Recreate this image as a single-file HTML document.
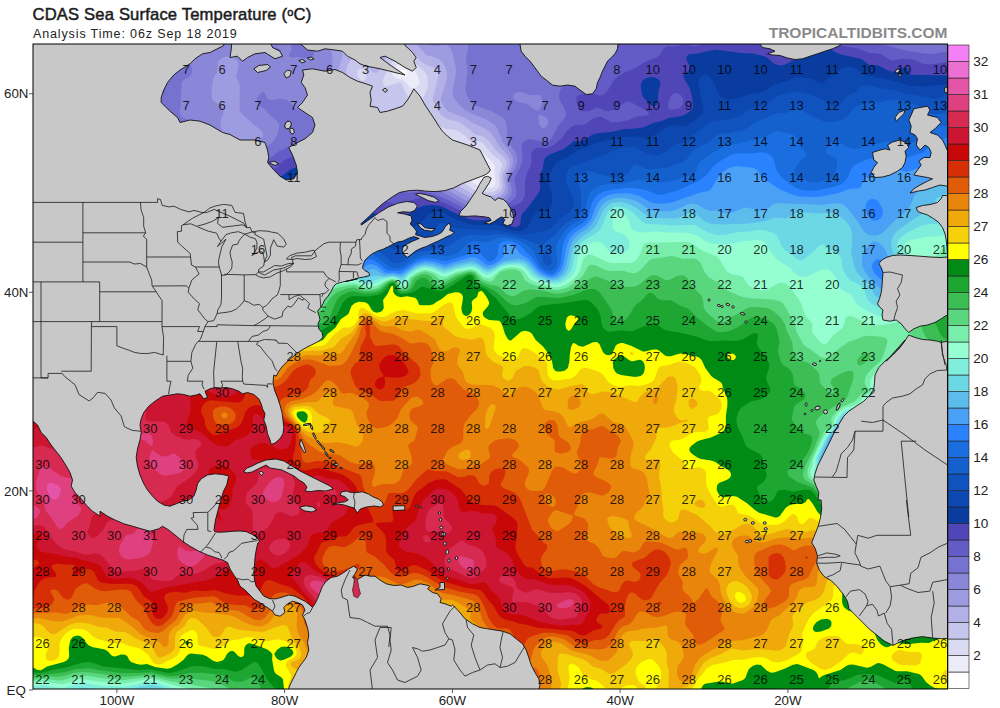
<!DOCTYPE html>
<html><head><meta charset="utf-8"><title>CDAS SST</title>
<style>
html,body{margin:0;padding:0;background:#fff;}
body{width:1000px;height:708px;position:relative;overflow:hidden;font-family:"Liberation Sans",sans-serif;}
.t1{position:absolute;left:32.5px;top:5px;font-size:16.6px;font-weight:normal;color:#1c1c1c;-webkit-text-stroke:0.5px #1c1c1c;white-space:nowrap;transform-origin:0 0;letter-spacing:0.17px}
.t2{position:absolute;left:33px;top:26.5px;font-size:12.5px;color:#222;white-space:nowrap;letter-spacing:0.87px}
.t3{position:absolute;right:52.5px;top:24px;font-size:15.5px;font-weight:bold;color:#8a8a8a;white-space:nowrap;letter-spacing:0px}
svg{position:absolute;left:0;top:0}
svg text{font-family:"Liberation Sans",sans-serif;}
.lab text{font-size:13px;fill:#000;fill-opacity:0.82;text-anchor:middle}
.cbl text{font-size:13.6px;fill:#222}.ax text{font-size:13.3px;fill:#222}
</style></head><body>
<div class="t1">CDAS Sea Surface Temperature (<span style="font-size:11px;vertical-align:4px">o</span>C)</div>
<div class="t2">Analysis Time: 06z Sep 18 2019</div>
<div class="t3">TROPICALTIDBITS.COM</div>
<svg width="1000" height="708" viewBox="0 0 1000 708">
<defs><clipPath id="mc"><rect x="33" y="44" width="914.5" height="645"/></clipPath></defs>
<g clip-path="url(#mc)">
<rect x="33" y="44" width="915" height="646" fill="#c8c8c8"/>
<g class="sst">
<path fill="#ffffff" d="M29.0,40.0 953.0,40.0 953.0,694.0 29.0,694.0 29.0,40.0Z"/>
<path fill="#ececf8" d="M29.0,40.0 953.0,40.0 953.0,694.0 29.0,694.0 29.0,40.0ZM401.0,69.7 398.7,72.0 398.4,74.0 399.4,76.0 401.0,76.4 405.0,76.0 407.0,74.6 407.4,74.0 407.1,72.0 405.2,70.0 403.0,69.4 401.0,69.7ZM471.0,160.9 469.4,162.0 469.3,164.0 472.0,170.0 474.6,174.0 481.5,180.0 485.0,181.4 487.0,181.3 488.5,180.0 488.9,176.0 487.0,170.0 485.6,168.0 483.0,165.7 477.0,162.2 473.0,160.8 471.0,160.9Z"/>
<path fill="#dadaf2" d="M29.0,40.0 953.0,40.0 953.0,694.0 29.0,694.0 29.0,40.0ZM399.0,63.6 395.9,66.0 393.3,70.0 392.4,74.0 393.0,76.1 395.0,78.1 403.0,79.9 405.0,81.2 409.0,86.2 411.0,87.9 413.0,88.4 415.0,88.2 417.0,87.1 419.0,84.0 419.1,80.0 418.0,76.0 414.4,70.0 410.6,66.0 407.0,63.6 403.0,62.7 399.0,63.6ZM455.0,147.4 453.3,150.0 452.8,152.0 452.7,156.0 453.7,160.0 465.0,176.5 474.7,184.0 481.0,187.3 485.0,188.2 489.0,188.3 493.0,187.2 494.7,186.0 495.7,184.0 495.7,182.0 494.8,174.0 494.8,166.0 492.5,162.0 481.0,151.6 478.5,150.0 475.0,149.2 467.0,148.5 459.0,146.1 457.0,146.3 455.0,147.4Z"/>
<path fill="#c6c6ec" d="M29.0,40.0 953.0,40.0 953.0,694.0 29.0,694.0 29.0,40.0ZM359.0,69.1 357.9,70.0 357.0,72.0 357.6,76.0 359.0,78.6 361.0,80.6 363.0,81.1 365.0,79.7 365.8,78.0 366.0,74.0 365.0,70.0 363.0,68.8 361.0,68.5 359.0,69.1ZM397.0,57.5 393.0,60.5 389.3,66.0 382.9,80.0 382.7,84.0 384.9,86.0 387.0,86.2 399.0,82.5 401.0,83.1 402.8,86.0 406.1,94.0 410.7,100.0 412.2,106.0 413.0,107.2 415.0,108.7 417.0,109.0 419.0,108.4 420.6,106.0 421.7,100.0 426.0,92.0 427.5,88.0 428.0,82.0 427.3,76.0 424.8,72.0 413.0,61.1 409.0,58.3 403.0,56.5 399.0,56.8 397.0,57.5ZM435.0,125.7 433.0,126.5 431.0,129.6 429.6,138.0 429.9,142.0 431.2,144.0 437.7,150.0 439.0,152.5 441.3,160.0 442.7,162.0 450.8,170.0 457.0,178.0 473.0,189.2 479.0,191.8 485.0,192.5 491.0,192.2 495.0,191.0 499.0,188.1 499.8,186.0 499.1,174.0 502.0,166.0 502.0,164.0 501.2,162.0 499.6,160.0 491.0,152.8 483.6,144.0 481.0,142.1 479.0,141.4 473.0,142.8 471.0,142.1 465.0,135.6 457.0,130.6 453.0,129.6 447.0,129.2 439.0,126.2 435.0,125.7Z"/>
<path fill="#b2b0e6" d="M29.0,40.0 953.0,40.0 953.0,694.0 29.0,694.0 29.0,40.0ZM399.0,48.0 393.0,49.2 389.0,52.4 386.6,56.0 381.6,68.0 379.0,71.1 377.0,72.4 375.0,72.7 373.0,72.2 371.0,70.8 365.0,62.3 359.0,58.2 355.0,57.4 353.0,57.9 350.5,60.0 347.1,66.0 346.2,72.0 347.0,78.0 350.9,90.0 351.2,94.0 349.8,104.0 351.0,107.2 355.0,109.8 365.0,113.0 369.0,115.2 371.6,118.0 375.0,123.7 377.2,126.0 393.0,138.0 397.0,138.8 405.0,137.4 409.0,138.4 411.0,140.5 415.7,150.0 421.1,156.0 430.9,164.0 441.0,170.2 452.1,182.0 471.0,193.3 477.0,195.9 483.0,196.5 493.0,195.4 499.0,192.8 501.0,190.9 502.5,188.0 502.8,186.0 501.9,176.0 503.2,172.0 506.5,166.0 506.4,162.0 505.0,159.0 502.5,156.0 495.7,150.0 489.0,141.0 485.0,137.4 481.0,135.7 475.0,134.2 461.0,123.3 457.0,121.6 447.0,118.9 443.0,116.5 440.1,114.0 437.4,110.0 433.4,102.0 432.6,98.0 435.6,88.0 438.3,76.0 437.9,72.0 437.0,70.0 434.3,68.0 423.0,63.2 419.6,60.0 415.0,54.2 411.0,51.0 405.0,48.7 399.0,48.0Z"/>
<path fill="#9e9ce0" d="M29.0,40.0 383.6,40.0 381.8,42.0 377.0,50.0 375.0,52.0 373.0,52.2 371.0,51.0 363.0,43.1 361.0,41.6 357.0,40.5 355.0,40.7 351.0,42.4 347.0,45.2 344.4,48.0 343.0,51.8 342.0,58.0 339.6,66.0 339.0,70.0 338.7,82.0 339.9,94.0 337.0,110.0 337.2,112.0 339.1,116.0 343.6,122.0 348.6,126.0 355.0,129.5 363.0,135.0 373.0,138.9 383.0,144.8 391.0,150.9 403.0,156.9 419.0,168.7 423.0,170.7 435.2,174.0 439.0,176.6 444.1,182.0 448.9,186.0 469.0,197.1 477.0,200.1 483.0,200.7 491.0,199.5 497.0,197.7 501.0,195.4 504.2,192.0 505.4,188.0 504.4,180.0 504.5,176.0 509.5,166.0 510.0,162.0 509.0,158.0 506.4,154.0 499.2,146.0 493.0,135.7 489.0,131.0 485.0,128.4 473.0,122.9 463.0,117.0 449.6,112.0 447.0,110.2 445.0,108.0 441.2,102.0 440.6,100.0 441.0,97.0 443.7,90.0 446.9,78.0 446.9,72.0 444.8,66.0 442.1,62.0 439.0,59.2 435.0,57.4 427.0,55.3 425.0,53.7 417.0,44.7 410.7,40.0 953.0,40.0 953.0,694.0 29.0,694.0 29.0,40.0Z"/>
<path fill="#8a86d8" d="M29.0,40.0 329.5,40.0 329.4,46.0 332.5,56.0 332.6,60.0 330.8,72.0 326.3,84.0 325.7,94.0 321.9,104.0 320.6,110.0 320.7,112.0 322.1,116.0 331.9,130.0 337.0,133.8 349.0,138.8 361.0,148.5 379.0,156.0 392.7,164.0 398.3,168.0 409.0,171.7 421.0,178.0 433.0,180.9 437.0,183.1 447.0,190.1 465.6,200.0 473.0,203.0 481.0,204.7 487.0,204.2 497.0,201.3 503.2,198.0 507.1,194.0 508.0,192.0 508.4,188.0 506.7,178.0 508.0,174.0 510.7,170.0 512.6,166.0 513.3,160.0 512.3,156.0 510.1,152.0 502.4,142.0 497.9,130.0 495.5,126.0 493.6,124.0 487.0,119.7 473.0,114.3 465.2,110.0 460.2,106.0 453.9,98.0 452.6,94.0 452.5,90.0 455.5,76.0 455.9,68.0 452.8,54.0 451.0,49.5 449.0,46.3 447.0,44.5 445.0,44.0 437.0,46.1 433.0,46.0 429.0,44.4 424.7,40.0 953.0,40.0 953.0,694.0 29.0,694.0 29.0,40.0ZM223.0,57.5 219.1,60.0 218.0,62.0 217.2,72.0 214.5,76.0 213.0,79.1 211.4,94.0 211.8,98.0 213.0,100.2 214.9,102.0 221.2,106.0 223.6,110.0 223.2,114.0 220.8,120.0 220.3,124.0 224.0,136.0 226.0,140.0 228.8,142.0 238.5,146.0 245.0,149.5 247.0,149.8 251.0,148.1 258.5,142.0 261.8,138.0 262.9,136.0 263.2,134.0 262.4,132.0 261.0,130.4 244.1,116.0 240.5,112.0 239.5,110.0 239.8,86.0 239.0,82.7 236.4,78.0 236.2,76.0 238.5,68.0 238.4,64.0 237.0,60.2 234.8,58.0 231.0,56.7 227.0,56.6 223.0,57.5Z"/>
<path fill="#7672d0" d="M29.0,40.0 190.1,40.0 189.4,48.0 188.0,56.0 188.3,58.0 191.8,68.0 192.1,72.0 191.5,74.0 190.1,76.0 183.8,80.0 182.1,82.0 181.5,84.0 180.6,104.0 179.7,112.0 181.0,115.7 183.0,117.7 185.0,118.7 193.0,120.7 197.1,124.0 198.6,128.0 199.6,136.0 201.0,139.4 207.0,146.9 213.0,157.6 217.0,161.4 223.0,164.1 237.0,166.5 243.0,166.9 249.0,166.0 252.6,164.0 254.5,162.0 259.1,154.0 263.0,149.0 272.7,142.0 275.0,139.2 276.7,136.0 278.7,130.0 279.3,126.0 278.9,124.0 275.9,120.0 268.8,114.0 265.0,108.9 259.0,105.4 256.9,102.0 257.0,99.1 258.5,96.0 261.0,93.1 263.0,91.9 265.0,93.5 267.0,98.0 269.0,100.0 271.0,100.2 281.0,98.6 287.0,99.9 289.8,102.0 292.8,106.0 295.0,108.0 307.0,114.2 311.0,117.7 314.8,122.0 320.0,132.0 329.0,141.7 333.0,143.8 340.9,146.0 344.5,148.0 347.0,150.3 353.0,157.8 361.1,162.0 369.0,168.8 381.0,172.6 391.0,176.9 403.0,178.8 413.0,182.7 433.0,187.9 439.0,190.5 465.0,204.4 475.0,207.7 481.0,208.5 489.0,207.4 499.0,204.0 506.4,200.0 510.4,196.0 511.3,194.0 511.9,190.0 509.4,178.0 510.0,176.0 514.2,170.0 516.0,166.0 517.0,162.0 517.2,158.0 515.5,152.0 509.0,143.3 507.4,140.0 506.8,126.0 506.0,122.0 505.0,119.9 503.0,117.7 495.0,113.0 491.0,111.0 476.8,106.0 473.0,104.1 469.3,100.0 467.3,96.0 465.9,92.0 465.3,88.0 467.6,72.0 466.0,58.0 468.1,50.0 468.4,46.0 468.0,44.0 466.1,40.0 479.9,40.0 481.0,41.9 483.0,42.8 485.0,42.1 485.7,40.0 523.9,40.0 525.0,42.2 527.9,44.0 541.0,46.9 543.0,46.9 545.0,45.8 546.2,44.0 547.4,40.0 921.9,40.0 927.0,41.8 931.0,42.2 938.9,40.0 953.0,40.0 953.0,694.0 29.0,694.0 29.0,40.0ZM521.0,91.9 517.0,92.5 513.9,94.0 512.8,96.0 513.2,98.0 514.8,100.0 519.0,102.4 525.0,103.3 527.0,104.1 537.0,111.3 539.0,110.3 541.5,106.0 542.6,102.0 542.6,100.0 541.0,96.3 539.0,94.8 529.0,95.2 523.0,92.2 521.0,91.9ZM875.0,447.6 873.0,448.1 870.5,450.0 870.6,452.0 872.3,454.0 875.0,455.4 879.0,456.0 883.1,454.0 883.9,452.0 883.0,449.7 880.3,448.0 875.0,447.6ZM539.0,115.0 537.9,118.0 539.0,124.0 541.0,127.2 542.2,128.0 543.0,128.4 545.0,128.1 547.0,126.2 548.0,124.0 548.3,120.0 547.0,117.8 545.0,116.5 541.0,115.1 539.0,115.0ZM290.4,40.0 301.4,40.0 301.7,42.0 303.0,44.5 305.0,45.7 311.0,46.7 313.0,47.8 314.2,50.0 314.5,52.0 313.0,56.7 311.0,58.7 309.0,59.0 299.0,57.1 291.0,57.3 289.0,56.2 289.2,54.0 291.0,51.8 291.7,50.0 290.4,40.0ZM270.2,48.0 273.0,46.9 278.7,48.0 280.6,50.0 280.1,52.0 277.0,53.4 273.0,53.4 270.8,52.0 269.8,50.0 270.2,48.0Z"/>
<path fill="#645cc6" d="M29.0,40.0 155.7,40.0 157.8,46.0 157.7,48.0 151.0,59.0 149.0,60.3 145.0,60.9 142.7,62.0 141.0,65.3 141.3,70.0 143.0,73.1 145.0,74.4 155.0,74.7 159.0,76.8 161.7,80.0 164.4,86.0 164.7,90.0 164.1,92.0 160.3,98.0 159.9,102.0 163.7,118.0 171.0,128.0 177.1,138.0 178.3,142.0 178.8,148.0 180.9,152.0 184.4,156.0 194.2,164.0 202.2,174.0 206.6,178.0 209.0,179.5 213.0,180.3 219.0,179.6 233.0,176.0 255.3,172.0 258.9,170.0 261.0,168.0 269.0,158.7 279.0,151.3 297.0,143.0 301.0,141.6 305.0,141.0 309.0,142.0 315.0,145.0 325.0,153.6 335.0,158.1 347.0,168.6 361.0,176.7 367.0,179.5 389.1,186.0 403.0,192.3 409.0,192.7 421.0,191.2 433.0,193.7 449.0,200.3 465.0,208.7 473.0,211.3 479.0,212.2 487.0,211.5 497.0,208.4 510.1,202.0 514.7,198.0 515.9,196.0 516.6,192.0 514.4,180.0 514.6,178.0 519.9,168.0 522.0,162.0 522.5,158.0 521.7,148.0 522.2,144.0 525.0,140.6 529.0,139.3 533.0,139.6 545.0,142.6 547.0,142.1 549.0,140.9 551.8,138.0 558.1,126.0 563.3,120.0 565.5,116.0 565.8,114.0 565.2,110.0 560.8,102.0 559.3,98.0 559.1,94.0 560.3,90.0 569.0,77.7 579.0,70.2 582.9,66.0 585.4,60.0 586.8,58.0 591.1,54.0 593.0,51.3 594.1,48.0 595.6,40.0 863.7,40.0 867.0,42.8 871.0,44.5 883.0,44.6 905.0,50.2 923.0,53.4 933.0,53.9 943.0,51.9 953.0,51.7 953.0,694.0 29.0,694.0 29.0,40.0ZM859.0,439.4 855.0,441.3 852.8,444.0 851.8,448.0 852.4,452.0 853.5,454.0 857.0,457.4 867.0,463.2 877.0,466.2 881.0,466.6 886.0,466.0 891.0,463.5 894.7,460.0 897.5,456.0 898.6,452.0 897.8,448.0 895.0,444.7 891.0,442.4 883.0,440.1 875.0,439.0 865.0,438.5 859.0,439.4Z"/>
<path fill="#5046b8" d="M29.0,40.0 111.0,40.0 113.2,48.0 112.2,56.0 112.4,60.0 113.7,64.0 119.5,74.0 121.0,82.8 123.0,84.6 131.0,87.5 137.0,91.1 143.0,97.3 146.9,104.0 147.5,108.0 146.5,116.0 148.2,126.0 146.4,136.0 147.0,139.5 149.0,143.2 160.1,160.0 162.1,162.0 167.0,165.3 179.0,177.0 185.0,181.9 191.0,185.4 201.0,189.6 207.0,190.5 225.0,189.4 229.0,188.7 237.0,186.1 246.7,184.0 261.0,178.5 277.0,167.0 281.9,162.0 285.0,159.6 297.0,155.2 301.0,154.6 313.0,157.7 319.0,160.4 335.6,172.0 347.0,184.3 349.0,185.4 357.0,187.6 361.0,189.3 373.0,197.8 377.0,199.8 387.0,201.5 393.0,203.7 397.0,204.1 401.0,203.4 419.0,197.9 423.0,197.6 427.0,198.0 435.0,199.8 443.0,202.3 463.0,212.1 471.0,215.1 477.0,216.2 485.0,215.7 495.0,213.4 507.0,207.9 517.0,204.5 521.0,202.0 523.0,199.8 524.8,196.0 525.1,192.0 524.7,186.0 525.2,180.0 526.6,174.0 531.3,164.0 531.2,154.0 531.7,152.0 532.9,150.0 537.0,147.9 541.0,147.5 547.0,147.9 552.2,146.0 561.0,138.9 567.0,130.7 571.0,127.2 575.0,125.1 577.0,124.7 583.0,125.2 585.0,124.4 591.0,119.6 597.0,117.0 601.0,116.8 611.4,122.0 617.0,122.6 628.4,120.0 637.0,116.2 645.0,115.8 649.0,114.3 649.3,114.0 647.7,112.0 644.6,110.0 633.0,103.2 629.0,101.6 625.0,102.2 615.0,109.2 609.0,111.3 605.0,111.1 599.0,107.9 597.0,107.8 589.0,111.0 583.0,111.4 581.0,110.8 578.3,108.0 576.8,104.0 576.2,98.0 577.2,96.0 579.0,94.9 589.0,93.1 593.0,93.6 599.0,95.7 603.0,95.1 607.0,91.4 614.2,80.0 618.4,76.0 625.0,72.2 635.4,68.0 645.0,61.8 657.0,57.3 660.2,54.0 663.8,48.0 667.0,46.3 675.0,46.4 685.0,44.6 693.0,46.0 697.0,45.9 701.8,44.0 707.5,40.0 721.4,40.0 733.0,42.9 739.0,43.7 749.0,41.4 759.0,44.1 771.0,41.5 783.0,44.0 787.0,44.0 791.0,43.0 796.5,40.0 833.3,40.0 839.0,44.0 843.0,46.0 857.0,48.3 869.0,52.8 881.0,53.9 889.0,59.0 893.0,60.4 903.0,58.8 909.0,58.8 914.2,60.0 923.0,63.8 929.0,64.6 937.0,63.7 953.0,60.0 953.0,694.0 29.0,694.0 29.0,40.0ZM675.0,93.3 673.0,94.0 671.0,95.7 669.0,100.1 668.1,106.0 668.4,108.0 671.0,109.4 675.0,109.3 679.0,108.0 681.7,106.0 683.0,104.0 683.4,100.0 682.9,98.0 681.0,95.2 679.0,93.7 677.0,93.1 675.0,93.3ZM863.0,434.0 857.0,434.8 853.0,436.1 849.0,439.3 846.7,444.0 845.8,450.0 847.0,455.8 850.1,460.0 855.0,464.4 859.0,467.4 864.5,470.0 873.0,473.0 879.0,474.0 889.0,474.4 893.0,473.9 898.0,472.0 903.8,468.0 905.2,466.0 906.7,462.0 908.1,450.0 906.6,444.0 903.0,438.8 898.5,436.0 891.0,434.0 863.0,434.0Z"/>
<path fill="#0a3ca0" d="M29.0,40.0 60.9,40.0 63.9,42.0 75.0,44.8 80.6,48.0 82.6,52.0 84.0,60.0 86.0,64.0 89.0,66.7 97.0,72.0 99.6,76.0 100.0,78.0 99.4,88.0 103.8,100.0 103.4,110.0 105.0,114.2 113.0,124.0 120.4,132.0 124.4,134.0 131.5,136.0 135.0,138.8 139.8,150.0 142.4,160.0 144.7,164.0 149.3,170.0 153.0,173.2 164.7,180.0 170.7,186.0 177.0,190.4 183.2,196.0 187.0,198.2 203.0,200.9 209.0,201.2 229.0,198.6 239.0,196.7 247.0,194.2 263.0,187.0 272.5,180.0 283.0,175.3 291.0,169.0 295.0,167.8 309.0,167.7 315.0,169.7 323.0,177.4 331.0,182.7 333.0,185.1 334.4,188.0 338.4,200.0 341.0,203.8 343.0,205.4 351.0,209.3 355.0,210.0 363.0,209.9 377.0,213.9 389.0,220.6 393.0,220.9 397.0,219.8 407.0,215.1 418.3,208.0 422.8,206.0 427.0,205.2 433.0,205.1 439.0,205.8 443.0,207.0 459.0,215.1 469.0,219.0 473.0,220.1 481.0,220.3 507.0,217.4 507.1,220.0 509.0,224.0 511.2,226.0 515.0,227.2 518.7,226.0 520.2,224.0 521.2,216.0 522.0,214.0 529.0,205.9 539.2,192.0 540.2,188.0 539.7,180.0 540.1,176.0 542.9,168.0 544.1,160.0 545.0,158.0 547.0,156.0 550.8,154.0 563.0,149.2 567.0,146.6 573.0,141.5 575.0,141.0 581.0,141.1 583.0,140.5 591.0,135.5 595.0,133.7 599.0,132.9 611.0,132.0 625.0,129.0 633.0,128.7 643.0,127.5 653.0,123.0 661.0,121.2 669.0,118.0 679.0,116.6 683.0,115.5 687.0,113.5 691.0,110.5 692.6,108.0 693.0,106.0 692.0,96.0 689.6,88.0 683.7,78.0 683.5,76.0 685.0,73.4 689.7,70.0 690.1,68.0 689.6,66.0 686.6,60.0 686.3,58.0 686.8,56.0 689.0,54.3 697.0,53.7 709.0,50.7 717.0,49.7 741.0,52.9 753.0,53.5 765.0,56.4 767.6,58.0 773.0,62.9 777.0,64.8 781.0,65.4 785.0,64.5 793.0,60.4 799.0,59.8 801.0,59.0 806.7,54.0 810.0,52.0 821.0,47.8 825.0,47.3 829.0,48.5 839.2,54.0 861.0,59.0 863.0,60.0 869.0,64.9 871.0,65.2 875.0,64.9 879.0,65.8 887.0,70.1 891.0,71.6 895.0,71.3 901.0,68.0 905.0,67.2 907.0,68.1 908.4,70.0 909.7,74.0 911.0,74.8 947.0,75.4 953.0,74.0 953.0,694.0 29.0,694.0 29.0,40.0ZM883.0,427.8 855.0,431.8 851.0,433.3 847.0,435.9 844.2,440.0 841.8,448.0 841.4,454.0 842.3,458.0 843.3,460.0 848.8,466.0 855.8,472.0 867.0,477.4 875.0,479.9 887.0,481.0 893.0,480.9 907.0,477.4 914.3,474.0 916.9,472.0 919.8,468.0 921.0,464.0 921.0,458.0 919.6,450.0 911.9,436.0 910.1,434.0 907.1,432.0 899.0,429.0 891.0,427.6 883.0,427.8ZM646.3,78.0 651.0,77.1 655.0,77.6 659.0,79.5 660.5,82.0 660.4,84.0 658.4,92.0 657.7,102.0 656.8,104.0 655.0,105.7 653.0,106.1 649.0,103.5 643.7,98.0 641.8,94.0 640.9,88.0 641.0,83.9 641.6,82.0 643.0,80.1 646.3,78.0ZM508.5,214.0 510.6,214.0 509.0,216.5 507.1,216.0 508.5,214.0Z"/>
<path fill="#0c48b0" d="M29.0,40.0 35.4,40.0 38.1,42.0 47.0,46.8 51.0,50.1 54.7,54.0 61.3,66.0 71.2,80.0 72.4,84.0 72.3,90.0 73.4,94.0 75.2,96.0 83.0,99.0 85.0,100.8 89.8,116.0 94.1,124.0 97.4,132.0 103.0,141.0 105.6,144.0 108.3,146.0 119.0,149.5 123.0,152.2 126.0,156.0 129.0,162.0 130.5,164.0 137.0,168.6 140.0,172.0 144.2,182.0 146.7,186.0 151.0,190.8 155.0,193.6 171.0,198.4 179.0,204.2 183.0,206.4 193.0,207.7 207.0,210.6 215.0,210.6 239.0,207.8 251.0,205.1 259.0,200.8 267.0,197.6 275.0,192.7 281.0,189.9 289.0,183.6 293.0,181.1 297.0,180.3 301.0,180.6 307.0,183.3 320.4,194.0 326.9,204.0 331.6,214.0 337.0,221.4 341.0,225.1 355.0,230.0 359.0,230.0 365.0,228.7 369.0,228.7 377.0,230.3 385.0,231.0 397.0,234.4 400.7,234.0 403.0,233.1 407.5,230.0 417.0,225.3 421.0,222.4 429.2,214.0 433.0,211.8 437.0,211.0 442.0,212.0 457.0,220.1 469.0,223.9 477.0,225.0 495.0,224.8 501.0,226.2 513.0,230.6 519.0,231.0 523.1,230.0 526.3,228.0 528.1,226.0 533.4,216.0 537.0,212.1 539.0,211.0 545.0,211.3 547.0,210.7 549.0,209.1 551.1,206.0 552.3,202.0 552.3,196.0 548.4,184.0 547.3,178.0 548.0,176.0 552.1,170.0 555.0,164.2 557.0,162.1 569.0,156.3 578.3,150.0 599.0,142.3 615.8,138.0 621.0,137.2 635.0,136.3 645.0,137.9 651.0,137.4 667.0,127.2 671.0,125.3 675.0,125.0 683.0,126.4 685.0,126.2 689.0,124.5 699.0,117.0 701.9,114.0 703.0,112.0 703.3,108.0 701.0,99.2 698.2,82.0 698.7,80.0 701.0,76.7 703.0,74.9 705.0,74.2 707.0,74.7 709.0,76.3 713.0,80.8 714.8,84.0 717.3,92.0 719.0,94.8 723.0,98.3 727.0,99.7 739.7,98.0 751.0,93.7 763.0,91.9 766.6,90.0 771.0,86.4 775.0,84.2 787.0,81.0 793.0,78.3 797.0,77.2 801.0,77.1 809.0,78.4 813.0,79.7 821.0,83.7 823.0,83.4 828.0,78.0 837.7,72.0 841.0,68.8 843.0,67.6 847.0,66.9 851.0,66.9 855.0,68.0 861.0,73.3 865.0,74.9 897.0,81.5 909.0,85.7 923.0,86.5 933.0,85.4 953.0,84.4 953.0,694.0 29.0,694.0 29.0,40.0ZM889.0,422.0 883.0,422.6 871.0,426.0 853.0,429.5 849.0,431.1 845.0,433.8 843.0,436.1 841.0,439.9 838.1,450.0 837.8,456.0 839.6,462.0 842.6,466.0 846.6,470.0 855.0,476.6 865.9,482.0 877.0,485.8 885.0,487.0 893.0,486.8 917.0,483.1 921.0,481.9 925.0,479.0 927.9,476.0 931.6,470.0 932.4,464.0 932.0,450.0 931.0,446.0 929.0,443.2 923.0,437.7 916.9,430.0 913.0,427.1 907.0,424.7 899.0,422.7 889.0,422.0Z"/>
<path fill="#1052be" d="M29.0,76.0 29.0,74.8 35.7,90.0 37.2,92.0 47.0,100.7 55.0,103.8 56.8,106.0 58.0,116.0 60.3,120.0 63.0,123.1 69.0,128.0 77.0,131.0 81.0,133.5 90.7,142.0 95.9,150.0 99.0,152.9 103.0,155.3 111.0,158.4 113.6,160.0 115.1,162.0 117.6,170.0 121.5,174.0 131.1,180.0 133.0,182.8 136.0,190.0 137.6,192.0 151.0,200.8 157.0,204.1 169.0,207.1 178.9,214.0 183.0,215.3 201.0,217.6 223.0,218.7 243.0,215.1 255.0,214.4 259.0,213.6 267.0,208.7 285.0,203.1 289.0,200.3 295.0,193.5 297.0,192.5 299.0,192.4 301.0,193.3 303.0,195.5 307.0,204.8 309.0,207.8 317.7,214.0 322.7,222.0 327.0,226.4 333.0,234.0 335.8,236.0 339.0,237.2 355.0,240.6 365.0,240.3 369.0,240.8 383.0,243.9 393.0,248.4 403.0,249.1 407.0,248.5 417.0,244.7 425.0,243.7 429.0,242.1 431.0,239.8 435.0,229.7 439.0,224.1 441.0,223.0 443.0,223.2 451.0,226.7 457.0,228.3 479.0,229.8 499.0,230.2 515.0,233.9 521.0,234.7 532.1,234.0 547.0,230.2 551.0,228.0 561.0,218.3 569.9,212.0 573.0,208.0 573.9,204.0 573.1,198.0 569.8,190.0 566.4,184.0 565.5,180.0 567.0,172.0 569.0,168.6 571.0,166.9 591.0,159.0 603.0,155.8 617.0,149.1 623.0,147.5 633.0,146.9 636.1,148.0 645.0,152.6 651.0,154.7 655.0,155.5 659.0,155.1 665.2,152.0 675.0,144.2 681.0,142.9 685.0,141.2 693.0,134.5 709.0,122.4 715.0,120.6 727.0,119.7 738.6,116.0 741.0,114.9 749.0,109.3 761.0,105.9 769.0,101.6 777.0,96.1 781.0,94.4 787.0,93.6 795.0,91.5 799.0,91.7 805.0,92.9 809.0,94.0 823.5,100.0 831.0,104.8 835.0,106.3 837.0,106.1 839.0,104.9 845.0,97.7 849.0,95.0 855.0,92.3 859.0,87.6 861.0,86.0 863.0,85.3 867.0,85.2 881.0,88.6 893.0,89.9 907.0,94.0 927.0,97.1 935.0,98.9 939.0,98.5 947.0,94.2 953.0,92.8 953.0,694.0 29.0,694.0 29.0,76.0ZM883.0,417.9 869.0,423.1 851.0,427.5 847.0,429.4 843.0,432.3 841.0,434.7 839.0,438.4 835.3,450.0 834.7,458.0 836.7,464.0 843.2,472.0 853.0,479.6 861.0,484.1 879.0,491.5 887.0,492.7 907.0,492.8 921.0,492.0 926.2,490.0 930.9,486.0 935.0,480.9 937.8,476.0 939.3,472.0 943.0,454.0 942.5,450.0 940.1,444.0 937.2,440.0 929.1,432.0 919.8,424.0 913.0,420.0 906.6,418.0 895.0,416.2 889.0,416.5 883.0,417.9Z"/>
<path fill="#1460cc" d="M889.8,100.0 897.0,99.8 911.0,102.7 917.0,105.2 928.3,112.0 933.0,113.7 941.0,113.7 953.0,111.1 953.0,450.8 952.0,448.0 946.0,438.0 932.4,426.0 921.0,417.3 915.0,413.7 911.0,412.2 897.0,410.3 893.0,410.3 885.0,412.5 867.0,420.7 851.0,424.9 843.0,429.5 839.0,433.9 835.4,442.0 832.1,454.0 831.9,460.0 833.2,464.0 835.6,468.0 840.6,474.0 845.0,478.0 857.0,485.9 877.0,495.9 887.0,498.6 905.0,500.8 933.0,500.8 936.9,500.0 939.0,498.2 943.9,488.0 945.2,484.0 947.3,468.0 953.0,454.4 953.0,694.0 29.0,694.0 29.0,121.6 39.0,124.5 47.2,130.0 51.1,134.0 54.6,144.0 56.4,146.0 65.0,149.4 72.1,156.0 80.6,162.0 87.0,167.4 91.0,169.0 99.0,170.6 103.0,173.1 117.5,186.0 125.0,196.4 131.0,202.0 135.0,203.9 145.0,206.5 155.0,212.3 167.0,217.1 173.0,221.2 177.0,223.2 195.0,227.4 211.0,225.9 223.0,226.4 241.0,224.4 249.0,221.5 261.0,220.5 269.0,218.4 281.0,220.1 293.0,216.9 297.0,216.9 303.0,219.8 315.0,232.4 319.0,235.7 328.3,242.0 341.0,249.1 345.0,250.0 349.0,250.0 365.0,247.6 371.0,248.0 375.0,249.3 379.0,251.5 391.0,261.5 393.0,262.5 397.0,263.1 401.0,262.3 403.0,261.3 413.0,254.4 417.0,252.5 421.0,251.4 432.6,250.0 447.0,246.7 451.0,244.6 459.8,238.0 464.3,236.0 469.0,234.9 473.0,234.6 485.0,235.4 497.0,234.1 505.0,234.5 523.0,238.8 539.0,244.4 541.0,244.9 543.0,244.5 555.0,234.7 565.0,223.9 577.0,216.2 579.2,214.0 580.6,210.0 581.1,198.0 579.9,188.0 577.5,180.0 577.6,178.0 578.4,176.0 580.4,174.0 584.3,172.0 587.0,171.3 591.0,171.4 599.0,174.2 605.0,175.2 613.6,178.0 617.0,178.5 621.0,177.6 627.3,174.0 629.2,172.0 632.7,166.0 635.0,164.6 639.0,165.0 645.0,168.5 649.0,169.6 659.0,168.1 669.0,167.5 676.1,164.0 683.0,162.2 685.0,161.2 691.0,153.4 695.0,149.3 699.0,146.9 709.5,142.0 717.0,134.5 719.0,133.8 729.0,133.1 743.0,130.3 747.0,128.3 755.0,122.0 765.0,118.6 775.0,113.7 779.0,113.1 785.0,113.5 787.0,112.8 793.0,108.8 797.0,107.6 801.0,108.9 811.0,116.1 823.0,121.1 827.0,122.0 835.0,121.8 841.0,120.5 845.0,118.3 849.4,114.0 853.0,108.8 857.3,106.0 871.0,101.6 881.0,102.1 889.8,100.0ZM545.0,253.0 543.0,254.9 542.7,256.0 543.0,262.0 545.0,264.6 547.0,265.6 549.0,265.8 551.3,264.0 551.7,262.0 551.0,258.2 549.0,255.1 547.0,253.5 545.0,253.0Z"/>
<path fill="#1a6ee0" d="M936.3,126.0 941.0,125.4 949.0,126.9 953.0,126.9 953.0,433.3 943.0,426.0 933.9,418.0 917.0,407.6 913.0,406.1 909.0,405.4 899.0,404.6 893.0,405.0 885.0,408.1 867.0,417.7 849.0,423.2 841.0,428.8 837.0,433.9 833.4,442.0 829.7,454.0 829.1,460.0 830.0,464.0 833.3,470.0 839.0,476.7 845.0,481.8 853.0,487.3 875.0,499.8 881.0,502.7 889.0,505.5 913.0,510.3 935.0,510.6 939.0,509.8 943.0,507.9 947.1,504.0 953.0,497.0 953.0,694.0 29.0,694.0 29.0,139.9 33.0,144.3 43.0,158.1 47.0,160.9 59.0,165.1 67.0,170.3 70.4,174.0 73.6,180.0 75.2,182.0 83.0,188.1 97.0,194.3 109.0,197.7 129.0,210.8 133.0,212.5 143.0,215.3 155.0,221.0 169.0,229.0 187.0,234.8 193.0,235.2 211.0,234.0 225.0,234.5 233.0,233.1 243.0,232.6 253.0,229.0 259.0,228.2 267.0,228.5 275.0,231.1 289.0,229.7 303.0,234.2 307.0,237.1 315.0,244.8 319.0,247.1 327.0,250.5 335.0,256.6 339.0,258.5 345.0,259.6 351.0,259.4 355.0,258.3 363.0,254.4 369.0,253.6 373.0,254.7 377.0,257.0 389.0,266.6 393.0,267.8 397.0,268.1 399.0,267.9 403.0,266.2 413.0,259.3 421.0,256.0 425.0,255.3 433.0,255.1 447.0,256.2 454.4,254.0 459.0,251.8 461.2,250.0 466.4,244.0 471.0,241.4 475.0,240.9 485.0,242.6 487.0,242.5 498.6,238.0 507.0,237.6 516.8,240.0 521.3,242.0 527.9,246.0 531.0,248.5 533.8,252.0 538.5,262.0 541.0,266.1 543.0,268.0 547.0,270.4 551.0,271.1 553.0,270.3 555.0,268.4 556.9,264.0 557.2,260.0 556.0,248.0 556.2,246.0 557.7,242.0 564.1,232.0 567.6,228.0 571.0,225.3 580.4,220.0 583.0,217.5 585.0,213.8 586.8,202.0 589.2,194.0 591.0,190.9 593.0,188.9 598.7,186.0 605.0,184.3 619.0,184.1 639.0,179.7 651.0,180.8 661.0,182.8 675.0,180.6 683.0,177.2 693.0,174.0 695.4,172.0 696.6,170.0 698.3,164.0 701.0,160.4 713.0,152.4 725.0,146.0 729.0,144.9 741.0,142.9 755.0,139.1 763.0,137.8 767.0,136.0 773.0,131.7 777.0,130.7 791.3,134.0 795.0,135.7 797.2,138.0 799.7,146.0 800.8,148.0 805.1,152.0 806.2,154.0 805.7,156.0 799.2,162.0 795.2,168.0 794.0,172.0 794.5,174.0 797.0,176.4 803.0,178.5 809.0,181.9 811.0,182.5 815.0,182.7 831.0,179.0 833.1,178.0 834.7,176.0 836.9,166.0 837.0,160.0 835.0,156.9 826.4,154.0 825.1,152.0 826.0,150.0 833.0,140.6 835.0,140.2 837.0,140.8 847.0,146.8 851.0,148.3 855.0,149.0 859.0,148.5 865.0,145.7 869.0,144.4 879.0,143.5 887.0,141.8 891.0,143.0 899.0,146.5 903.0,146.8 915.0,141.4 928.6,130.0 933.0,127.3 936.3,126.0Z"/>
<path fill="#2a82ff" d="M952.0,136.0 953.0,135.8 953.0,423.5 944.9,416.0 936.5,410.0 931.0,407.0 917.0,401.0 911.0,399.2 905.0,398.7 899.0,398.6 893.0,399.7 887.0,402.5 867.0,414.8 861.0,417.2 849.0,420.6 845.0,423.1 841.0,426.6 837.0,430.9 832.3,440.0 827.5,454.0 826.4,460.0 827.0,464.2 829.7,470.0 834.4,476.0 840.6,482.0 853.0,491.1 879.0,507.2 885.0,510.2 893.0,512.9 911.0,517.4 935.0,519.4 939.0,519.2 943.8,518.0 947.9,516.0 953.0,512.3 953.0,694.0 29.0,694.0 29.0,155.9 31.0,158.1 35.5,166.0 39.0,169.3 60.4,182.0 77.0,196.0 89.0,203.1 98.6,212.0 101.0,213.6 105.0,214.7 115.0,214.4 119.0,215.0 123.0,216.7 131.0,221.5 149.0,227.4 161.0,233.5 185.0,240.7 207.0,241.0 219.0,242.3 230.1,242.0 239.0,240.8 253.0,237.1 257.0,236.7 275.0,239.4 287.0,238.8 291.0,240.3 296.8,244.0 305.0,252.2 310.2,256.0 315.0,257.9 325.0,259.7 339.6,266.0 347.0,267.1 355.0,266.0 359.0,264.2 365.0,260.1 369.0,259.2 373.0,260.0 377.0,262.0 387.0,270.0 399.0,271.0 403.0,269.6 415.0,261.6 421.0,259.2 425.0,258.5 431.0,258.5 437.0,259.4 443.0,261.0 447.0,261.1 463.2,256.0 466.6,254.0 473.0,248.8 475.0,248.8 477.2,250.0 486.1,260.0 489.0,261.4 491.0,261.4 494.0,260.0 497.4,256.0 497.9,254.0 497.9,248.0 499.3,244.0 503.0,241.4 509.0,240.7 515.0,242.4 520.4,246.0 531.0,256.5 537.6,266.0 541.0,269.7 547.0,273.4 551.0,274.3 553.0,273.9 556.1,272.0 559.0,268.0 560.7,262.0 562.5,246.0 564.6,240.0 567.0,235.5 571.6,230.0 581.8,224.0 586.2,220.0 588.5,216.0 591.6,204.0 594.7,198.0 599.0,193.9 605.0,191.0 613.0,189.5 627.0,187.9 633.0,187.9 645.0,189.7 657.0,194.6 663.0,194.5 679.0,190.0 699.0,180.6 705.5,176.0 713.0,166.8 717.0,163.0 731.0,154.7 737.0,153.2 751.0,153.5 761.0,152.2 767.0,153.2 771.5,156.0 773.8,160.0 775.9,168.0 777.5,172.0 782.2,178.0 787.3,182.0 796.3,188.0 801.0,189.8 811.0,190.8 817.0,190.3 835.0,186.7 841.2,184.0 843.9,182.0 847.4,178.0 851.0,169.3 853.3,166.0 855.0,164.8 867.0,159.5 869.0,158.8 873.0,158.8 879.0,160.7 883.0,161.3 903.0,159.1 915.0,154.8 923.0,152.5 925.0,151.1 931.9,144.0 937.0,140.4 952.0,136.0Z"/>
<path fill="#4aa0f5" d="M952.7,148.0 953.0,147.8 953.0,413.0 933.0,400.4 915.0,394.3 909.0,392.9 903.0,392.3 899.0,392.6 893.0,394.3 887.0,397.4 866.8,412.0 861.0,414.7 849.0,418.0 843.0,422.4 836.0,430.0 831.6,438.0 824.6,456.0 823.7,460.0 824.7,466.0 827.0,471.2 830.5,476.0 836.5,482.0 849.0,492.1 869.8,506.0 879.0,512.9 885.0,516.5 907.0,523.8 923.0,525.9 935.0,528.2 941.0,528.5 945.0,528.0 953.0,525.1 953.0,694.0 29.0,694.0 29.0,179.2 33.8,182.0 47.3,192.0 57.0,198.0 65.0,205.1 69.0,207.0 77.0,208.2 81.0,209.6 95.0,219.2 99.0,221.4 105.0,223.2 115.0,224.6 129.0,231.2 139.0,233.1 143.0,235.1 149.0,239.1 153.0,240.7 167.0,242.7 183.0,246.7 215.0,249.6 233.0,248.5 259.0,244.3 267.0,244.4 287.0,248.2 291.0,250.3 301.0,258.1 309.0,262.5 313.5,264.0 327.0,266.8 341.0,271.3 347.0,271.8 360.1,270.0 363.0,268.6 367.0,265.1 371.0,264.0 377.0,266.0 385.0,272.4 387.0,273.0 393.0,272.6 399.0,273.4 401.0,273.2 403.0,272.3 415.0,264.1 419.0,262.4 425.0,261.0 433.0,261.6 445.0,264.9 471.0,257.3 473.0,257.1 477.0,258.3 487.0,265.1 491.0,265.1 495.0,263.4 502.5,258.0 504.1,256.0 503.6,248.0 505.0,245.5 507.0,244.3 509.0,244.0 511.0,244.3 514.2,246.0 516.1,248.0 519.0,252.9 529.0,259.5 537.0,268.9 540.3,272.0 547.0,275.7 551.0,276.6 554.3,276.0 557.0,274.6 561.2,270.0 563.4,264.0 565.3,252.0 566.8,246.0 569.1,240.0 571.5,236.0 575.5,232.0 583.0,227.5 587.4,224.0 591.6,218.0 595.2,208.0 598.6,202.0 603.0,198.0 609.0,195.1 617.0,193.5 629.0,193.3 639.0,195.8 649.0,201.4 653.0,203.0 657.0,203.6 663.0,203.7 671.0,202.7 699.0,192.9 709.0,190.8 711.8,188.0 719.0,176.0 722.8,172.0 729.0,167.9 733.0,166.7 737.0,166.3 751.0,167.4 755.0,168.4 757.3,170.0 761.2,176.0 765.8,180.0 779.0,188.9 793.0,194.9 797.0,196.1 803.0,196.8 815.0,197.1 823.0,196.3 839.0,192.9 849.0,189.1 859.0,188.3 861.0,186.4 862.9,182.0 865.0,179.0 869.0,176.3 883.0,175.4 885.0,174.8 891.0,171.1 894.7,170.0 897.5,170.0 907.0,171.7 917.0,168.4 927.0,167.7 931.0,165.5 939.0,156.8 952.7,148.0ZM869.0,199.7 867.0,201.7 865.5,206.0 866.1,212.0 868.3,216.0 871.0,219.2 873.0,220.5 877.0,220.6 881.0,218.0 882.3,216.0 883.0,212.0 882.0,208.0 879.0,202.3 877.0,200.2 873.0,198.8 869.0,199.7ZM877.0,259.3 875.0,260.4 873.0,262.7 871.9,266.0 872.0,268.0 873.7,272.0 877.0,276.3 881.0,279.6 883.0,279.7 885.0,278.6 886.3,276.0 886.4,272.0 885.6,268.0 883.0,262.4 881.0,260.3 879.0,259.3 877.0,259.3Z"/>
<path fill="#5cbcec" d="M951.1,164.0 953.0,162.2 953.0,405.7 947.3,402.0 940.9,396.0 937.0,393.8 921.0,390.5 905.0,385.7 901.0,385.7 895.0,387.4 887.0,391.9 878.0,400.0 865.0,410.2 859.0,413.1 849.0,415.4 847.0,416.4 843.0,419.9 835.0,429.6 830.0,438.0 822.4,456.0 821.2,460.0 822.1,466.0 824.1,472.0 826.8,476.0 830.4,480.0 845.0,492.8 859.0,503.4 868.6,510.0 877.0,517.4 883.0,521.6 889.0,524.6 903.0,529.4 933.0,537.5 941.0,538.1 953.0,536.7 953.0,694.0 160.6,694.0 153.0,692.8 143.0,693.2 138.0,694.0 29.0,694.0 29.0,205.5 35.0,208.9 47.0,211.7 49.0,212.8 55.2,218.0 61.0,220.7 67.0,222.4 77.0,223.6 87.0,227.2 101.8,230.0 119.0,235.1 123.0,237.1 130.2,242.0 137.0,244.8 145.0,249.0 157.0,251.3 167.0,254.0 171.0,254.4 183.0,254.0 193.0,255.0 209.0,257.6 213.0,257.7 241.0,253.7 253.0,253.0 263.0,251.4 267.0,251.6 277.0,256.2 289.0,258.9 301.0,265.0 307.0,267.4 327.0,271.2 339.0,274.2 345.0,275.0 365.0,273.6 371.0,269.1 373.0,269.0 377.0,270.2 381.0,273.2 385.0,274.7 393.0,274.2 401.0,275.5 403.0,274.7 415.0,266.2 423.0,263.4 427.0,263.0 431.0,263.5 437.0,264.9 445.0,267.7 457.0,263.8 471.0,260.8 475.0,261.4 485.0,267.2 487.0,268.0 489.0,268.1 494.6,266.0 503.0,261.2 509.0,259.7 519.0,258.7 523.0,259.5 527.0,261.6 531.0,265.2 536.9,272.0 541.0,274.9 547.0,277.6 553.0,278.5 557.0,277.4 559.3,276.0 561.5,274.0 564.3,270.0 565.8,266.0 569.7,248.0 572.2,242.0 574.9,238.0 579.0,234.1 587.0,229.0 591.0,225.3 594.5,220.0 600.0,208.0 603.1,204.0 607.0,200.9 613.0,198.4 617.0,197.8 623.0,197.8 633.0,199.7 639.0,202.6 649.0,209.6 653.0,211.1 669.0,211.2 673.0,210.8 677.0,209.5 687.0,204.6 693.0,203.6 697.0,204.4 707.0,210.1 711.0,210.8 717.0,210.7 725.0,213.6 729.0,213.3 733.8,212.0 745.0,207.5 749.0,207.9 759.0,211.1 763.0,210.8 767.0,208.9 773.0,204.6 777.0,203.3 803.0,203.9 821.0,205.1 835.0,203.3 839.0,203.4 843.0,204.6 847.0,207.8 858.1,222.0 863.0,230.3 865.0,232.5 869.0,234.8 875.0,235.8 879.0,234.9 883.0,232.5 895.0,220.3 905.2,212.0 910.3,206.0 914.2,196.0 919.2,190.0 923.2,186.0 927.0,183.2 945.0,173.9 947.2,172.0 951.1,164.0ZM873.0,241.7 871.0,242.7 867.8,246.0 863.1,254.0 861.9,260.0 862.4,266.0 864.0,270.0 866.5,274.0 877.0,286.0 881.0,288.8 883.0,289.2 887.0,288.6 891.3,286.0 893.8,282.0 894.4,276.0 893.2,270.0 889.0,258.3 885.0,249.6 883.0,246.5 879.0,242.8 875.0,241.4 873.0,241.7Z"/>
<path fill="#6cd8e6" d="M949.3,192.0 953.0,190.0 953.0,394.1 947.0,389.2 941.0,386.7 921.0,384.0 911.0,380.4 905.0,379.0 899.0,379.0 893.0,381.0 889.0,383.5 885.0,386.9 877.0,396.6 864.1,408.0 857.0,411.5 847.0,413.8 843.0,417.1 828.4,438.0 819.4,458.0 819.0,460.0 820.9,472.0 824.8,478.0 843.0,494.8 865.0,512.5 873.0,520.1 878.2,524.0 889.0,530.1 925.0,545.7 929.0,546.5 953.0,547.1 953.0,694.0 169.5,694.0 159.0,689.6 151.0,688.6 141.0,689.7 129.0,692.7 123.0,693.6 99.7,694.0 85.0,692.3 69.3,694.0 45.4,694.0 39.0,693.0 29.0,694.0 29.0,217.7 35.0,218.8 39.0,220.3 46.6,228.0 51.0,230.6 55.0,231.6 63.0,232.4 73.0,235.4 83.0,236.8 97.0,239.9 100.6,242.0 105.0,245.5 109.0,247.6 121.0,249.8 127.0,251.5 132.0,254.0 139.0,259.1 143.0,260.2 153.0,260.3 169.0,262.7 181.0,262.1 191.0,263.4 211.0,264.6 223.0,262.9 237.0,263.5 253.0,261.8 257.0,262.3 269.7,266.0 289.0,269.3 297.0,272.3 303.0,273.7 319.0,274.0 343.0,277.3 355.0,276.5 365.0,277.9 367.0,277.8 375.0,275.4 385.0,276.4 393.0,275.5 401.0,277.6 403.0,277.2 409.0,272.0 415.0,268.1 419.0,266.3 425.0,264.9 433.0,265.9 443.0,269.5 445.0,269.8 459.0,265.5 469.0,263.5 473.0,263.5 477.0,264.8 485.0,269.7 489.0,270.3 493.0,268.8 503.0,263.3 509.0,262.1 519.0,261.5 523.0,262.3 527.0,264.6 535.0,273.2 539.0,276.1 547.0,279.4 553.0,280.5 559.0,279.0 563.0,276.2 565.1,274.0 568.5,268.0 571.8,252.0 575.1,244.0 580.3,238.0 589.2,232.0 594.0,228.0 596.9,224.0 602.6,212.0 605.0,208.3 609.0,204.6 613.0,202.6 617.0,201.9 621.0,202.1 629.2,204.0 636.5,208.0 647.0,216.1 651.0,217.7 675.0,218.6 681.0,217.1 689.0,212.6 691.0,212.3 695.0,213.5 705.0,221.3 709.0,223.2 713.0,224.0 723.0,224.6 749.0,223.4 765.0,220.9 775.0,217.5 785.0,218.3 789.0,217.0 795.0,213.2 799.0,212.2 805.0,212.3 815.0,213.5 831.0,212.9 835.0,213.7 841.0,217.1 845.0,220.2 849.7,226.0 851.3,230.0 852.2,238.0 852.1,244.0 851.1,250.0 851.3,254.0 854.2,266.0 855.7,270.0 859.8,276.0 868.7,284.0 875.0,295.5 877.0,297.3 881.0,298.7 887.0,297.3 895.0,292.4 898.6,288.0 900.8,282.0 901.2,276.0 900.5,272.0 893.8,256.0 891.5,248.0 891.3,242.0 893.1,236.0 895.0,233.3 899.0,229.4 911.0,220.9 921.0,214.4 933.0,209.3 934.4,208.0 935.3,206.0 935.2,200.0 936.5,198.0 945.0,194.4 949.3,192.0Z"/>
<path fill="#80eedc" d="M611.9,208.0 615.0,206.6 619.0,206.2 625.8,208.0 629.3,210.0 634.5,214.0 642.3,222.0 646.9,224.0 661.0,224.5 671.0,225.6 693.0,224.8 697.0,226.0 709.0,232.7 717.0,234.9 725.0,234.8 739.0,232.0 749.0,231.5 759.0,229.8 763.0,230.1 770.8,232.0 774.8,234.0 776.8,236.0 779.2,240.0 781.4,246.0 784.6,250.0 797.0,259.0 801.0,260.7 803.0,259.9 813.2,252.0 819.0,246.1 821.0,244.7 823.0,244.8 829.4,250.0 839.0,254.7 841.0,257.4 841.8,260.0 842.0,266.0 842.9,270.0 848.1,278.0 851.0,280.7 859.0,284.7 863.0,287.7 865.0,291.5 866.9,298.0 869.5,302.0 875.0,305.7 881.0,307.7 883.0,307.7 887.0,306.4 899.0,299.1 903.4,294.0 906.6,286.0 908.4,276.0 908.1,270.0 906.4,266.0 899.6,256.0 898.0,252.0 897.1,248.0 897.7,242.0 900.0,238.0 905.0,234.0 917.0,227.7 923.0,225.3 931.0,223.8 943.0,224.7 947.0,224.0 953.0,221.3 953.0,384.1 945.0,380.8 921.0,375.7 913.0,373.3 907.0,372.1 899.0,372.1 895.0,373.3 889.0,376.0 885.0,378.6 881.0,382.7 875.0,394.6 868.3,400.0 862.8,406.0 857.0,409.3 847.0,411.4 845.0,412.5 841.0,416.5 833.0,430.0 826.8,438.0 818.3,456.0 817.1,460.0 817.6,472.0 819.5,476.0 825.1,482.0 841.0,496.9 873.1,526.0 907.0,546.8 923.0,555.0 931.0,556.8 941.0,555.3 953.0,555.0 953.0,694.0 177.6,694.0 161.0,686.7 155.0,685.2 151.0,684.8 143.0,685.7 129.0,689.2 123.0,690.1 101.0,690.0 83.0,687.6 61.0,691.7 55.0,691.4 41.0,688.8 29.0,690.2 29.0,230.9 35.5,236.0 47.0,240.9 51.0,242.0 61.0,242.6 64.5,244.0 69.0,247.5 73.0,249.5 83.0,249.9 95.5,256.0 113.0,262.3 117.0,263.0 127.0,263.1 137.0,267.3 141.0,268.4 153.0,268.3 171.0,270.7 181.0,270.2 193.0,271.3 203.0,271.1 213.0,271.7 223.0,270.9 235.0,272.7 251.0,272.2 271.0,276.1 283.0,280.5 305.0,281.0 319.0,278.4 341.0,279.5 353.0,278.7 357.0,279.0 367.0,281.8 371.0,281.2 379.0,278.8 393.0,276.6 397.0,277.5 401.0,280.0 403.0,280.5 408.8,274.0 413.0,271.0 419.0,267.9 425.0,266.6 433.0,267.7 441.0,271.0 445.0,271.8 449.0,270.9 457.0,267.9 471.0,265.4 477.0,267.0 483.0,271.1 487.0,272.6 491.0,271.8 499.0,266.9 503.0,265.1 509.0,263.8 517.0,263.5 521.0,264.1 525.0,265.9 533.0,274.4 538.1,278.0 549.0,281.7 555.0,282.5 559.0,281.6 562.3,280.0 569.1,274.0 572.2,268.0 574.7,254.0 576.1,250.0 578.2,246.0 583.0,241.1 597.0,232.5 599.8,230.0 602.1,226.0 606.9,214.0 609.6,210.0 611.9,208.0Z"/>
<path fill="#96ffd2" d="M616.7,212.0 619.0,211.8 621.0,212.3 625.0,214.9 628.7,220.0 631.2,228.0 632.4,230.0 637.0,232.1 643.0,232.5 657.0,231.5 669.0,232.8 681.0,232.5 689.0,233.3 697.0,235.5 707.0,242.3 711.0,243.4 721.0,244.4 727.0,244.2 741.0,241.4 749.0,241.1 757.0,239.6 761.0,239.9 765.0,242.7 773.0,254.9 777.0,259.3 781.0,262.5 789.0,267.1 795.0,273.6 799.0,276.3 803.0,276.9 809.0,275.7 819.0,270.7 823.0,269.4 827.0,269.4 829.0,270.2 831.0,271.6 835.0,276.5 836.9,280.0 839.2,286.0 841.0,289.1 843.0,290.8 851.0,294.5 852.3,296.0 855.0,302.0 858.8,306.0 867.0,311.0 877.0,315.4 881.0,316.2 887.0,315.6 891.0,314.2 894.7,312.0 907.3,302.0 909.3,300.0 911.4,296.0 915.7,276.0 916.1,268.0 915.0,264.0 913.0,260.3 906.8,254.0 904.1,250.0 903.7,248.0 905.0,243.8 907.0,241.9 911.0,240.1 925.0,237.2 953.0,234.5 953.0,375.7 925.0,368.9 913.0,364.7 905.0,364.0 901.0,364.1 897.0,365.1 881.8,374.0 877.4,378.0 875.0,382.0 874.0,386.0 873.5,392.0 872.4,394.0 867.0,397.2 861.4,404.0 859.0,405.9 855.0,407.8 847.0,409.3 845.0,410.1 842.6,412.0 839.0,416.0 836.6,420.0 833.0,428.8 826.2,436.0 816.5,456.0 815.4,460.0 815.3,466.0 813.9,472.0 814.0,474.0 815.3,476.0 846.3,506.0 863.9,524.0 873.0,531.3 886.5,540.0 909.0,558.2 925.0,565.8 929.0,567.1 935.0,566.8 945.0,563.2 953.0,561.8 953.0,694.0 189.8,694.0 161.6,684.0 151.0,681.5 147.0,681.8 129.0,685.9 123.0,686.6 101.0,685.8 85.0,683.2 81.0,683.0 63.0,687.9 57.0,687.5 43.0,684.9 29.0,686.5 29.0,248.8 37.0,251.5 59.0,261.3 81.0,263.9 105.0,271.8 109.0,272.7 127.0,271.7 147.0,278.2 161.0,278.4 183.0,281.2 197.0,280.5 207.0,280.9 217.0,280.4 243.0,280.6 269.0,283.8 273.0,284.9 283.0,289.2 287.0,289.9 297.0,288.0 309.0,286.5 321.0,283.0 329.0,282.1 355.0,280.8 359.0,281.8 365.0,284.5 369.0,284.7 375.0,283.4 385.0,279.3 393.0,277.6 397.0,278.8 400.2,282.0 401.0,284.1 403.0,284.8 405.0,283.0 407.2,278.0 409.0,275.7 417.0,270.5 423.0,268.4 427.0,268.2 431.0,269.0 435.0,270.3 441.0,273.3 445.0,274.0 449.0,273.0 457.0,269.8 471.0,267.2 473.0,267.4 477.0,269.0 483.0,273.6 487.0,275.2 491.0,274.2 501.0,267.6 507.0,265.7 511.0,265.3 519.0,265.7 523.0,267.3 526.2,270.0 531.1,276.0 533.4,278.0 537.0,280.0 551.0,284.2 557.0,284.6 561.0,283.6 565.0,281.6 569.8,278.0 573.5,274.0 575.7,270.0 577.9,258.0 580.7,250.0 583.0,247.3 589.0,243.8 595.0,241.8 599.0,242.0 602.4,244.0 609.0,251.0 611.0,252.4 615.0,253.6 623.0,252.5 628.1,250.0 629.4,248.0 629.6,244.0 629.0,241.2 627.0,237.0 623.2,234.0 615.0,231.3 613.0,228.4 612.4,224.0 612.8,218.0 614.4,214.0 616.7,212.0Z"/>
<path fill="#78eeaa" d="M679.3,242.0 687.0,242.1 691.0,243.3 703.0,250.9 716.0,256.0 720.2,260.0 725.0,269.1 727.6,272.0 731.0,274.0 741.0,276.1 743.0,277.3 747.0,283.6 749.0,285.7 755.0,288.9 761.0,290.4 765.0,290.2 769.0,288.8 775.0,284.9 779.0,282.9 783.0,282.5 787.0,284.2 791.0,288.6 799.2,300.0 801.3,304.0 804.5,314.0 807.0,317.5 811.4,322.0 812.4,324.0 812.2,332.0 813.1,334.0 820.1,342.0 823.0,344.0 825.0,344.0 827.0,342.9 833.0,335.4 842.3,328.0 843.5,326.0 845.5,318.0 847.0,316.5 848.6,316.0 853.0,316.5 863.0,321.6 871.0,324.4 875.0,325.2 883.0,324.9 895.0,322.7 899.0,321.0 907.0,313.0 913.4,308.0 916.6,304.0 918.9,298.0 921.0,287.1 923.0,282.8 928.5,274.0 930.1,264.0 932.4,260.0 939.0,252.0 943.0,248.3 947.0,246.7 953.0,245.8 953.0,368.0 943.9,366.0 927.0,360.6 913.0,355.2 907.0,354.6 899.0,354.8 895.0,356.0 893.0,357.2 886.8,364.0 876.2,372.0 872.6,376.0 870.2,382.0 871.1,392.0 869.3,394.0 864.4,396.0 859.5,402.0 857.0,404.1 853.0,406.0 847.0,407.2 843.0,409.1 839.7,412.0 836.3,416.0 834.4,420.0 832.7,428.0 831.0,430.0 827.0,432.6 825.0,434.9 814.7,456.0 813.4,460.0 812.5,466.0 810.5,472.0 810.4,474.0 811.2,476.0 812.9,478.0 820.2,484.0 828.3,492.0 857.0,523.5 871.0,535.7 881.0,542.9 887.0,548.0 896.6,558.0 903.0,566.2 907.0,569.6 921.0,576.4 927.0,577.8 941.0,575.8 953.0,571.8 953.0,694.0 208.6,694.0 197.0,691.5 185.0,687.9 171.0,684.4 157.0,680.1 151.0,678.9 147.0,679.2 129.0,682.8 123.0,683.4 101.0,681.8 81.0,678.9 77.0,679.4 67.0,683.3 63.0,684.2 59.0,684.0 43.0,681.4 29.0,683.2 29.0,275.5 35.0,275.4 53.0,272.6 61.0,272.4 81.0,275.2 105.0,280.2 125.0,280.2 145.0,286.9 151.0,288.1 165.0,288.8 185.0,288.8 195.0,289.9 207.0,288.9 221.0,289.6 245.0,289.1 259.0,291.7 271.0,291.9 283.0,296.8 289.0,297.6 299.0,295.5 309.0,294.2 325.0,287.2 337.0,284.5 353.0,282.7 357.0,283.3 365.0,286.8 369.0,287.1 373.0,286.6 377.0,285.5 385.0,280.7 391.0,278.7 395.0,279.0 396.8,280.0 398.6,282.0 400.8,286.0 403.0,286.8 405.3,286.0 406.8,284.0 408.9,278.0 410.9,276.0 417.0,272.2 423.0,270.0 427.0,269.9 431.0,270.9 435.0,272.4 441.0,276.0 443.0,276.5 447.0,275.9 457.0,271.6 471.0,268.9 475.0,269.9 477.0,271.1 483.0,276.5 485.0,277.6 489.0,278.2 491.0,277.4 499.6,270.0 505.0,268.0 511.0,267.0 517.0,267.4 521.0,268.7 524.6,272.0 529.0,278.1 531.2,280.0 535.0,282.0 553.0,286.9 557.0,287.2 561.0,286.6 567.0,284.0 572.6,280.0 576.7,276.0 580.2,270.0 583.0,259.7 585.0,256.7 587.0,255.2 589.0,254.6 593.0,255.2 605.0,261.1 609.0,262.4 613.0,262.9 631.0,263.0 635.0,261.2 637.8,258.0 640.0,254.0 642.9,246.0 645.0,243.6 649.0,242.4 659.0,242.8 679.3,242.0Z"/>
<path fill="#5ad67f" d="M670.8,256.0 675.0,256.6 683.0,259.0 693.0,258.4 697.0,259.6 701.0,263.5 705.0,272.9 709.0,277.5 719.0,283.1 727.0,290.2 739.5,296.0 743.0,297.1 751.0,298.3 773.0,299.6 779.0,300.9 781.4,302.0 783.5,304.0 792.9,320.0 794.6,324.0 796.5,332.0 803.0,343.8 805.0,346.0 811.0,349.8 819.0,356.0 823.0,358.1 827.0,358.2 829.0,357.3 839.0,348.4 849.0,341.5 857.0,339.0 863.0,336.5 867.0,335.8 879.0,336.5 885.4,338.0 887.4,340.0 887.4,342.0 885.7,348.0 883.1,356.0 881.1,360.0 879.0,362.5 870.4,370.0 867.2,374.0 865.3,378.0 864.6,382.0 864.8,384.0 868.7,390.0 869.0,392.0 863.0,393.2 861.0,394.2 856.0,400.0 853.5,402.0 843.0,406.4 839.0,409.3 834.3,414.0 831.5,418.0 831.2,420.0 832.2,426.0 831.6,428.0 829.0,429.6 825.0,430.8 824.2,432.0 811.9,458.0 807.7,470.0 807.2,474.0 808.8,478.0 817.0,484.5 822.8,490.0 853.0,525.6 880.7,552.0 883.9,556.0 887.0,564.0 889.0,567.4 896.9,574.0 903.0,580.2 907.0,582.4 919.0,586.7 931.0,589.0 937.0,589.4 953.0,587.5 953.0,694.0 223.4,694.0 217.0,690.7 207.0,687.4 195.0,685.5 185.0,683.2 171.0,681.6 151.0,676.6 123.0,680.2 101.0,677.9 89.0,676.0 81.0,675.5 75.0,676.3 63.0,680.3 59.0,680.4 43.0,678.8 35.0,680.1 29.0,680.3 29.0,287.4 37.0,287.1 47.0,288.0 51.0,287.3 59.0,284.4 73.0,283.2 85.0,286.2 131.0,290.8 135.0,291.8 147.0,296.4 159.0,299.3 165.0,299.1 173.0,296.3 179.0,295.4 185.0,295.9 193.0,298.7 197.0,299.2 209.0,297.0 219.0,297.5 241.0,296.5 245.0,297.1 257.0,300.7 271.0,301.6 275.0,302.8 281.0,305.6 287.0,306.3 299.0,305.1 309.0,302.9 315.0,300.2 333.0,289.2 337.0,287.7 349.0,285.3 355.0,285.0 365.0,289.0 373.0,288.9 377.1,288.0 387.0,281.2 391.0,279.7 393.0,279.5 395.0,280.0 397.0,281.6 399.2,286.0 401.0,287.9 403.0,288.5 405.0,288.2 407.9,286.0 411.1,278.0 417.3,274.0 422.4,272.0 425.0,271.6 427.9,272.0 433.2,274.0 435.9,276.0 439.0,279.3 441.0,279.9 447.0,278.4 455.5,274.0 469.0,270.5 471.0,270.4 475.5,272.0 483.0,279.5 489.0,281.6 491.0,281.5 493.0,280.5 498.1,274.0 501.0,271.5 509.0,269.2 513.0,269.2 517.3,270.0 520.8,272.0 524.7,280.0 529.0,283.3 535.0,285.4 545.0,287.1 553.0,289.8 559.0,290.1 567.0,287.8 576.0,282.0 582.5,276.0 587.0,268.0 589.0,265.6 591.0,264.7 595.0,265.0 605.0,269.8 609.0,270.9 621.0,270.8 625.0,271.3 631.0,273.0 635.0,273.2 637.0,272.5 641.0,269.6 649.0,260.8 651.0,259.3 655.0,258.2 661.0,257.8 670.8,256.0ZM509.0,283.7 508.3,286.0 509.0,286.7 511.0,286.5 511.4,286.0 511.1,284.0 509.0,283.7ZM952.9,258.0 953.0,360.3 943.0,356.3 931.0,352.8 925.7,350.0 917.9,344.0 914.0,340.0 910.3,334.0 909.6,330.0 911.4,324.0 921.0,308.8 927.8,292.0 929.2,290.0 936.1,284.0 939.4,280.0 942.8,274.0 944.3,268.0 946.2,264.0 949.0,260.9 952.9,258.0Z"/>
<path fill="#3cbe55" d="M468.8,272.0 471.6,272.0 475.0,273.6 479.8,280.0 482.6,282.0 489.0,284.6 497.7,286.0 499.0,286.7 507.0,294.5 511.0,296.1 513.0,296.2 517.0,294.8 523.0,291.0 529.0,289.6 543.0,290.6 555.0,293.7 563.0,293.0 573.0,289.4 591.0,278.3 595.0,276.5 599.0,277.1 619.0,285.5 625.0,286.7 631.0,287.0 635.0,286.4 639.0,284.7 647.0,277.9 651.0,275.6 653.0,275.2 657.0,275.6 665.0,279.9 667.0,280.3 671.0,279.3 677.0,275.9 681.0,275.2 683.0,275.4 685.0,276.1 687.0,277.8 692.1,286.0 701.6,296.0 703.0,300.0 703.9,308.0 705.0,310.3 708.4,314.0 715.7,320.0 719.0,322.0 723.0,322.2 725.0,321.4 733.0,315.9 741.0,312.1 747.0,308.1 751.0,307.0 755.0,306.9 767.0,308.0 771.0,309.7 775.0,312.5 781.0,318.1 784.8,324.0 787.3,332.0 792.2,342.0 793.5,354.0 795.0,357.5 797.0,359.5 799.0,360.5 806.2,362.0 809.0,363.3 816.4,370.0 819.1,374.0 819.9,382.0 820.7,384.0 829.0,392.4 831.0,393.3 833.0,392.9 833.9,392.0 834.3,390.0 833.8,388.0 831.0,384.0 830.5,382.0 831.3,380.0 833.3,378.0 839.8,374.0 845.0,371.8 851.0,370.6 853.0,371.5 853.6,374.0 853.1,380.0 846.7,398.0 844.9,400.0 841.9,402.0 825.0,412.1 819.0,417.2 816.8,420.0 816.0,422.0 816.0,424.0 819.0,430.0 819.7,434.0 814.2,448.0 805.2,466.0 803.3,472.0 803.1,476.0 803.8,478.0 805.5,480.0 815.0,486.1 821.0,492.0 832.9,508.0 841.5,518.0 849.0,528.0 871.4,554.0 873.8,558.0 877.2,568.0 879.5,572.0 883.0,575.4 892.0,582.0 901.0,592.3 904.2,594.0 913.0,596.8 919.0,600.1 923.0,601.6 927.0,601.8 941.0,600.5 953.0,601.0 953.0,694.0 873.5,694.0 869.0,691.4 865.0,690.0 861.0,690.7 855.2,694.0 247.0,694.0 241.0,692.0 231.0,689.6 219.0,683.1 209.0,680.7 187.0,678.3 171.0,678.8 151.0,674.5 129.0,676.6 121.0,676.8 91.0,672.5 81.0,672.2 75.0,672.8 61.0,676.6 47.0,676.5 35.0,677.7 29.0,677.5 29.0,299.1 41.0,301.1 55.0,300.4 61.0,299.4 71.0,295.4 73.0,295.6 81.0,299.3 85.0,300.2 89.0,300.1 101.0,298.6 105.0,299.3 111.0,301.5 115.0,302.1 123.0,302.4 133.0,301.7 137.0,302.4 149.0,306.4 163.0,308.4 167.0,308.0 177.0,304.3 181.0,304.3 193.0,306.6 197.0,306.8 209.0,304.9 231.0,303.7 239.0,305.1 249.0,308.2 265.0,310.0 279.0,314.1 309.0,314.6 317.0,312.6 321.0,310.7 323.0,308.9 330.6,298.0 334.4,294.0 339.0,291.2 347.0,288.6 353.0,287.6 355.0,287.8 361.0,290.2 365.0,291.2 375.0,290.6 379.0,289.3 387.9,282.0 393.0,280.5 396.0,282.0 399.0,287.9 401.0,289.6 405.0,290.0 409.0,287.9 410.4,286.0 412.6,280.0 414.6,278.0 419.0,275.5 423.0,274.2 427.0,274.4 430.5,276.0 432.6,278.0 436.0,284.0 437.0,284.7 439.0,284.9 445.0,282.4 456.2,276.0 468.8,272.0ZM950.9,284.0 953.0,282.2 953.0,351.3 939.9,348.0 935.3,346.0 932.4,344.0 928.6,340.0 924.0,334.0 922.3,330.0 921.8,326.0 922.5,320.0 924.5,314.0 927.0,307.9 931.0,300.5 935.0,296.2 945.0,291.1 950.9,284.0ZM863.4,354.0 867.0,353.3 868.8,354.0 869.7,356.0 869.3,358.0 865.0,363.1 861.0,365.3 859.0,365.6 857.1,364.0 857.3,360.0 860.2,356.0 863.4,354.0Z"/>
<path fill="#1ea633" d="M466.9,274.0 471.0,273.4 473.0,274.2 474.8,276.0 477.0,280.9 479.0,283.0 493.4,290.0 498.8,294.0 507.0,301.8 511.0,304.2 515.0,305.2 519.0,305.0 523.0,303.8 527.0,302.2 534.0,298.0 537.0,297.0 543.0,296.8 555.0,298.1 561.0,297.7 573.0,294.9 587.0,289.4 591.0,288.7 595.0,289.2 599.1,292.0 603.9,298.0 611.7,310.0 614.2,320.0 617.0,322.0 621.0,321.8 625.2,320.0 628.7,316.0 635.0,305.6 641.0,301.1 647.0,294.6 649.0,293.1 651.0,292.7 653.0,293.6 656.9,298.0 659.0,299.3 663.0,300.2 671.0,300.3 681.0,305.9 687.0,308.0 689.0,309.2 697.0,317.6 710.3,328.0 715.0,330.8 718.8,332.0 725.0,332.1 732.1,330.0 739.0,326.5 749.0,319.1 753.0,317.3 757.0,317.2 763.0,318.2 768.0,320.0 773.0,323.2 775.0,325.4 776.3,328.0 778.9,338.0 779.4,342.0 778.3,348.0 778.2,352.0 780.9,362.0 783.0,365.0 789.0,368.8 791.0,370.9 793.2,376.0 793.8,382.0 795.0,385.3 802.6,390.0 805.0,394.0 805.5,396.0 805.0,398.3 803.2,400.0 797.0,403.5 794.8,406.0 793.3,410.0 791.9,418.0 792.1,420.0 794.7,424.0 800.2,430.0 805.0,433.4 811.0,435.5 812.3,438.0 811.9,442.0 810.1,448.0 807.0,454.0 802.7,460.0 799.5,466.0 797.0,468.2 795.0,468.8 791.0,468.7 789.0,469.4 787.3,472.0 787.5,474.0 789.0,476.2 797.3,482.0 809.0,486.0 813.0,488.1 818.8,494.0 827.9,508.0 836.3,518.0 851.9,540.0 858.6,552.0 864.1,560.0 868.5,574.0 871.0,579.7 873.0,582.3 879.0,587.8 881.3,594.0 884.0,598.0 895.0,606.2 899.0,607.5 907.0,607.5 910.3,608.0 921.0,613.6 925.0,614.8 929.0,614.9 939.0,613.8 953.0,614.5 953.0,694.0 891.1,694.0 883.0,686.9 871.0,680.6 867.0,679.7 859.0,682.3 836.9,694.0 264.8,694.0 260.6,688.0 257.0,679.8 255.0,677.7 253.0,677.1 251.0,677.5 243.0,681.6 237.0,682.1 233.0,681.2 223.0,675.3 203.0,672.7 189.0,672.9 177.0,675.4 171.0,676.0 167.0,675.7 151.0,672.2 137.0,673.0 121.0,673.0 101.0,670.4 91.0,668.4 87.0,668.2 77.0,668.9 63.0,672.4 39.0,675.3 29.0,674.5 29.0,311.7 37.0,311.7 47.0,309.9 51.0,309.7 63.0,312.9 73.0,311.3 83.0,315.4 87.0,315.9 99.0,312.8 107.0,313.5 117.0,312.1 135.0,312.6 149.0,315.8 165.0,317.1 183.0,313.6 199.0,313.7 209.0,312.0 217.0,312.0 227.0,311.0 235.0,312.3 253.0,317.8 265.0,318.7 283.0,322.5 297.0,323.3 307.0,325.2 311.0,325.3 325.0,322.2 329.0,320.0 334.8,304.0 337.0,299.6 341.0,295.4 348.3,292.0 351.0,291.4 355.0,291.4 365.0,293.7 377.0,292.4 381.0,290.6 389.0,282.9 391.0,281.8 393.0,281.5 395.0,282.4 397.5,288.0 399.0,290.2 401.0,291.5 405.0,291.8 409.0,290.6 412.4,288.0 415.4,282.0 417.1,280.0 421.0,278.0 423.0,277.7 425.0,277.9 427.0,278.9 433.3,286.0 437.0,287.6 441.0,287.5 447.0,284.7 457.8,278.0 466.9,274.0ZM941.2,304.0 953.0,302.8 953.0,340.5 947.0,339.8 943.0,337.6 940.2,334.0 935.7,324.0 933.0,319.5 932.5,314.0 933.9,310.0 937.0,306.2 941.2,304.0Z"/>
<path fill="#008c14" d="M466.6,276.0 469.0,275.0 471.0,275.2 472.3,276.0 473.4,278.0 473.6,280.0 472.6,284.0 473.5,286.0 475.0,286.6 481.0,286.9 483.9,288.0 486.8,290.0 495.7,298.0 501.9,306.0 507.4,312.0 511.0,317.7 513.0,319.1 517.0,319.4 523.0,317.6 531.0,313.0 537.0,307.6 541.0,305.6 563.0,303.2 585.0,299.8 589.0,300.7 591.0,302.0 596.6,308.0 599.1,312.0 600.6,316.0 602.1,326.0 605.0,330.1 609.0,332.1 621.0,330.3 629.0,331.2 633.0,331.0 643.0,326.7 653.0,323.6 657.0,324.6 663.0,328.7 667.0,330.5 683.0,333.2 697.0,336.8 707.0,340.6 711.0,341.2 725.0,340.5 735.0,340.9 739.0,340.4 743.0,339.1 753.0,333.5 755.0,333.0 757.0,333.4 757.7,334.0 758.2,336.0 756.7,342.0 757.5,346.0 767.6,360.0 769.2,364.0 769.0,368.6 766.4,376.0 766.2,378.0 767.1,382.0 770.1,388.0 770.6,390.0 769.8,392.0 763.0,398.3 761.0,399.3 751.0,401.6 746.6,404.0 741.1,408.0 739.0,410.7 737.5,414.0 736.4,420.0 736.8,424.0 738.0,428.0 742.0,436.0 745.9,446.0 748.1,448.0 759.6,454.0 761.6,456.0 762.6,458.0 763.8,464.0 766.7,474.0 766.6,476.0 765.0,480.0 763.0,482.5 757.8,486.0 756.8,488.0 760.9,498.0 762.6,500.0 765.0,501.3 769.0,501.9 771.0,501.3 773.0,499.9 774.3,498.0 777.0,492.0 779.0,490.5 781.0,489.9 785.0,490.0 793.0,491.7 805.0,489.5 809.0,489.9 811.0,490.7 814.6,494.0 823.0,508.7 832.3,520.0 837.9,530.0 844.0,538.0 846.4,542.0 850.3,554.0 857.0,566.8 859.0,572.0 860.5,586.0 864.4,600.0 866.4,604.0 869.4,608.0 871.8,610.0 875.0,611.6 895.0,619.4 897.0,621.5 901.0,627.5 903.0,629.2 905.0,630.0 907.0,630.1 915.0,628.7 923.0,629.3 927.0,629.0 941.0,625.4 953.0,623.9 953.0,694.0 918.8,694.0 913.0,689.1 907.1,680.0 905.0,679.1 903.0,679.6 899.0,682.7 895.0,683.1 877.0,674.9 869.0,673.9 863.0,674.0 857.0,674.9 845.0,679.9 833.3,682.0 831.0,684.2 827.3,690.0 825.4,692.0 821.4,694.0 807.0,693.6 800.2,692.0 791.0,688.5 787.0,687.7 775.0,690.0 765.0,689.1 755.0,693.0 748.8,694.0 277.8,694.0 275.0,688.8 267.0,679.2 259.0,664.6 257.0,662.4 255.0,661.7 253.0,662.4 241.0,670.2 237.0,671.6 235.0,671.7 225.0,669.2 213.0,668.8 205.0,666.5 199.0,665.9 191.0,666.5 175.3,672.0 169.0,673.0 149.0,669.3 139.0,669.9 103.0,666.4 93.0,662.8 87.0,661.9 81.0,663.0 65.0,667.8 53.0,669.8 41.0,673.0 37.0,673.1 29.0,671.0 29.0,328.3 39.0,328.6 53.0,327.1 65.0,329.2 75.0,326.7 89.0,327.3 107.0,326.1 117.0,323.1 121.0,322.6 135.0,322.4 149.0,324.3 161.0,324.4 167.0,323.9 177.0,321.8 185.0,321.1 199.0,321.4 211.0,319.5 219.0,320.1 231.0,319.7 239.0,320.6 242.5,322.0 253.0,327.8 265.0,331.1 275.0,330.8 287.0,332.6 297.0,331.6 307.0,333.4 313.0,333.2 317.0,332.4 321.0,330.8 331.7,324.0 334.5,320.0 343.2,302.0 347.0,298.4 351.0,296.6 355.0,295.9 367.0,296.7 379.0,294.8 383.0,292.4 389.8,284.0 393.0,282.8 394.8,284.0 397.0,291.1 399.0,293.0 401.0,293.7 405.0,293.8 411.0,292.7 416.9,290.0 421.0,286.9 423.0,286.5 431.0,289.1 441.0,290.9 445.0,289.5 451.0,286.3 466.6,276.0Z"/>
<path fill="#ffff00" d="M391.3,286.0 393.0,285.7 393.3,292.0 394.4,294.0 397.0,296.2 401.0,297.3 407.0,296.2 415.0,297.7 417.3,300.0 419.0,304.7 421.0,305.3 429.0,305.3 433.0,304.5 437.0,301.5 441.0,299.5 447.8,294.0 455.0,292.2 459.0,292.4 461.6,294.0 462.7,296.0 463.0,298.0 461.4,308.0 461.9,312.0 463.0,314.3 465.0,315.7 467.0,316.0 469.0,315.1 471.4,312.0 472.2,308.0 471.7,302.0 473.0,300.0 477.0,296.9 478.5,292.0 481.0,290.8 483.0,292.1 487.2,298.0 489.0,302.0 489.0,304.0 488.1,306.0 483.0,312.0 482.7,314.0 483.4,316.0 485.0,317.8 489.0,319.9 499.0,320.8 500.6,322.0 502.5,326.0 505.0,334.0 507.0,337.8 509.0,340.3 511.0,340.5 521.0,331.7 525.0,330.7 529.9,332.0 532.1,334.0 535.7,340.0 543.0,346.5 547.0,351.7 551.8,360.0 553.2,368.0 555.0,370.8 557.0,371.6 561.0,371.5 565.0,370.6 567.8,368.0 569.3,362.0 569.9,354.0 571.0,347.1 573.0,343.0 575.0,343.6 579.0,346.1 583.0,346.7 593.0,342.2 597.0,342.0 599.4,344.0 603.0,352.2 605.0,354.2 607.0,355.1 609.0,355.3 611.0,354.6 613.0,352.0 615.5,346.0 617.6,344.0 621.0,343.0 623.0,343.1 631.0,345.7 643.0,351.4 645.0,351.5 653.0,349.4 657.0,349.6 659.0,350.6 665.0,355.5 667.0,356.3 671.0,356.3 677.0,354.3 681.0,353.6 695.0,356.0 699.0,357.4 701.6,360.0 705.3,368.0 711.0,375.8 713.0,377.5 720.5,382.0 722.1,384.0 723.0,388.2 726.5,396.0 727.4,400.0 727.3,406.0 725.9,416.0 725.9,426.0 724.3,430.0 721.0,432.8 711.0,437.6 701.0,440.0 697.0,441.5 691.1,446.0 689.6,448.0 689.3,450.0 690.2,452.0 692.2,454.0 697.0,457.3 701.0,458.9 711.0,460.6 715.0,461.8 721.0,466.1 728.3,470.0 730.2,472.0 731.0,474.0 730.9,476.0 729.7,478.0 727.0,479.7 719.0,482.9 717.0,485.4 716.7,490.0 718.6,494.0 721.0,496.3 723.0,497.1 725.0,497.3 733.0,496.1 737.0,496.8 747.0,503.2 754.9,510.0 759.0,512.7 775.0,517.5 777.0,517.4 779.8,516.0 785.6,508.0 789.0,505.4 793.0,504.2 803.0,503.5 805.8,502.0 807.0,499.6 809.0,498.9 813.0,504.2 817.5,512.0 825.0,520.1 827.2,524.0 829.9,532.0 838.2,542.0 840.2,546.0 842.0,554.0 845.7,564.0 848.4,574.0 848.5,576.0 847.4,580.0 843.8,586.0 842.3,590.0 842.1,602.0 843.0,605.5 844.7,608.0 849.0,611.0 855.0,611.8 859.0,613.7 871.0,624.0 872.9,626.0 873.8,628.0 874.8,634.0 877.3,640.0 881.0,644.6 885.0,647.1 887.0,647.2 889.0,646.7 895.0,643.3 897.0,642.9 907.0,644.3 921.0,642.8 929.0,642.9 939.0,638.1 953.0,634.9 953.0,688.6 939.0,688.6 935.0,688.1 931.0,686.1 926.0,682.0 921.7,676.0 919.0,674.0 907.0,671.3 897.0,671.2 895.0,670.8 883.0,664.3 879.0,663.1 877.0,663.2 871.0,666.7 867.0,667.7 853.0,664.5 849.0,664.8 846.2,666.0 840.4,670.0 825.0,674.8 822.1,676.0 819.0,678.6 817.4,674.0 816.1,672.0 813.5,670.0 799.0,664.4 797.0,664.0 793.0,664.7 785.0,668.5 775.0,672.2 771.0,672.8 767.0,670.7 761.0,665.1 757.0,664.5 753.0,665.8 750.0,668.0 748.3,670.0 745.3,678.0 743.0,680.1 733.0,683.6 729.0,683.3 723.0,681.7 719.0,681.4 705.0,683.7 703.0,685.2 699.4,692.0 697.7,694.0 597.9,694.0 595.1,690.0 593.0,688.4 591.0,687.5 587.0,686.9 583.6,688.0 581.1,690.0 579.1,694.0 285.7,694.0 283.9,688.0 283.0,679.2 281.0,677.0 276.2,674.0 274.6,672.0 273.9,670.0 272.2,660.0 272.3,654.0 270.6,652.0 267.0,649.2 251.0,643.4 249.0,643.3 247.1,644.0 245.2,646.0 244.4,648.0 244.1,654.0 243.5,656.0 241.0,657.3 238.2,656.0 234.6,652.0 233.0,651.0 231.0,651.0 229.0,651.9 227.0,654.0 224.9,658.0 223.2,660.0 221.0,661.1 217.0,661.9 213.0,660.7 207.0,656.6 203.0,654.8 191.0,653.4 189.0,653.9 187.0,655.5 183.3,660.0 178.0,664.0 171.0,668.1 167.0,668.7 155.0,666.9 147.0,664.0 141.0,664.7 136.7,664.0 131.2,662.0 129.2,660.0 127.2,656.0 125.0,654.7 121.0,654.5 115.0,656.4 113.0,656.3 111.0,654.9 108.6,652.0 105.0,649.5 93.0,647.2 89.0,645.4 87.0,643.8 82.9,638.0 80.0,636.0 77.0,635.4 73.0,636.7 70.4,640.0 68.7,648.0 69.2,656.0 68.7,658.0 67.0,660.3 63.8,662.0 47.0,666.5 41.0,670.2 37.5,670.0 30.5,666.0 29.0,664.5 29.0,343.9 37.0,342.1 49.0,341.9 53.0,342.5 61.0,345.4 65.0,345.7 69.0,344.4 77.0,339.8 87.0,337.1 103.0,337.3 119.0,335.0 135.0,335.0 181.0,329.7 185.0,329.8 195.0,331.5 199.0,331.5 209.0,329.3 213.0,329.0 221.0,329.6 231.0,329.5 235.0,330.2 245.0,335.8 253.0,338.6 261.0,342.6 267.0,344.0 283.0,344.6 297.0,340.0 309.0,341.9 319.0,341.5 323.0,339.9 327.5,334.0 335.1,328.0 341.0,318.9 348.4,314.0 351.5,306.0 355.0,302.9 359.0,301.8 365.0,302.3 368.2,304.0 371.8,310.0 374.0,312.0 377.0,312.8 381.0,311.7 382.8,310.0 383.8,308.0 383.1,300.0 387.5,294.0 391.3,286.0ZM619.0,355.8 613.5,360.0 612.8,362.0 613.3,368.0 615.0,371.5 617.0,373.5 621.0,375.1 635.0,377.0 640.8,376.0 643.1,374.0 644.1,372.0 644.9,368.0 644.4,364.0 643.0,361.4 641.0,360.0 639.0,359.7 633.0,361.2 631.0,361.0 629.0,360.1 623.0,355.4 621.0,355.2 619.0,355.8ZM821.0,619.6 817.0,621.7 815.0,623.7 813.6,626.0 813.0,628.0 813.1,630.0 815.0,631.7 817.0,632.1 821.0,631.6 829.0,628.5 831.3,626.0 831.5,622.0 830.1,620.0 827.0,618.8 821.0,619.6ZM187.0,640.5 185.3,642.0 185.6,644.0 187.0,645.2 188.4,644.0 188.8,642.0 187.0,640.5ZM281.0,647.1 276.9,650.0 274.2,654.0 276.2,658.0 278.9,660.0 281.0,660.4 285.0,659.2 291.0,656.5 293.2,654.0 293.3,652.0 292.3,650.0 289.0,647.4 285.0,646.4 281.0,647.1ZM299.0,411.4 297.0,412.4 296.5,414.0 296.9,416.0 298.0,418.0 301.0,421.1 303.0,422.3 305.0,422.7 307.2,420.0 307.8,416.0 307.1,414.0 305.0,411.9 303.0,411.2 299.0,411.4ZM353.0,317.4 352.6,318.0 353.0,318.4 353.0,317.4ZM568.5,316.0 571.0,315.3 574.3,316.0 577.8,318.0 577.8,320.0 574.3,324.0 571.0,329.2 569.0,331.0 567.0,329.8 566.0,328.0 565.3,324.0 566.7,318.0 568.5,316.0ZM728.0,354.0 731.0,353.5 733.9,354.0 735.8,356.0 735.8,358.0 733.8,360.0 731.0,360.1 728.0,358.0 726.6,356.0 728.0,354.0Z"/>
<path fill="#f5d10a" d="M445.0,304.0 449.0,302.4 451.0,302.5 452.7,304.0 455.1,314.0 456.7,318.0 462.3,326.0 465.0,328.2 467.0,328.8 471.0,328.6 477.0,325.1 479.0,324.2 481.0,324.2 490.6,328.0 492.9,330.0 494.0,332.0 495.1,336.0 493.6,346.0 494.2,350.0 496.9,354.0 499.0,355.3 509.0,359.6 513.0,360.6 515.0,360.1 517.0,358.4 521.0,350.2 523.0,348.0 527.0,348.5 533.8,352.0 539.0,356.4 545.0,359.9 546.5,362.0 547.2,364.0 547.5,372.0 548.3,376.0 549.6,378.0 553.0,380.2 557.0,380.5 571.0,378.5 575.1,376.0 581.0,368.7 585.0,367.7 591.0,369.0 601.0,372.8 603.0,374.6 608.3,382.0 611.1,384.0 617.0,386.5 621.0,387.1 629.0,385.2 639.0,385.9 647.4,384.0 652.0,382.0 653.9,380.0 654.9,378.0 657.6,370.0 659.0,367.6 661.0,366.2 669.0,364.9 677.0,362.0 681.0,361.4 687.0,363.1 692.9,366.0 695.0,367.6 699.0,372.8 701.4,378.0 701.2,382.0 699.2,386.0 699.0,388.0 700.3,390.0 703.0,390.9 709.0,390.8 713.0,392.8 720.3,400.0 721.7,404.0 721.4,408.0 719.5,412.0 717.0,414.4 710.4,416.0 708.0,418.0 707.7,420.0 708.8,428.0 708.0,430.0 707.0,431.0 704.6,432.0 697.0,431.7 693.0,432.4 683.0,438.6 679.0,439.8 673.0,440.4 671.0,441.4 669.5,444.0 669.6,446.0 672.6,452.0 681.8,460.0 687.0,467.2 688.4,468.0 691.0,468.2 699.0,467.2 702.1,468.0 704.9,470.0 706.3,474.0 706.0,482.0 706.6,486.0 711.7,496.0 717.0,504.3 719.0,506.0 721.0,506.6 723.0,506.4 729.0,504.7 733.0,504.7 735.0,506.2 737.6,512.0 739.0,513.6 747.0,515.1 751.0,516.5 755.0,518.9 761.0,523.5 765.0,525.0 777.0,524.7 781.0,523.5 785.9,520.0 791.0,514.8 793.0,514.0 795.0,514.4 796.8,516.0 798.7,522.0 801.0,524.0 803.0,523.9 805.0,522.5 809.0,517.8 813.0,518.4 817.0,520.4 821.0,523.9 826.0,534.0 833.9,544.0 836.0,548.0 838.3,558.0 842.0,568.0 842.7,572.0 842.3,576.0 841.0,578.7 835.0,585.1 833.4,588.0 833.2,596.0 831.6,600.0 829.0,602.4 815.0,612.0 811.0,615.9 808.3,620.0 803.5,630.0 802.2,634.0 802.7,644.0 801.9,650.0 800.9,652.0 798.3,654.0 787.0,659.9 781.0,661.9 777.0,662.2 773.0,661.7 765.0,657.8 759.0,656.9 755.0,657.2 745.0,659.4 733.0,660.1 723.0,663.1 713.0,664.7 707.0,668.1 702.5,674.0 699.0,677.6 694.0,686.0 691.0,689.6 687.0,692.4 683.3,694.0 656.4,694.0 655.4,690.0 660.9,678.0 661.4,672.0 659.8,668.0 657.0,664.0 653.0,659.7 651.0,658.9 647.0,659.5 641.0,662.2 637.4,666.0 635.6,670.0 635.7,674.0 639.0,681.9 645.0,686.0 645.9,688.0 645.5,692.0 644.5,694.0 638.4,694.0 637.0,687.8 635.8,686.0 633.0,685.2 629.0,685.1 625.0,686.0 617.0,690.2 613.0,690.6 609.0,689.8 605.0,687.7 599.0,682.2 597.0,681.1 585.0,677.0 583.5,676.0 582.1,674.0 579.0,667.6 575.0,664.8 571.0,663.8 569.0,665.1 568.6,666.0 568.6,670.0 569.8,678.0 566.5,694.0 445.3,694.0 443.0,691.8 441.0,692.2 440.3,694.0 415.9,694.0 415.0,690.0 413.0,685.7 411.0,683.9 407.0,683.1 403.0,684.9 401.0,687.3 399.0,694.0 290.1,694.0 288.5,690.0 287.8,686.0 291.2,676.0 290.6,674.0 285.9,666.0 285.9,664.0 286.8,662.0 289.0,660.0 293.2,658.0 295.6,656.0 296.6,654.0 296.7,652.0 295.0,648.0 291.0,644.4 285.0,641.0 279.0,639.4 275.0,639.5 269.0,641.1 263.0,641.3 259.0,640.4 253.0,637.5 247.0,636.9 239.0,639.3 231.0,640.4 219.0,648.2 217.0,648.8 213.0,648.8 199.0,645.4 197.7,644.0 197.5,636.0 197.0,633.9 195.0,631.1 193.0,630.2 191.0,630.3 185.0,632.9 181.0,636.3 179.7,640.0 180.2,650.0 179.0,653.0 177.0,655.6 173.0,658.5 167.0,660.9 162.1,664.0 159.0,664.6 154.9,664.0 152.7,662.0 149.0,656.1 147.0,654.0 142.2,650.0 139.0,648.3 129.0,646.0 123.0,643.2 121.0,642.9 113.0,643.4 97.0,638.7 93.0,636.4 87.0,631.0 83.0,629.5 77.0,628.8 73.0,629.3 69.0,631.0 65.4,634.0 62.0,638.0 59.9,642.0 59.3,646.0 59.7,652.0 58.8,656.0 57.0,658.8 53.0,660.9 49.0,661.1 47.0,660.1 45.8,658.0 45.9,654.0 48.4,648.0 48.7,646.0 48.2,644.0 45.0,640.3 41.0,637.6 37.0,636.5 33.0,637.6 29.0,640.5 29.0,351.8 39.0,350.2 47.0,351.0 57.0,351.1 67.0,352.7 69.5,352.0 77.0,347.7 93.0,343.9 99.0,343.6 107.0,344.0 117.0,341.3 121.0,340.8 135.0,340.9 147.0,337.9 163.0,335.3 175.0,336.0 183.0,334.8 197.0,335.9 211.0,334.1 231.0,336.0 240.5,340.0 251.0,343.0 261.0,348.7 275.0,351.4 279.0,351.7 283.0,350.9 297.0,345.8 301.0,345.6 309.0,346.4 317.0,346.4 321.0,346.0 325.0,344.4 327.9,342.0 332.5,336.0 343.0,327.4 349.0,327.6 353.0,325.7 355.0,323.9 357.6,320.0 359.0,310.0 361.0,308.1 363.0,308.1 365.0,308.8 375.0,315.5 379.0,316.7 383.0,316.9 386.7,316.0 391.0,313.4 397.0,311.0 403.0,309.8 417.0,313.6 431.0,313.2 435.0,311.6 445.0,304.0ZM737.0,592.0 735.0,594.0 735.0,596.9 736.3,600.0 738.3,602.0 741.0,602.9 744.3,602.0 745.8,600.0 745.9,598.0 745.0,595.8 743.0,593.7 741.0,592.5 739.0,591.9 737.0,592.0ZM295.0,409.4 293.4,412.0 293.5,414.0 294.3,416.0 297.1,420.0 303.0,426.1 305.0,427.3 307.0,427.5 310.7,426.0 312.0,424.0 311.9,416.0 310.3,412.0 309.0,410.6 307.0,409.3 303.0,408.5 295.0,409.4ZM409.0,619.4 407.0,620.2 404.8,622.0 404.0,624.0 403.5,630.0 402.5,632.0 396.9,636.0 395.9,638.0 396.3,642.0 398.9,646.0 405.0,652.2 407.0,653.0 414.4,654.0 417.0,655.7 421.2,662.0 427.9,668.0 428.9,670.0 429.3,672.0 428.8,678.0 429.7,682.0 431.0,684.0 433.0,685.5 437.0,686.9 438.7,686.0 438.9,684.0 435.6,674.0 435.4,672.0 437.0,669.0 441.0,667.2 443.0,665.7 444.2,662.0 444.7,658.0 443.9,638.0 446.6,630.0 447.0,628.0 446.5,626.0 445.0,624.7 443.0,624.1 439.0,624.5 435.5,626.0 429.0,631.4 427.0,632.0 425.0,631.7 423.0,630.3 419.0,623.6 417.0,621.3 413.0,619.3 409.0,619.4ZM630.0,352.0 632.2,352.0 633.7,354.0 633.0,354.9 631.0,355.0 629.7,354.0 630.0,352.0ZM652.8,358.0 653.0,357.5 655.0,357.7 655.0,359.7 652.8,358.0ZM822.7,638.0 827.0,636.6 831.0,636.1 835.0,636.1 839.0,636.8 841.0,638.3 845.0,642.6 847.0,643.7 857.0,644.2 862.4,646.0 863.8,648.0 863.3,652.0 861.0,654.4 859.0,654.3 855.0,652.8 851.0,652.7 849.0,653.8 840.0,662.0 831.3,668.0 825.0,670.0 821.0,669.3 810.1,662.0 806.8,658.0 806.0,656.0 805.9,654.0 807.5,652.0 813.0,649.7 815.0,648.3 817.4,642.0 819.3,640.0 822.7,638.0ZM898.8,650.0 901.3,650.0 909.0,652.1 919.0,652.0 921.0,653.3 922.1,656.0 920.8,662.0 919.0,664.3 915.0,665.6 903.0,665.3 898.1,664.0 892.8,660.0 891.7,658.0 891.7,656.0 894.7,652.0 898.8,650.0ZM945.9,670.0 953.0,669.0 953.0,682.2 946.4,680.0 944.0,678.0 942.7,676.0 942.3,674.0 942.9,672.0 945.9,670.0Z"/>
<path fill="#efa90a" d="M362.8,314.0 365.0,313.3 367.0,313.6 377.0,319.3 383.0,321.4 387.0,321.1 395.0,318.1 401.0,317.1 411.0,319.3 431.0,321.6 433.0,321.0 437.3,318.0 441.0,316.2 443.0,316.7 443.4,318.0 442.9,324.0 443.2,326.0 444.6,328.0 449.0,330.9 455.0,336.1 459.0,337.5 471.0,339.7 473.0,339.6 479.0,337.6 481.0,337.7 483.0,339.4 484.8,344.0 485.6,352.0 487.2,356.0 493.0,361.8 502.0,366.0 503.3,368.0 501.9,374.0 502.2,376.0 503.3,378.0 507.0,380.4 509.0,380.5 511.0,379.6 512.5,378.0 515.1,372.0 517.2,370.0 525.0,366.0 529.0,365.7 535.4,368.0 538.1,370.0 539.2,372.0 540.4,378.0 542.5,382.0 547.0,386.0 553.0,388.7 559.0,389.4 571.0,386.1 581.0,384.2 583.0,384.4 585.0,386.2 587.9,392.0 591.0,394.1 593.0,394.3 603.0,391.6 609.0,391.7 615.0,393.7 635.0,402.2 637.0,401.4 640.6,396.0 645.2,392.0 655.5,388.0 659.0,386.0 667.0,377.4 669.0,376.5 673.0,376.6 675.0,378.0 676.0,380.0 677.7,386.0 676.5,400.0 673.6,408.0 674.1,412.0 677.0,417.5 679.0,419.5 681.0,420.6 683.0,421.0 684.6,420.0 687.0,419.6 689.2,420.0 685.0,422.0 681.0,422.7 669.0,427.3 658.9,428.0 656.9,430.0 656.1,438.0 655.0,441.2 650.2,450.0 645.1,456.0 644.7,458.0 647.0,460.0 657.0,458.7 659.0,459.5 660.2,462.0 660.2,466.0 658.9,476.0 661.0,486.0 662.3,502.0 663.5,510.0 663.2,516.0 664.2,518.0 666.0,520.0 669.0,522.1 671.0,522.6 674.0,522.0 677.0,520.1 678.4,518.0 679.9,512.0 681.0,510.1 683.0,509.4 685.0,509.6 697.0,514.7 711.0,527.1 715.3,532.0 718.5,534.0 721.0,534.4 727.0,533.3 741.0,525.2 747.0,523.6 751.0,524.8 753.0,526.3 759.0,532.8 763.0,534.9 767.0,534.8 787.0,528.8 789.0,528.9 799.0,532.4 803.0,532.4 811.0,530.6 815.0,530.5 819.0,532.8 823.0,536.9 826.9,542.0 830.5,548.0 832.0,552.0 833.3,562.0 836.2,570.0 835.9,574.0 834.3,576.0 829.0,578.8 827.0,580.8 823.7,592.0 821.0,596.0 819.0,597.8 815.0,600.1 807.0,602.5 793.5,614.0 792.2,618.0 793.3,624.0 793.1,626.0 788.5,636.0 786.6,644.0 785.6,646.0 783.0,648.8 781.0,650.1 777.0,650.7 757.0,648.9 743.0,650.6 733.0,648.8 729.0,649.4 721.0,654.1 711.0,657.8 705.0,661.8 701.4,666.0 693.5,680.0 691.0,683.4 687.0,686.5 681.0,688.1 668.9,688.0 668.4,684.0 669.0,672.0 666.5,662.0 667.1,656.0 666.7,652.0 664.8,648.0 661.2,644.0 657.0,640.3 653.0,638.6 645.0,640.9 633.0,640.7 629.8,642.0 629.0,644.0 629.6,646.0 631.9,650.0 633.1,654.0 631.9,658.0 629.0,661.6 625.0,665.2 615.0,672.4 611.0,674.3 609.0,673.8 601.0,668.8 593.0,666.8 587.0,661.6 583.0,659.3 565.0,653.7 561.0,653.4 559.5,654.0 558.3,656.0 558.0,658.0 557.3,668.0 558.4,674.0 560.6,680.0 561.1,684.0 558.8,694.0 479.6,694.0 476.0,690.0 476.3,688.0 481.2,684.0 482.9,682.0 483.0,680.0 480.6,674.0 480.9,670.0 482.9,666.0 487.8,660.0 488.5,658.0 488.2,656.0 485.5,654.0 483.0,653.7 475.0,655.9 473.0,655.2 471.0,653.0 470.1,650.0 470.7,648.0 473.2,644.0 474.5,640.0 474.1,636.0 473.0,634.6 465.0,630.3 462.1,628.0 455.0,616.2 451.0,612.1 449.0,611.5 443.0,612.8 441.0,612.7 439.0,611.7 431.1,604.0 427.0,602.1 424.8,602.0 419.0,604.2 415.0,605.0 411.0,604.0 403.0,599.8 399.0,599.9 393.0,602.0 391.0,602.2 385.0,600.3 383.0,601.3 381.0,603.4 377.9,608.0 377.0,611.1 377.3,614.0 381.9,622.0 382.1,624.0 380.6,628.0 373.6,636.0 372.4,638.0 371.8,640.0 371.7,644.0 373.0,649.0 375.0,652.3 376.7,654.0 381.0,656.7 391.0,659.1 393.0,660.6 394.9,664.0 395.8,668.0 395.4,672.0 393.9,676.0 389.7,682.0 389.2,684.0 390.7,692.0 390.5,694.0 365.7,694.0 363.0,689.2 361.0,687.8 357.0,686.6 353.0,686.7 347.0,688.0 343.2,690.0 338.9,694.0 310.7,694.0 307.0,692.2 299.0,689.7 297.5,688.0 297.6,686.0 301.4,680.0 302.2,676.0 301.8,674.0 300.6,672.0 299.0,670.7 293.0,667.5 291.4,666.0 290.4,664.0 291.4,662.0 297.2,660.0 300.2,658.0 301.1,656.0 301.1,652.0 299.0,646.6 294.6,642.0 291.9,638.0 288.1,628.0 287.0,626.2 285.0,624.9 281.0,625.4 275.0,627.3 265.0,631.4 261.0,632.1 239.0,629.8 231.0,626.9 229.0,626.4 227.0,626.7 225.0,628.4 221.9,634.0 220.0,636.0 217.0,637.3 215.0,637.1 213.0,636.4 211.0,634.7 206.6,628.0 198.0,620.0 195.0,618.2 191.0,618.0 188.3,620.0 184.5,626.0 177.0,632.0 175.7,634.0 174.9,638.0 175.0,646.2 174.7,648.0 173.0,651.1 169.0,654.1 161.0,657.4 159.0,657.5 157.0,656.3 153.0,647.9 151.8,646.0 149.5,644.0 135.0,638.3 128.9,634.0 125.0,632.1 115.0,631.5 107.0,627.6 99.0,627.0 89.0,623.4 79.0,622.5 75.0,622.9 69.0,624.9 57.0,633.0 53.0,634.2 51.0,633.8 49.0,632.6 43.0,626.1 41.0,624.8 37.0,623.5 29.0,623.3 29.0,367.8 31.6,366.0 35.0,362.1 47.3,358.0 53.0,357.0 57.0,357.1 69.0,360.3 73.0,360.3 79.0,359.2 85.0,360.3 87.0,360.0 90.0,358.0 95.0,352.0 97.0,351.1 99.0,350.7 107.0,350.9 119.0,347.0 133.0,347.2 147.0,342.5 157.0,339.9 163.0,339.0 175.0,341.3 185.0,339.6 201.0,339.8 211.0,338.8 225.0,340.2 229.0,341.0 237.0,344.1 245.4,346.0 249.0,347.4 252.7,350.0 259.0,356.1 263.0,358.3 267.0,358.4 279.0,357.1 299.0,351.6 305.0,350.9 321.0,350.6 327.0,349.3 333.0,347.1 335.0,345.8 341.7,338.0 349.0,334.2 353.0,330.9 357.0,325.5 361.0,316.2 362.8,314.0ZM733.0,581.3 728.9,584.0 727.0,587.3 726.5,590.0 727.0,594.1 730.4,602.0 734.3,606.0 739.0,607.9 743.0,607.9 747.0,606.3 749.7,604.0 751.7,600.0 751.8,596.0 750.5,592.0 747.0,587.1 743.0,583.7 737.0,580.9 733.0,581.3ZM303.0,405.9 295.0,406.7 292.5,408.0 291.2,410.0 290.8,412.0 291.1,414.0 293.2,418.0 303.0,429.2 305.0,430.6 309.0,431.9 315.0,432.5 319.0,432.6 321.0,431.9 323.0,430.2 329.9,422.0 330.2,420.0 327.7,418.0 319.0,413.9 311.0,407.1 307.0,405.9 303.0,405.9ZM688.9,400.0 691.0,398.2 693.0,398.4 695.5,400.0 697.2,402.0 697.6,404.0 696.5,406.0 693.0,408.8 691.0,408.7 689.0,406.0 688.4,402.0 688.9,400.0ZM698.2,500.0 701.0,499.7 703.0,500.7 705.3,504.0 705.0,506.6 703.0,508.1 701.0,508.1 695.6,506.0 694.4,504.0 695.1,502.0 698.2,500.0Z"/>
<path fill="#e8850a" d="M362.6,318.0 365.0,316.2 367.0,316.2 370.8,318.0 381.0,325.4 385.0,326.4 395.0,326.2 401.9,330.0 405.0,331.1 411.0,331.5 417.0,329.8 421.0,330.2 433.2,338.0 435.1,340.0 439.0,348.5 441.0,350.3 443.0,351.1 447.0,351.0 453.0,347.7 455.0,347.3 458.5,348.0 459.8,350.0 459.6,352.0 457.5,358.0 457.4,364.0 459.0,367.1 463.0,372.0 464.9,380.0 467.0,382.6 469.0,383.8 473.0,384.7 489.0,384.9 493.0,385.5 499.0,388.2 501.4,390.0 505.0,393.9 507.0,395.1 509.0,395.4 513.0,393.9 518.5,388.0 521.0,386.9 525.0,386.8 531.0,388.7 535.0,391.2 537.4,394.0 539.3,398.0 543.0,408.6 545.0,410.1 555.0,411.4 560.6,414.0 564.0,418.0 567.0,424.8 569.0,426.9 571.0,426.9 579.0,422.4 591.0,419.5 593.9,418.0 599.0,414.2 601.0,413.4 603.0,413.7 605.0,414.8 613.0,422.3 615.0,423.1 621.3,424.0 624.8,426.0 631.7,438.0 633.3,442.0 633.5,446.0 631.1,454.0 630.1,460.0 630.4,466.0 632.0,468.0 639.1,470.0 642.8,472.0 644.8,474.0 647.0,478.8 647.9,486.0 649.5,492.0 649.0,496.1 645.7,500.0 643.4,506.0 635.4,514.0 634.2,516.0 634.0,518.0 635.4,520.0 639.0,522.3 657.0,531.0 664.1,536.0 669.0,538.1 671.0,538.0 673.0,537.0 677.0,533.1 679.0,532.0 681.0,531.7 689.0,533.0 697.0,532.2 702.9,534.0 705.0,536.0 705.9,538.0 705.9,540.0 705.0,542.0 699.0,548.1 698.4,550.0 698.8,552.0 701.0,553.6 705.0,553.6 708.7,552.0 715.0,547.8 717.0,547.4 717.7,548.0 716.9,552.0 711.0,564.0 709.6,570.0 710.0,572.0 711.5,574.0 717.0,579.1 718.9,582.0 720.0,586.0 720.6,592.0 721.9,596.0 727.1,606.0 729.0,608.7 731.0,610.5 737.0,612.9 741.0,613.8 743.0,613.7 747.0,611.8 752.6,608.0 755.0,605.3 756.7,602.0 758.6,594.0 758.4,590.0 757.5,588.0 745.3,576.0 741.0,570.0 738.3,564.0 738.0,556.0 737.2,554.0 734.0,550.0 732.1,546.0 732.0,542.0 733.1,540.0 735.3,538.0 739.0,536.2 743.0,535.4 747.0,535.5 749.0,536.3 755.0,541.1 761.0,542.5 765.0,542.0 775.0,538.7 785.0,537.3 789.0,537.4 797.0,539.1 811.0,537.7 815.0,537.9 817.0,538.6 819.2,540.0 822.4,544.0 825.8,552.0 826.4,556.0 825.6,560.0 824.6,562.0 819.6,568.0 818.5,570.0 817.5,574.0 816.6,584.0 815.0,586.3 813.0,586.8 805.0,587.2 802.6,588.0 799.7,590.0 798.3,592.0 796.3,598.0 793.8,602.0 779.0,615.5 773.0,618.5 771.0,620.0 766.8,630.0 763.0,634.5 759.0,636.3 751.0,637.7 744.2,640.0 733.0,640.7 725.0,642.4 721.0,644.1 715.6,648.0 703.0,655.4 698.3,660.0 695.4,664.0 690.7,678.0 689.0,680.3 685.0,681.9 683.0,681.7 679.7,680.0 678.2,678.0 677.0,674.0 677.0,670.0 677.9,666.0 683.4,658.0 683.9,656.0 683.0,649.7 681.0,645.2 679.0,642.6 677.0,641.3 672.0,640.0 669.0,637.4 667.5,634.0 667.5,628.0 667.0,626.2 665.0,625.3 657.0,627.7 643.0,628.6 637.0,630.3 629.0,631.2 625.0,632.6 623.0,634.3 620.8,638.0 616.8,652.0 609.0,660.0 607.0,660.9 603.0,661.0 599.0,660.1 589.0,655.1 573.0,650.9 569.0,648.8 563.0,644.3 559.0,642.5 553.0,641.5 549.0,642.1 546.1,644.0 543.0,647.9 541.2,652.0 540.9,654.0 541.9,658.0 546.8,664.0 547.7,666.0 551.9,680.0 551.6,686.0 548.7,694.0 532.1,694.0 529.0,688.6 526.4,686.0 521.0,683.7 517.0,683.3 513.0,684.7 511.0,686.3 507.5,690.0 504.6,694.0 493.9,694.0 493.9,692.0 494.6,690.0 498.1,684.0 499.7,678.0 501.3,676.0 507.9,674.0 509.0,672.0 508.1,670.0 505.6,668.0 500.8,666.0 498.3,664.0 497.6,662.0 497.3,656.0 495.9,652.0 487.8,644.0 486.6,642.0 483.1,632.0 481.0,628.6 471.2,620.0 470.3,618.0 470.8,612.0 470.1,610.0 457.2,602.0 453.0,600.2 449.0,599.6 441.0,599.7 439.0,599.1 435.0,596.7 427.0,589.7 424.1,588.0 421.0,587.3 418.4,588.0 413.0,593.4 411.0,594.0 395.0,590.9 389.0,586.9 385.0,585.5 379.7,586.0 377.0,587.8 371.0,602.9 368.8,610.0 368.8,614.0 371.6,620.0 372.6,624.0 371.2,628.0 366.2,634.0 364.0,638.0 363.2,644.0 364.6,658.0 360.0,674.0 355.8,678.0 352.1,680.0 337.1,684.0 327.0,688.1 323.0,687.7 320.4,686.0 319.1,684.0 319.5,676.0 317.2,670.0 316.2,662.0 313.7,658.0 307.6,652.0 303.9,642.0 298.4,634.0 296.5,626.0 297.3,614.0 296.3,610.0 294.9,608.0 293.0,606.6 289.0,605.2 285.0,604.9 281.0,606.8 275.0,614.0 269.7,622.0 265.0,625.1 261.0,626.2 257.0,626.2 251.0,624.7 243.0,621.5 235.0,616.9 231.0,615.6 213.0,613.1 203.0,612.4 197.0,611.3 193.0,611.2 189.0,612.1 185.0,614.9 179.4,624.0 173.0,628.3 169.7,632.0 168.6,636.0 168.6,642.0 168.1,644.0 167.0,646.0 165.0,646.9 163.0,646.4 159.1,642.0 156.4,640.0 145.0,636.4 140.5,634.0 131.2,626.0 123.0,620.0 119.0,618.0 101.0,617.6 91.0,615.1 87.0,614.7 79.0,615.3 67.0,620.1 61.0,621.5 55.0,621.2 39.0,618.0 29.0,618.5 29.0,374.9 39.0,373.5 49.0,372.9 51.0,371.8 55.0,367.7 59.0,366.2 63.0,366.6 77.0,369.6 81.0,369.8 85.0,369.1 91.0,366.2 99.0,360.1 115.0,353.9 119.0,353.0 129.0,353.7 133.0,353.2 159.0,344.2 163.0,343.7 175.0,347.3 179.0,346.6 185.0,344.6 189.0,344.2 203.0,344.6 213.0,343.4 225.0,344.8 247.0,352.2 250.8,356.0 255.0,363.0 257.0,364.8 259.0,365.8 265.0,366.6 273.0,365.8 277.0,365.0 297.0,357.1 303.0,355.5 309.0,355.0 319.0,355.4 329.0,354.3 337.0,354.3 341.0,352.9 343.9,350.0 347.6,344.0 355.0,334.8 362.6,318.0ZM465.0,450.0 461.1,452.0 458.9,454.0 458.2,456.0 458.9,458.0 461.0,459.3 463.0,459.8 467.0,459.6 469.8,458.0 470.8,456.0 470.6,452.0 469.3,450.0 467.0,449.5 465.0,450.0ZM491.0,404.4 489.0,406.5 487.2,410.0 485.4,416.0 485.0,426.2 485.6,428.0 487.0,429.3 489.0,427.5 495.8,408.0 495.0,405.1 493.0,404.0 491.0,404.4ZM613.0,516.0 609.0,516.7 607.4,518.0 607.1,520.0 609.2,526.0 613.0,531.6 617.0,535.3 619.0,536.2 629.0,538.3 631.0,537.4 631.7,536.0 631.6,534.0 629.4,528.0 628.5,522.0 627.1,520.0 621.0,517.4 613.0,516.0ZM327.0,391.9 324.1,394.0 319.0,400.6 317.0,401.7 305.0,402.4 293.0,404.5 291.0,405.6 288.9,408.0 288.2,410.0 288.2,412.0 289.6,416.0 305.0,434.4 309.0,436.9 321.0,442.2 325.0,443.3 337.0,442.0 345.0,443.4 355.0,446.6 357.0,446.6 359.0,445.5 361.0,443.5 362.9,440.0 363.1,436.0 361.5,432.0 356.5,424.0 353.0,412.5 351.0,410.0 349.0,409.0 334.2,406.0 332.7,404.0 333.1,398.0 331.9,394.0 330.0,392.0 329.0,391.6 327.0,391.9ZM571.3,396.0 575.0,395.5 577.0,396.3 579.0,398.2 580.8,402.0 580.8,404.0 579.8,406.0 577.0,408.3 573.0,409.9 571.0,409.9 569.0,409.0 567.5,406.0 568.2,400.0 569.2,398.0 571.3,396.0ZM653.9,398.0 655.0,397.1 657.0,396.9 658.2,398.0 657.0,403.3 655.0,404.4 653.4,402.0 653.0,400.4 653.9,398.0Z"/>
<path fill="#e05c08" d="M363.7,320.0 365.0,318.8 367.0,318.5 369.0,319.4 371.9,322.0 377.0,328.3 381.0,331.5 393.0,333.8 401.9,338.0 409.0,343.0 413.0,343.5 421.0,342.3 425.0,342.9 427.0,343.8 429.0,345.7 430.4,348.0 433.9,358.0 433.8,362.0 431.1,368.0 430.4,372.0 431.0,379.3 433.0,383.4 435.0,385.2 437.0,385.6 447.0,379.1 451.0,378.3 453.0,378.7 455.2,380.0 463.0,388.9 473.0,394.1 477.1,398.0 479.0,402.0 478.7,406.0 477.0,408.8 469.9,416.0 464.2,424.0 463.3,428.0 463.4,436.0 462.9,440.0 461.7,442.0 459.1,444.0 453.0,446.5 449.0,449.4 446.8,452.0 443.6,458.0 443.0,460.0 443.4,462.0 446.2,464.0 455.0,468.1 459.0,469.4 463.0,469.1 475.0,466.6 481.0,464.0 487.3,460.0 489.5,458.0 490.2,456.0 488.3,448.0 488.8,446.0 490.1,444.0 495.0,440.6 499.0,439.3 507.0,438.4 511.0,438.6 514.6,440.0 517.0,442.0 518.5,444.0 518.8,446.0 518.2,448.0 517.0,449.6 512.5,454.0 512.0,456.0 513.0,457.1 517.0,458.6 521.0,461.0 526.6,466.0 528.4,468.0 529.2,470.0 528.4,474.0 524.8,482.0 525.1,486.0 527.0,488.8 529.0,490.2 533.0,490.9 541.0,490.7 543.0,489.9 545.0,487.2 552.4,470.0 555.0,467.0 559.0,466.5 563.0,467.5 573.0,473.4 575.0,473.6 577.0,472.9 579.0,471.0 580.7,468.0 581.2,464.0 580.9,462.0 577.8,456.0 576.6,452.0 580.0,444.0 580.8,436.0 583.0,432.0 585.0,430.5 587.0,429.8 593.0,429.2 601.0,425.9 603.0,425.9 605.0,426.9 611.0,431.9 615.4,434.0 618.2,436.0 620.7,440.0 620.7,442.0 617.5,448.0 617.0,454.0 616.4,456.0 615.0,457.5 613.0,458.4 609.0,458.5 603.0,457.2 601.0,457.2 599.2,458.0 597.8,464.0 593.6,472.0 593.6,474.0 595.0,476.2 598.1,478.0 605.0,480.7 609.7,484.0 610.8,486.0 610.9,488.0 610.2,490.0 607.0,493.5 603.0,495.7 599.0,495.1 591.0,492.5 587.0,492.5 583.0,493.8 580.9,496.0 577.7,506.0 573.9,514.0 575.0,515.4 583.0,518.0 585.0,519.3 587.2,522.0 588.0,524.0 588.4,528.0 585.6,536.0 585.6,538.0 586.6,540.0 589.0,541.7 594.6,544.0 597.0,545.9 599.0,548.5 603.2,556.0 607.0,557.6 611.0,558.2 615.0,557.9 617.0,556.7 621.0,552.2 623.0,551.1 625.0,551.0 633.0,552.4 637.0,551.5 639.1,550.0 640.7,548.0 643.0,543.7 644.5,542.0 647.0,541.1 661.0,542.5 673.0,548.3 677.0,549.5 679.0,549.5 685.0,547.2 687.0,549.2 688.3,556.0 688.0,558.0 681.0,563.9 678.9,568.0 678.3,572.0 679.0,575.2 682.9,582.0 682.4,588.0 682.8,590.0 684.2,592.0 689.2,596.0 692.3,600.0 693.0,601.7 695.0,602.3 699.0,598.2 705.0,589.5 707.0,588.4 709.0,590.7 710.0,594.0 711.3,596.0 717.0,601.0 721.0,606.3 722.1,610.0 722.1,612.0 720.4,620.0 721.0,622.0 724.5,628.0 724.0,630.0 705.0,642.8 701.0,644.5 699.0,644.7 697.0,644.3 694.9,642.0 692.6,634.0 685.8,626.0 685.1,622.0 685.9,616.0 685.7,614.0 685.0,613.0 681.0,611.8 675.0,612.1 661.0,616.7 657.0,617.3 653.0,616.5 645.0,612.1 641.0,611.6 639.0,612.1 637.0,613.8 633.6,620.0 631.0,622.9 629.0,624.2 623.0,626.4 619.0,629.6 616.4,634.0 613.0,641.9 611.5,644.0 609.0,646.2 605.0,648.4 599.0,649.4 579.0,648.1 573.0,645.8 567.0,640.9 563.0,638.8 555.0,636.8 549.0,636.6 545.0,637.7 543.0,638.9 535.7,646.0 533.3,650.0 531.0,659.3 529.0,660.4 519.0,659.2 515.0,658.2 513.0,657.1 507.0,649.9 497.0,640.5 482.2,620.0 479.0,607.7 477.0,604.0 473.0,600.5 455.0,595.4 445.0,593.5 441.0,592.3 437.0,590.0 429.0,583.6 421.0,580.0 415.0,579.5 405.0,583.7 401.0,584.1 397.0,583.4 385.0,577.6 379.0,576.6 373.0,576.6 371.0,577.3 369.0,578.9 367.3,582.0 366.9,586.0 367.3,594.0 366.7,598.0 365.1,604.0 361.7,612.0 361.9,616.0 364.7,622.0 365.1,624.0 364.5,626.0 363.0,627.9 361.0,629.4 354.8,632.0 353.0,633.3 351.2,636.0 351.0,638.0 353.7,646.0 353.4,650.0 351.0,651.7 347.0,652.6 345.0,654.0 344.0,656.0 344.0,658.0 346.7,666.0 347.0,670.0 346.3,672.0 345.0,673.6 343.0,674.6 341.0,674.8 337.5,674.0 335.0,672.5 328.3,666.0 327.0,663.6 324.5,656.0 319.2,650.0 318.2,648.0 318.2,642.0 317.6,640.0 314.6,636.0 308.1,630.0 305.0,625.5 303.8,622.0 302.8,612.0 301.0,607.4 297.0,603.4 287.0,598.6 283.0,598.4 278.9,600.0 276.8,602.0 272.6,608.0 265.0,617.3 263.0,619.0 259.0,620.3 255.0,619.7 251.0,618.0 239.0,611.1 225.0,609.0 221.5,608.0 215.0,603.9 211.0,602.2 195.0,603.8 187.0,606.6 183.0,608.7 181.0,610.8 177.3,618.0 175.0,621.0 169.0,625.6 163.0,631.2 159.0,632.9 151.0,632.3 145.7,630.0 143.6,628.0 139.0,621.3 131.0,616.4 123.0,608.8 115.0,603.9 111.0,602.5 105.0,602.9 97.0,605.3 89.0,604.6 85.0,605.1 79.0,607.2 69.0,613.0 65.2,614.0 55.0,612.2 47.0,613.3 37.0,613.1 29.0,613.9 29.0,380.9 35.0,380.3 39.0,380.9 41.4,382.0 47.0,386.2 51.0,386.7 55.0,385.6 58.0,384.0 63.3,378.0 67.0,375.4 71.0,374.7 83.0,375.5 87.0,374.9 91.0,373.0 101.0,365.3 117.0,358.8 121.0,358.6 129.0,359.7 133.0,359.5 143.0,355.9 161.0,352.1 165.0,353.2 171.0,356.0 175.0,356.6 179.0,355.7 191.0,350.5 203.0,350.5 215.0,348.1 221.0,348.8 229.0,350.7 241.9,356.0 244.7,358.0 246.1,360.0 248.2,368.0 249.2,370.0 251.0,371.6 255.0,373.2 265.0,375.1 273.0,379.7 277.0,379.7 281.0,377.2 287.0,368.6 289.8,366.0 297.0,361.8 303.0,359.7 309.0,359.3 313.0,359.9 329.0,365.8 339.0,365.5 343.0,364.2 347.0,359.9 351.0,353.5 358.2,338.0 363.7,320.0ZM547.0,493.6 545.0,494.2 544.2,496.0 544.4,500.0 545.3,502.0 547.0,504.1 551.0,506.4 553.0,507.0 555.0,506.0 556.1,502.0 554.8,498.0 553.1,496.0 551.0,494.7 547.0,493.6ZM223.0,412.4 221.2,414.0 221.1,416.0 223.0,418.0 225.0,418.4 227.0,417.5 227.8,416.0 227.4,414.0 225.0,412.3 223.0,412.4ZM325.0,381.6 317.0,391.0 311.0,395.6 301.0,399.3 291.0,401.3 287.0,404.0 285.5,406.0 284.4,410.0 285.7,414.0 287.0,416.0 296.5,426.0 303.0,437.6 307.0,442.8 319.0,451.6 325.0,453.7 335.0,454.0 339.0,454.9 350.2,462.0 355.0,463.6 361.0,463.9 369.0,461.9 371.0,462.1 373.0,463.4 374.7,466.0 375.2,470.0 374.6,474.0 372.0,482.0 371.9,484.0 373.0,486.4 375.0,486.9 379.0,485.0 383.0,483.9 393.0,483.9 397.7,482.0 399.8,480.0 400.9,478.0 402.5,472.0 403.6,470.0 409.7,466.0 411.4,464.0 412.1,462.0 411.5,456.0 408.0,446.0 408.9,444.0 413.0,441.4 415.0,439.2 417.9,428.0 417.6,426.0 413.0,423.0 410.5,420.0 409.7,418.0 409.5,414.0 410.8,410.0 413.0,408.0 420.6,406.0 423.0,404.0 423.1,402.0 421.9,400.0 419.0,397.5 417.0,396.8 415.0,396.8 411.0,398.0 401.0,409.1 397.3,418.0 393.0,423.1 387.0,426.8 377.0,428.5 373.0,426.8 369.3,422.0 367.3,418.0 366.5,414.0 366.6,412.0 368.9,406.0 368.9,404.0 367.0,401.1 362.4,398.0 353.0,393.3 349.0,392.8 343.0,393.8 341.0,392.5 337.0,386.0 333.0,382.1 329.0,380.2 327.0,380.4 325.0,381.6ZM553.0,511.8 548.4,518.0 548.1,522.0 551.0,527.5 555.0,530.6 557.0,530.9 559.0,530.4 569.0,524.0 570.9,522.0 573.0,516.5 573.6,516.0 557.0,510.3 555.0,510.3 553.0,511.8ZM549.1,420.0 553.0,419.9 555.9,422.0 557.6,426.0 558.4,434.0 559.1,436.0 561.0,438.0 567.7,442.0 569.6,444.0 571.0,448.0 570.5,450.0 567.9,452.0 561.0,453.8 557.0,453.1 555.5,452.0 554.6,450.0 554.6,442.0 554.1,440.0 546.8,434.0 544.6,430.0 544.2,426.0 544.7,424.0 545.9,422.0 549.1,420.0ZM770.8,546.0 775.0,544.7 781.0,544.6 785.9,546.0 793.0,550.1 795.0,550.1 801.0,546.9 805.0,545.6 811.0,545.4 813.0,546.1 815.0,548.0 817.1,552.0 818.1,556.0 817.3,560.0 812.6,568.0 809.0,576.4 805.0,579.4 795.0,582.4 791.7,584.0 789.9,586.0 789.1,588.0 789.0,596.0 787.0,599.8 784.0,602.0 775.0,606.9 769.0,608.6 765.0,607.7 763.8,606.0 763.6,604.0 765.0,599.5 770.7,592.0 770.8,590.0 768.2,586.0 758.5,576.0 756.0,572.0 754.9,568.0 754.0,558.0 755.2,554.0 757.3,552.0 770.8,546.0ZM532.6,668.0 533.0,667.4 535.0,667.5 537.0,669.1 538.9,672.0 540.8,680.0 539.0,682.4 537.0,681.2 535.0,679.0 532.5,676.0 531.6,674.0 531.4,672.0 532.6,668.0Z"/>
<path fill="#d62f06" d="M365.6,324.0 367.0,322.1 369.0,324.3 370.1,328.0 369.7,336.0 373.0,342.9 375.0,345.6 377.0,346.0 393.0,344.3 397.0,345.1 399.0,346.5 405.0,353.8 417.0,363.8 419.7,368.0 420.7,374.0 419.0,378.4 417.0,380.7 413.0,383.7 405.0,386.7 403.0,388.0 401.4,390.0 398.8,396.0 397.4,398.0 393.0,400.7 381.0,401.3 379.0,400.4 371.0,394.6 359.6,390.0 357.0,388.0 355.4,386.0 351.2,376.0 350.6,372.0 351.7,368.0 355.0,363.5 360.2,360.0 360.9,358.0 360.0,352.0 360.3,348.0 361.0,345.5 366.0,336.0 366.2,334.0 365.4,328.0 365.6,324.0ZM212.6,354.0 219.0,353.8 225.0,355.0 231.0,357.1 237.0,360.6 239.5,364.0 241.9,372.0 246.9,380.0 251.0,389.4 253.0,391.7 255.0,392.2 257.0,391.5 261.6,388.0 265.0,386.6 275.0,387.1 279.0,385.6 283.0,383.0 286.2,380.0 293.0,371.0 297.0,367.9 301.0,366.0 307.0,364.6 311.0,365.4 313.0,366.8 315.4,370.0 315.9,372.0 315.6,374.0 314.5,376.0 310.2,380.0 309.3,382.0 308.7,386.0 306.0,390.0 303.4,392.0 299.0,393.9 289.0,395.8 283.0,398.3 277.0,404.5 275.6,408.0 276.1,410.0 277.8,412.0 293.0,424.5 296.1,428.0 297.7,432.0 300.3,442.0 301.9,458.0 302.5,460.0 304.1,462.0 307.0,463.0 309.0,462.8 317.0,460.7 327.0,462.0 331.0,463.0 339.0,466.7 358.6,474.0 360.8,476.0 361.7,478.0 363.0,486.0 365.3,492.0 372.4,502.0 377.0,505.4 381.0,505.8 383.9,504.0 386.2,500.0 387.9,494.0 389.0,493.3 393.0,492.8 401.0,493.2 405.0,492.2 409.0,488.7 417.0,478.6 427.0,469.7 429.0,469.4 435.0,471.0 447.0,471.6 457.0,476.8 459.0,477.3 463.0,477.1 469.0,475.3 473.0,475.4 475.0,476.3 476.6,478.0 478.4,482.0 480.0,484.0 483.0,485.4 485.0,485.5 488.3,484.0 489.0,482.6 489.3,476.0 491.0,472.0 495.0,469.2 501.0,468.2 503.0,468.7 504.9,470.0 505.5,472.0 504.0,478.0 500.5,484.0 501.0,486.0 505.0,488.8 511.0,491.0 515.0,493.1 519.0,497.0 521.0,500.9 532.3,530.0 537.0,534.5 541.0,540.1 543.0,542.1 546.1,544.0 547.5,546.0 547.0,548.9 541.7,556.0 540.9,560.0 542.2,566.0 543.5,568.0 545.8,570.0 549.0,571.1 551.0,571.2 561.0,569.3 565.0,569.2 575.0,571.0 585.0,576.1 593.0,583.8 597.0,586.5 613.0,592.1 617.0,592.1 619.4,590.0 622.1,584.0 625.0,580.9 627.0,580.5 635.0,582.0 637.0,581.4 639.0,580.0 640.2,578.0 640.7,576.0 640.3,574.0 639.0,572.0 634.0,568.0 632.3,566.0 631.8,564.0 633.0,562.0 645.0,557.6 651.1,552.0 654.4,550.0 659.0,549.5 661.4,550.0 665.0,552.2 668.2,556.0 670.3,560.0 670.8,564.0 668.4,572.0 666.0,576.0 661.0,581.6 657.9,586.0 651.3,598.0 649.0,599.6 645.0,600.3 643.0,600.0 641.0,598.9 635.0,593.7 633.0,592.7 631.0,592.7 628.8,594.0 626.7,598.0 624.8,606.0 625.1,616.0 623.0,618.0 619.0,620.3 617.0,622.4 609.0,634.8 605.0,638.8 601.0,639.8 595.0,639.9 585.0,643.0 581.0,643.2 577.0,642.0 571.0,637.4 567.0,635.3 553.0,632.8 545.0,632.6 539.0,633.9 529.0,637.6 526.6,640.0 523.6,646.0 521.0,647.4 519.0,646.8 516.3,644.0 515.0,641.5 512.8,634.0 510.1,630.0 507.0,628.4 499.0,628.6 497.0,628.0 493.0,624.6 488.5,618.0 485.8,610.0 481.0,600.3 479.0,597.3 477.0,595.5 473.0,593.9 463.0,592.3 445.6,588.0 441.0,585.9 427.0,577.1 421.0,574.2 417.0,572.9 413.0,572.7 405.0,575.9 401.0,576.9 397.0,576.5 395.0,575.7 390.0,572.0 385.0,565.8 375.0,556.6 367.0,552.6 366.0,550.0 365.8,542.0 363.5,538.0 361.0,536.7 359.0,537.3 351.0,544.0 345.0,547.0 341.0,547.1 335.0,545.7 331.0,546.2 329.0,547.1 326.0,550.0 322.5,558.0 322.3,562.0 323.0,564.0 326.2,568.0 328.7,570.0 331.0,570.9 337.0,570.9 345.0,569.5 349.0,568.1 357.0,564.0 359.0,564.1 359.6,566.0 358.9,568.0 354.5,574.0 353.9,578.0 354.5,580.0 359.0,587.0 360.3,590.0 361.1,594.0 360.6,600.0 359.0,603.7 354.3,610.0 353.4,614.0 353.1,620.0 352.3,622.0 343.0,630.7 339.0,632.7 325.0,632.6 321.0,631.5 318.6,630.0 316.2,628.0 313.2,624.0 306.5,608.0 303.0,602.6 299.0,599.2 291.0,594.3 285.0,592.5 279.0,592.8 275.0,594.1 272.5,596.0 266.4,604.0 257.0,609.1 255.0,609.5 253.0,609.3 245.0,605.2 235.0,604.9 227.0,603.6 223.0,602.0 217.0,597.6 213.0,596.3 195.0,597.6 179.0,601.2 177.0,602.4 176.0,604.0 172.8,614.0 170.3,618.0 163.0,624.7 159.0,626.2 155.0,625.4 151.0,621.9 147.4,616.0 144.3,608.0 135.9,600.0 131.0,591.8 127.4,590.0 123.0,589.4 117.0,589.7 107.0,591.2 101.0,590.9 95.0,588.4 87.0,583.3 83.0,583.7 76.4,588.0 74.9,590.0 72.5,596.0 71.0,598.1 69.0,599.4 67.0,599.6 63.6,598.0 61.5,596.0 58.9,592.0 56.3,590.0 53.0,589.3 51.0,589.9 50.6,592.0 54.0,598.0 54.1,600.0 53.4,602.0 51.0,604.9 49.0,606.4 45.0,607.8 29.0,608.7 29.0,395.9 35.0,395.9 47.0,400.3 51.0,400.3 53.0,399.3 58.8,394.0 64.7,390.0 69.0,383.6 71.0,381.5 75.0,380.4 85.0,381.9 89.0,381.7 93.0,379.9 103.0,373.4 111.0,371.7 116.8,368.0 119.0,367.3 133.0,367.0 137.0,365.8 145.0,361.7 153.0,360.1 159.0,360.7 169.0,365.0 175.0,365.5 181.0,364.0 197.0,357.8 212.6,354.0ZM217.0,407.5 215.0,408.4 213.4,410.0 212.7,412.0 213.1,416.0 214.2,420.0 215.2,422.0 217.0,423.9 221.0,424.8 227.0,424.6 231.0,423.4 233.1,422.0 234.7,420.0 235.6,418.0 235.5,414.0 234.6,412.0 231.0,408.5 229.0,407.4 225.0,406.4 221.0,406.5 217.0,407.5ZM772.4,554.0 777.0,553.1 781.0,554.5 784.0,558.0 785.3,562.0 785.9,568.0 785.1,572.0 781.0,577.1 777.0,579.5 775.0,579.6 771.1,578.0 769.3,576.0 768.5,574.0 768.6,558.0 769.8,556.0 772.4,554.0ZM805.8,556.0 807.4,556.0 807.9,558.0 807.0,559.2 805.0,558.0 805.8,556.0ZM658.2,602.0 661.0,601.8 661.7,604.0 661.0,604.6 659.0,604.6 658.2,604.0 658.2,602.0Z"/>
<path fill="#c80808" d="M386.8,356.0 389.0,355.3 393.0,355.1 395.0,355.6 399.0,358.0 403.0,361.6 404.7,364.0 408.1,370.0 408.6,372.0 407.0,374.5 404.7,376.0 401.0,377.3 395.0,377.8 385.0,376.8 384.5,378.0 385.2,382.0 384.6,386.0 383.0,388.6 381.0,389.5 379.0,389.2 376.9,388.0 375.4,386.0 374.9,384.0 375.3,382.0 377.0,379.3 379.0,377.8 384.3,376.0 383.0,375.0 380.1,370.0 379.2,366.0 379.7,364.0 382.0,360.0 385.0,357.0 386.8,356.0ZM206.9,362.0 215.0,360.6 221.0,360.5 227.0,362.0 231.0,364.2 234.5,368.0 240.9,380.0 244.5,390.0 245.1,394.0 244.8,396.0 243.0,399.5 241.0,401.4 239.0,402.3 235.0,402.6 211.0,400.2 207.0,401.3 204.0,404.0 201.5,408.0 201.0,412.0 204.7,420.0 205.5,426.0 207.7,430.0 209.5,432.0 213.0,434.4 217.0,435.0 223.9,432.0 235.0,428.2 238.7,426.0 241.0,423.6 242.8,420.0 245.3,412.0 248.5,408.0 251.0,406.4 255.0,405.2 259.0,405.3 261.0,406.1 263.0,407.4 269.0,414.4 271.6,416.0 283.0,420.0 291.0,425.2 294.1,428.0 295.5,432.0 295.9,442.0 295.1,448.0 292.8,458.0 293.8,462.0 297.0,466.5 301.0,469.5 305.0,470.5 309.0,470.0 315.0,468.3 321.0,468.3 341.0,474.0 345.2,476.0 351.0,480.5 355.0,484.9 360.6,496.0 371.9,516.0 373.3,520.0 372.9,522.0 359.0,525.1 355.0,526.8 353.0,528.4 349.2,534.0 347.0,535.8 345.0,536.4 339.0,536.5 337.0,537.0 330.2,540.0 323.3,542.0 321.0,543.4 317.1,552.0 314.6,556.0 314.1,558.0 314.9,562.0 317.3,566.0 319.2,568.0 324.7,572.0 328.5,574.0 341.0,578.6 345.0,581.9 351.8,590.0 353.2,594.0 352.9,598.0 348.0,608.0 346.8,616.0 345.0,619.9 341.0,623.2 337.0,624.8 329.0,625.6 323.0,624.6 319.0,621.2 307.0,601.3 301.0,595.1 291.0,587.5 279.0,583.7 271.0,580.2 269.0,579.9 267.0,580.2 264.3,582.0 262.9,584.0 261.0,590.0 259.0,593.0 257.0,594.6 253.0,596.1 245.0,595.4 237.0,595.6 225.0,593.2 215.0,590.0 205.0,591.3 195.0,590.6 185.0,592.7 175.0,591.8 169.0,592.7 166.3,594.0 165.0,595.3 164.1,598.0 167.6,606.0 167.8,610.0 167.2,612.0 165.0,615.7 163.0,617.6 161.0,618.8 159.0,619.1 157.0,618.7 155.0,617.4 152.8,614.0 152.5,612.0 153.3,606.0 153.1,604.0 152.1,602.0 143.5,596.0 139.0,588.7 136.0,586.0 133.0,584.6 129.0,583.7 111.0,583.9 101.0,582.4 97.7,580.0 94.3,572.0 91.5,570.0 89.0,569.3 85.0,569.1 83.0,569.8 79.0,574.4 77.0,575.3 75.0,575.2 73.4,574.0 72.7,572.0 73.0,570.0 74.8,566.0 73.0,564.6 67.0,564.8 57.0,563.7 53.0,564.6 51.6,566.0 52.0,568.0 56.2,574.0 56.4,576.0 55.0,576.9 47.0,577.4 43.0,578.9 41.0,580.4 38.1,584.0 34.7,590.0 32.9,598.0 31.0,599.5 29.0,599.5 29.0,569.5 33.0,568.3 36.7,566.0 39.0,564.0 39.2,562.0 36.5,560.0 33.0,558.9 29.0,558.5 29.0,407.2 33.0,407.2 37.0,408.2 41.8,410.0 49.0,413.9 53.0,415.0 61.0,414.2 69.0,412.4 74.4,410.0 78.3,406.0 79.0,404.0 78.7,402.0 77.0,398.0 76.8,396.0 77.3,394.0 79.3,392.0 89.0,390.3 97.0,388.3 105.0,387.2 113.0,383.0 125.0,380.5 137.0,375.9 142.6,370.0 147.0,367.0 151.0,366.0 155.0,366.2 169.0,370.9 175.0,371.3 195.0,366.5 206.9,362.0ZM435.8,480.0 443.0,479.0 447.0,480.0 461.0,489.4 469.0,499.5 471.9,502.0 477.0,504.0 481.0,504.8 485.0,505.3 493.0,505.2 497.0,506.3 513.4,518.0 516.9,522.0 517.6,524.0 516.5,540.0 515.6,546.0 515.8,550.0 518.7,556.0 525.0,565.7 527.0,566.9 533.0,567.8 541.0,574.4 547.0,577.5 551.0,578.2 565.0,577.5 571.0,578.2 577.0,580.7 587.0,587.1 599.0,597.5 607.6,604.0 609.2,606.0 609.9,608.0 610.0,610.0 609.0,613.0 607.0,614.0 603.0,613.2 601.0,613.6 599.0,614.8 596.6,618.0 596.3,620.0 597.0,622.0 602.8,626.0 601.7,628.0 599.0,629.3 593.0,630.5 587.0,634.4 583.0,635.7 579.0,634.6 574.9,632.0 571.0,630.5 561.0,630.1 549.0,628.6 537.0,627.8 527.0,624.9 519.0,623.6 513.0,621.4 505.0,619.5 501.0,617.4 498.1,614.0 493.0,605.3 487.0,598.6 483.0,592.4 479.8,590.0 466.3,588.0 445.0,582.0 441.0,580.0 427.0,570.2 417.0,565.5 413.0,565.1 411.0,565.5 404.0,570.0 401.0,571.0 397.8,570.0 396.2,568.0 394.4,560.0 387.6,554.0 386.4,552.0 385.9,550.0 386.3,540.0 385.0,535.2 383.0,531.9 376.7,526.0 375.4,524.0 377.0,522.8 389.0,522.3 391.1,522.0 393.0,520.8 393.4,520.0 392.3,512.0 393.0,509.1 395.0,506.5 397.0,505.8 399.0,506.1 405.0,509.8 407.0,509.8 409.0,508.3 410.4,506.0 414.0,496.0 417.0,492.1 429.0,482.8 435.8,480.0Z"/>
<path fill="#cc1530" d="M216.9,368.0 221.0,367.7 225.0,368.5 227.7,370.0 231.0,373.5 234.5,380.0 237.0,388.0 236.8,392.0 235.0,393.9 227.0,396.4 223.0,396.8 219.0,396.4 215.0,394.9 209.8,392.0 205.8,388.0 203.6,380.0 204.2,376.0 205.5,374.0 209.0,371.0 213.0,369.1 216.9,368.0ZM159.9,380.0 163.0,378.7 167.0,378.9 179.0,382.8 181.0,382.5 187.0,379.6 191.0,379.3 193.4,380.0 194.7,382.0 194.7,384.0 193.5,388.0 190.2,394.0 189.8,396.0 190.8,408.0 189.6,414.0 186.8,422.0 186.6,424.0 187.1,426.0 190.1,428.0 199.0,431.4 205.0,435.7 213.0,442.9 217.0,445.2 227.0,446.5 229.0,445.7 232.9,442.0 236.1,440.0 243.0,437.7 247.0,435.3 250.1,432.0 252.3,428.0 252.9,424.0 252.5,418.0 253.0,415.9 255.0,414.0 257.0,413.9 259.0,414.9 263.0,418.6 267.0,421.2 273.0,423.1 285.0,425.5 290.6,428.0 292.2,430.0 292.6,432.0 292.3,436.0 290.0,444.0 289.0,445.9 287.0,447.9 283.0,449.5 279.0,449.3 265.0,443.1 261.0,442.8 259.0,443.2 253.8,446.0 251.6,448.0 250.4,450.0 250.2,454.0 251.8,458.0 255.0,460.0 257.0,460.3 279.0,460.9 285.0,462.2 289.0,464.9 299.0,475.0 303.0,477.3 307.0,478.6 309.0,478.4 313.7,476.0 317.0,475.2 321.0,476.0 327.0,478.5 337.0,479.6 341.0,481.4 346.2,486.0 349.0,489.3 350.6,492.0 351.6,496.0 351.2,500.0 345.4,514.0 343.0,516.3 332.4,522.0 330.3,524.0 327.3,530.0 325.1,532.0 317.0,532.8 313.0,534.2 311.0,536.0 309.9,538.0 307.2,546.0 301.0,552.7 297.0,555.7 277.0,567.5 273.0,568.2 271.0,567.6 265.0,561.5 261.0,559.6 259.0,559.6 257.0,560.7 255.0,563.4 251.1,576.0 249.0,577.9 247.0,577.8 245.0,576.9 239.0,571.7 235.0,569.1 233.0,568.6 229.0,568.9 223.0,571.4 217.0,576.1 207.0,580.6 195.0,581.9 185.0,584.2 165.0,587.4 153.0,591.7 151.0,591.4 149.0,590.4 141.2,582.0 135.0,579.0 129.0,577.5 117.0,578.7 113.0,578.4 109.0,577.2 106.9,576.0 105.3,574.0 101.0,566.4 97.0,563.6 85.0,560.8 75.0,557.4 67.0,556.7 57.0,554.2 45.0,552.6 41.0,551.4 39.0,550.2 37.5,548.0 36.9,544.0 37.4,542.0 41.4,538.0 41.9,536.0 41.0,534.2 39.0,533.3 37.0,533.3 29.0,535.6 29.0,435.8 30.9,434.0 35.0,428.2 39.0,426.8 43.0,426.8 55.0,429.0 59.0,428.3 67.0,425.3 71.0,425.6 76.7,428.0 79.0,428.4 82.4,428.0 87.0,426.2 91.0,422.9 92.7,420.0 97.4,406.0 99.0,403.7 103.0,400.9 107.0,400.7 109.0,401.9 112.7,406.0 115.0,407.6 119.0,408.6 123.0,408.0 129.3,404.0 132.7,400.0 135.0,394.0 137.0,391.9 141.0,391.8 145.0,392.8 147.7,394.0 153.0,398.0 155.0,398.3 157.0,397.2 158.8,394.0 159.0,390.0 158.3,384.0 158.6,382.0 159.9,380.0ZM217.0,465.8 213.0,466.7 210.6,468.0 209.0,470.0 208.4,474.0 209.3,476.0 212.8,480.0 213.5,482.0 213.3,494.0 214.4,498.0 219.6,508.0 221.0,509.8 223.0,509.8 227.0,507.9 229.0,505.9 231.0,502.2 232.0,498.0 232.9,488.0 236.0,480.0 236.1,476.0 233.4,472.0 227.0,466.5 223.0,465.5 217.0,465.8ZM217.0,512.0 215.9,514.0 216.7,516.0 221.0,521.4 222.2,520.0 219.8,514.0 219.0,512.2 217.0,512.0ZM434.1,490.0 437.0,488.8 443.0,488.5 447.0,489.5 451.0,491.8 453.5,494.0 456.6,498.0 458.2,502.0 459.3,508.0 460.1,510.0 463.0,512.2 473.0,510.7 477.0,511.4 483.0,513.4 491.0,513.2 493.0,513.6 495.0,515.0 496.8,518.0 497.0,520.3 495.5,524.0 492.3,528.0 491.9,530.0 495.7,538.0 496.2,546.0 497.0,547.7 499.0,549.2 505.0,551.9 509.0,555.2 512.0,560.0 514.1,566.0 516.2,570.0 519.3,574.0 523.0,577.4 527.0,579.1 535.0,579.4 549.0,584.5 557.0,585.2 567.0,585.1 571.0,585.8 579.0,589.2 585.0,593.2 588.7,598.0 590.3,602.0 590.7,606.0 589.5,610.0 583.0,622.6 581.0,624.2 579.0,624.7 571.0,624.7 561.0,625.7 557.0,625.3 540.7,622.0 521.0,614.4 511.0,614.0 507.0,612.9 505.0,611.4 503.0,608.4 499.2,598.0 498.1,596.0 491.0,590.3 487.1,584.0 485.0,582.6 483.0,582.4 475.0,583.9 471.0,583.9 467.0,582.9 457.0,578.9 445.0,576.0 439.2,572.0 433.0,563.5 431.0,561.5 423.2,556.0 415.0,553.0 407.0,552.1 403.0,550.3 401.0,548.7 399.1,546.0 399.0,543.8 400.3,540.0 405.4,530.0 408.3,526.0 414.1,522.0 415.8,520.0 418.9,510.0 423.1,500.0 434.1,490.0ZM299.0,564.0 301.0,562.5 303.0,562.0 307.0,563.5 314.0,570.0 335.0,581.0 338.5,584.0 341.9,588.0 343.8,592.0 344.0,596.0 342.6,600.0 339.6,606.0 338.6,614.0 337.0,616.3 333.0,618.5 329.0,619.3 325.0,618.4 323.0,616.9 315.0,606.8 309.2,598.0 301.9,590.0 297.0,583.0 292.4,578.0 291.1,576.0 291.2,574.0 299.0,564.0Z"/>
<path fill="#d62a50" d="M220.4,386.0 221.0,384.9 223.0,385.2 224.0,388.0 223.0,389.8 221.0,389.5 220.2,388.0 220.4,386.0ZM138.0,406.0 141.0,405.3 143.0,406.1 144.6,408.0 146.2,412.0 145.3,418.0 146.1,420.0 147.0,420.6 151.0,421.8 159.0,421.2 165.0,422.1 167.9,424.0 169.0,425.6 171.1,432.0 172.9,434.0 176.1,436.0 185.0,439.6 189.0,439.6 193.0,438.9 197.0,439.3 199.0,440.2 201.0,442.0 201.6,444.0 200.7,446.0 196.2,450.0 195.3,452.0 195.5,456.0 198.5,464.0 198.1,468.0 195.9,472.0 193.0,474.8 187.0,479.8 177.7,486.0 176.1,488.0 171.7,496.0 169.6,498.0 163.0,501.4 157.0,503.2 155.0,503.1 153.0,501.7 147.6,494.0 145.0,492.2 143.0,491.8 137.0,492.5 133.0,491.7 128.6,488.0 125.0,482.1 123.0,481.9 117.1,486.0 113.0,487.1 107.0,487.4 97.0,485.6 93.5,486.0 91.0,486.9 89.0,488.3 86.3,492.0 85.7,494.0 86.1,496.0 89.0,497.7 98.4,500.0 99.6,502.0 99.5,504.0 96.3,512.0 91.1,518.0 90.5,524.0 87.9,530.0 87.6,532.0 88.1,534.0 91.0,537.4 93.0,538.0 95.0,537.3 97.0,535.9 103.0,530.0 107.5,522.0 111.0,520.1 117.0,518.9 119.0,518.0 121.0,516.1 125.0,505.7 129.0,501.4 131.0,500.2 133.0,499.8 135.0,500.4 136.9,502.0 142.2,508.0 145.0,509.1 153.0,509.9 155.0,511.1 161.0,517.5 169.0,521.1 177.0,526.5 183.0,527.3 191.0,526.8 201.0,531.9 203.0,532.1 207.0,531.3 209.0,531.5 211.0,532.4 219.0,538.9 227.0,544.1 230.3,548.0 231.8,552.0 231.9,556.0 231.0,558.4 229.0,560.4 225.0,562.0 214.6,564.0 210.6,566.0 203.0,571.2 195.0,574.0 191.0,574.7 181.0,574.3 177.4,576.0 173.0,579.4 169.0,580.9 165.0,581.1 154.7,580.0 153.0,579.7 151.0,578.4 149.5,576.0 150.2,572.0 149.8,570.0 149.0,569.3 145.0,568.6 135.0,570.7 121.0,571.4 115.0,570.7 113.0,569.0 103.0,556.9 99.0,553.9 95.0,553.0 89.0,554.4 85.0,554.6 73.0,551.0 65.0,549.4 59.0,546.0 55.0,542.6 49.0,535.0 45.0,528.0 43.0,526.2 39.0,525.1 33.0,526.0 29.0,525.9 29.0,448.5 41.0,445.6 47.0,446.9 53.0,449.6 57.0,449.8 59.3,448.0 59.8,446.0 59.5,440.0 60.3,438.0 62.3,436.0 65.0,434.5 69.0,433.9 77.0,437.2 81.0,438.3 85.0,438.1 91.0,436.2 95.0,434.3 101.0,429.6 105.0,427.4 113.0,425.0 121.0,424.0 123.0,422.6 127.0,418.3 132.9,410.0 138.0,406.0ZM69.0,457.6 67.0,458.3 65.6,460.0 65.7,462.0 67.2,464.0 73.0,467.3 79.0,471.9 81.0,472.3 83.0,471.0 83.4,466.0 82.3,462.0 81.0,459.7 79.0,458.7 69.0,457.6ZM262.8,468.0 273.0,468.7 283.0,468.4 287.0,470.0 289.1,472.0 293.2,478.0 294.9,482.0 295.0,484.0 292.9,492.0 293.0,497.5 293.8,500.0 297.4,504.0 298.5,506.0 299.5,510.0 299.4,512.0 298.4,514.0 297.0,515.1 293.0,516.2 289.0,515.3 283.0,512.7 279.0,512.3 277.0,512.9 275.0,514.4 271.0,523.3 267.0,528.1 259.0,533.5 255.0,534.0 252.8,532.0 252.6,512.0 251.0,508.5 246.5,504.0 245.6,502.0 245.5,498.0 247.4,492.0 255.0,485.1 257.3,482.0 258.3,478.0 258.0,472.0 259.0,470.0 262.8,468.0ZM322.7,490.0 327.0,488.1 329.0,488.0 333.0,489.0 335.1,490.0 336.8,492.0 337.0,494.9 335.0,496.1 329.0,493.4 323.0,492.4 322.7,490.0ZM317.8,502.0 319.0,501.5 320.0,504.0 320.3,506.0 319.0,508.0 317.0,505.1 317.0,502.9 317.8,502.0ZM437.7,504.0 441.0,503.2 443.0,504.4 443.7,516.0 445.0,519.0 450.1,524.0 452.0,528.0 451.7,530.0 449.0,532.6 445.0,533.6 437.0,531.9 429.0,531.8 427.0,531.2 426.2,530.0 425.5,528.0 425.4,524.0 425.9,518.0 427.0,513.6 429.0,510.1 431.0,508.1 437.7,504.0ZM423.8,536.0 425.0,535.0 427.0,535.2 429.0,537.0 430.8,540.0 430.2,542.0 429.0,542.6 427.0,542.6 425.0,541.8 423.5,540.0 422.9,538.0 423.8,536.0ZM274.9,540.0 281.0,538.6 285.0,539.0 287.4,540.0 289.2,542.0 290.1,544.0 290.2,546.0 288.4,550.0 285.0,553.2 281.0,555.1 277.0,555.4 273.0,553.8 270.7,552.0 269.3,550.0 269.0,548.0 270.6,544.0 274.9,540.0ZM459.0,542.0 461.0,540.7 463.0,541.3 469.0,544.7 477.0,547.2 481.0,549.7 484.1,554.0 486.2,560.0 486.6,564.0 486.3,566.0 485.4,568.0 481.9,572.0 477.5,576.0 475.0,577.4 471.0,578.1 467.0,577.1 448.0,568.0 445.0,565.1 444.4,562.0 444.7,560.0 446.4,554.0 448.4,550.0 451.0,547.4 459.0,542.0ZM305.8,576.0 307.0,575.3 311.0,574.9 317.0,576.0 323.0,578.0 329.5,582.0 334.9,588.0 337.1,592.0 337.1,596.0 331.0,607.3 329.0,609.6 327.0,610.2 325.0,609.7 321.0,607.0 317.0,602.6 312.8,596.0 305.8,588.0 304.1,584.0 303.7,580.0 304.2,578.0 305.8,576.0ZM501.3,576.0 503.0,575.5 507.0,575.7 511.0,576.9 512.9,578.0 515.3,582.0 516.8,588.0 521.0,591.0 525.0,592.4 527.0,592.4 535.0,589.5 537.0,589.2 540.8,590.0 547.0,592.6 561.0,592.9 569.0,592.1 575.0,593.3 579.2,596.0 581.6,600.0 581.9,604.0 580.8,608.0 577.0,615.5 575.0,617.2 573.0,618.0 561.0,619.5 557.0,619.2 552.3,618.0 548.8,616.0 543.0,608.7 539.0,606.1 527.0,602.3 512.9,602.0 512.1,600.0 512.2,598.0 514.0,590.0 513.1,588.0 510.1,586.0 503.0,583.7 500.0,582.0 499.1,580.0 499.4,578.0 501.3,576.0Z"/>
<path fill="#de4080" d="M140.1,434.0 147.0,432.9 149.0,433.3 151.0,434.7 152.5,438.0 153.0,442.0 152.8,444.0 151.0,446.6 148.9,444.0 145.0,440.6 137.0,438.4 137.0,436.0 140.1,434.0ZM111.8,442.0 115.0,440.6 119.0,440.3 131.0,442.5 133.0,443.3 133.8,446.0 133.7,448.0 133.0,451.4 131.0,455.3 125.0,453.2 117.0,452.0 113.0,450.5 110.6,448.0 110.0,446.0 110.2,444.0 111.8,442.0ZM151.0,452.0 153.0,450.1 157.2,454.0 163.0,456.4 167.0,456.2 173.0,453.7 175.0,453.7 180.1,458.0 183.0,462.0 184.3,466.0 183.6,470.0 181.8,472.0 179.0,473.2 165.0,475.7 161.0,474.7 155.0,469.8 150.6,464.0 149.8,462.0 149.4,458.0 151.0,452.0ZM132.6,458.0 133.0,457.6 135.4,460.0 135.5,462.0 135.0,462.4 132.6,462.0 131.9,460.0 132.6,458.0ZM41.2,468.0 43.0,466.9 45.0,466.6 49.0,467.7 61.0,476.0 71.0,478.5 74.4,480.0 76.7,482.0 77.8,484.0 77.3,488.0 73.5,494.0 72.6,496.0 72.5,498.0 73.5,500.0 79.9,506.0 81.0,508.0 81.1,510.0 80.4,512.0 77.5,516.0 68.1,522.0 63.0,528.0 61.0,529.1 59.0,528.5 57.0,526.8 51.5,518.0 45.1,510.0 43.2,500.0 38.1,494.0 36.2,490.0 35.8,484.0 36.3,480.0 39.8,470.0 41.2,468.0ZM274.6,478.0 279.0,476.9 282.3,478.0 283.8,480.0 284.5,484.0 282.7,492.0 280.8,498.0 279.0,500.3 277.0,501.4 273.0,501.9 269.0,500.9 264.2,498.0 262.5,496.0 262.3,494.0 264.0,490.0 266.9,486.0 271.0,480.9 274.6,478.0ZM29.0,506.0 29.0,504.4 33.0,505.0 37.0,507.2 39.9,510.0 40.3,512.0 38.3,516.0 36.1,518.0 33.0,519.5 29.0,519.9 29.0,506.0ZM140.5,526.0 143.0,525.7 145.0,526.9 147.4,530.0 152.8,540.0 152.9,544.0 150.1,552.0 148.6,554.0 146.0,556.0 141.0,557.9 129.0,559.5 125.0,559.0 121.1,556.0 119.7,554.0 118.7,550.0 119.6,546.0 125.0,536.4 127.0,534.9 133.0,533.5 135.0,532.1 139.0,527.0 140.5,526.0ZM178.1,548.0 179.0,546.7 181.0,547.0 185.0,550.2 189.0,551.3 199.0,550.8 203.0,551.3 205.0,552.0 205.3,554.0 201.1,560.0 197.0,563.9 193.0,565.9 189.0,566.4 187.0,565.8 183.9,564.0 179.0,559.9 178.1,558.0 177.4,554.0 177.5,550.0 178.1,548.0ZM460.8,556.0 471.0,558.7 473.1,560.0 474.0,562.0 473.9,566.0 473.0,568.2 471.1,570.0 467.6,570.0 465.0,568.8 461.3,566.0 459.7,564.0 458.0,560.0 458.2,558.0 459.0,556.7 460.8,556.0ZM310.7,582.0 313.0,580.7 317.0,580.5 322.8,582.0 325.5,584.0 328.1,588.0 329.6,592.0 329.2,596.0 327.7,598.0 325.0,599.6 323.0,599.2 321.6,598.0 318.4,594.0 311.5,588.0 310.3,586.0 310.0,584.0 310.7,582.0ZM566.2,600.0 569.0,599.2 571.0,599.2 572.8,600.0 573.6,602.0 573.1,604.0 571.0,606.3 567.0,608.0 559.0,608.0 557.0,606.3 557.1,604.0 566.2,600.0Z"/>
<path fill="#e455a8" d="M47.8,484.0 49.0,482.9 51.0,482.7 53.0,483.1 58.5,486.0 60.5,488.0 61.1,490.0 60.7,492.0 59.0,495.9 57.0,498.8 55.0,499.8 53.0,499.4 51.0,497.6 49.0,494.7 47.7,492.0 46.8,488.0 46.9,486.0 47.8,484.0Z"/>
</g>
<g class="land">
<g fill="#c8c8c8" stroke="#111" stroke-width="0.9" stroke-linejoin="round"><path d="M518.8,37.5 521.2,51.2 525.0,56.2 530.0,61.2 533.8,66.2 537.5,71.2 541.2,76.2 546.2,80.0 552.5,85.0 560.0,86.2 567.5,85.0 575.0,86.2 580.0,90.0 586.2,94.5 592.5,93.8 596.2,88.8 597.5,82.5 600.0,77.5 602.5,71.2 605.0,66.2 607.5,61.2 611.2,57.5 615.0,53.8 617.5,48.8 618.8,37.5 Z"/>
<path d="M755.0,37.5 762.5,47.5 770.0,48.8 775.0,51.2 767.5,53.8 772.5,55.0 780.0,55.5 787.5,58.0 795.0,59.5 802.5,58.8 810.0,56.2 817.5,53.8 825.0,51.2 832.5,48.8 840.0,45.5 841.2,37.5 Z"/>
<path d="M872.5,152.5 873.8,160.0 877.5,162.5 873.8,167.5 871.2,172.5 875.0,177.5 882.5,177.0 890.0,175.0 897.5,171.2 902.5,167.5 905.0,162.5 906.2,156.2 905.0,151.2 908.8,147.5 906.2,142.5 900.0,140.0 892.5,142.0 887.5,145.0 890.0,150.0 885.0,148.8 880.0,150.0 Z"/>
<path d="M913.8,108.8 920.0,107.5 927.5,106.2 930.0,110.0 927.5,115.0 937.5,117.5 941.2,122.5 935.0,128.8 930.0,132.5 937.5,135.0 942.5,140.0 945.0,145.0 947.0,150.0 955.0,150.0 955.0,186.2 947.5,186.2 940.0,185.0 932.5,187.5 925.0,190.0 917.5,191.2 910.0,193.0 913.8,188.8 920.0,185.0 927.5,181.2 932.5,178.8 927.5,177.5 920.0,176.2 913.8,175.0 917.5,170.0 921.2,165.0 918.8,161.2 923.8,157.5 930.0,157.5 931.2,152.5 928.8,147.5 925.0,145.0 920.0,150.0 916.2,145.0 917.5,138.8 915.0,135.0 910.0,132.5 911.2,126.2 908.8,120.0 911.2,115.0 Z"/>
<path d="M917.5,211.2 916.2,207.5 922.5,205.5 930.0,204.5 937.5,202.5 941.2,198.8 942.5,195.5 947.0,195.5 955.0,195.5 955.0,315.0 947.5,315.0 945.0,316.2 941.2,318.8 935.0,322.5 927.5,325.0 920.0,326.2 913.8,328.8 908.8,332.5 905.0,328.8 901.2,323.8 896.2,320.0 890.0,321.2 883.0,320.0 882.0,315.0 883.0,310.0 880.0,307.5 877.5,303.8 879.5,298.8 881.2,292.5 882.0,286.2 882.5,278.8 883.0,272.5 881.2,267.5 878.8,263.8 881.2,260.5 886.2,257.5 892.5,255.5 900.0,255.0 910.0,255.5 920.0,256.2 930.0,257.0 940.0,257.5 947.5,257.0 947.5,255.0 947.0,247.5 946.2,240.0 945.0,233.8 942.5,227.5 938.8,222.5 933.8,218.8 927.5,215.0 920.0,212.5 Z"/>
<path d="M955.0,341.2 947.5,341.2 941.2,342.5 937.5,341.2 930.0,340.0 922.5,339.5 915.0,337.5 908.8,335.0 908.0,336.2 903.8,342.5 897.5,350.0 891.2,356.2 886.2,361.2 905.0,340.0 900.0,347.5 892.5,355.0 885.0,361.2 878.8,367.5 875.0,375.0 874.5,382.5 873.8,388.8 870.0,395.0 863.8,401.2 856.2,406.2 848.8,411.2 843.8,416.2 840.0,422.5 836.2,428.8 832.5,436.2 828.8,443.8 825.0,451.2 821.2,458.8 817.5,466.2 815.0,473.8 813.8,480.0 816.2,486.2 818.8,492.5 818.0,500.0 821.1,500.0 821.7,508.8 820.5,517.6 818.1,526.4 815.2,533.8 811.7,542.6 815.2,548.5 817.5,555.8 816.7,563.2 819.6,570.5 824.0,576.4 831.4,580.8 837.2,586.7 843.1,594.0 847.5,601.4 849.0,608.7 854.9,614.6 862.2,621.9 869.5,629.3 876.9,635.1 884.2,641.0 893.0,645.4 901.9,641.0 912.1,638.1 922.4,636.6 932.7,638.1 941.5,638.7 953.3,638.1 953.3,500.0 960.0,330.0 Z"/>
<path d="M20.0,30.0 223.8,37.5 223.8,45.5 210.0,52.5 202.5,53.8 195.0,58.8 190.0,63.8 180.0,70.0 173.8,75.0 167.5,82.5 163.8,90.0 161.2,97.5 161.2,102.5 166.2,107.5 170.0,111.2 177.5,117.5 180.0,122.5 190.0,120.0 200.0,121.2 210.0,125.0 222.5,132.5 230.0,134.5 240.0,140.0 255.0,140.0 265.0,142.5 267.5,150.0 268.8,157.5 267.5,162.5 273.8,170.0 280.0,176.2 286.2,180.0 293.8,178.8 297.5,172.5 296.2,165.0 292.5,155.0 288.8,147.5 295.0,143.8 305.0,138.8 312.5,132.5 315.0,125.0 312.5,117.5 305.0,112.5 297.5,107.5 302.5,102.5 307.5,95.0 305.0,87.5 301.2,82.5 303.8,75.0 302.5,70.0 312.5,68.8 325.0,71.2 335.0,69.5 342.5,72.5 350.0,77.5 357.5,81.2 366.2,83.8 372.5,86.2 370.0,92.5 371.2,100.0 370.0,106.2 377.5,107.5 380.0,112.5 387.5,111.2 395.0,108.8 402.5,106.2 407.5,100.0 411.2,93.8 413.8,88.8 420.0,96.2 425.0,105.0 430.0,112.5 435.0,120.0 438.8,126.2 442.5,131.2 447.5,136.2 452.5,140.0 460.0,142.5 467.5,145.0 473.8,147.5 480.0,150.0 490.3,170.0 488.5,172.7 484.0,175.4 476.8,178.1 469.6,180.8 462.4,183.5 453.4,188.0 444.4,190.7 435.4,191.6 426.4,191.2 417.4,190.2 408.4,190.7 399.4,192.5 392.2,197.0 383.2,203.3 376.0,209.6 368.8,216.8 360.7,224.0 361.6,224.9 370.6,218.6 379.6,212.3 388.6,206.9 397.6,203.3 406.6,201.5 413.8,202.4 417.4,206.0 414.7,210.5 410.2,212.3 403.0,211.8 397.6,212.8 404.8,214.1 411.1,215.9 412.0,220.4 410.2,224.0 413.8,227.6 416.5,231.2 415.6,234.8 419.2,235.7 424.6,237.5 431.8,236.6 437.2,234.8 440.8,233.0 442.6,231.2 445.3,226.7 448.9,223.1 450.7,225.8 449.8,230.3 454.3,232.1 451.6,234.8 447.1,236.6 443.5,238.4 438.1,241.1 431.8,243.8 426.4,246.5 421.0,248.3 415.6,251.0 411.1,254.6 407.5,257.3 403.9,254.6 402.1,251.0 403.0,246.5 407.5,243.8 412.9,241.1 417.4,239.3 419.2,238.4 413.8,236.6 408.4,238.4 403.0,241.1 397.6,242.0 394.0,243.8 388.6,246.5 383.2,249.2 377.8,251.0 372.4,253.7 368.8,256.4 365.2,260.0 363.4,263.6 362.5,268.1 365.2,270.8 368.8,272.6 369.7,275.3 367.0,276.2 363.4,277.1 358.0,278.0 352.6,279.8 345.4,281.6 357.5,278.8 350.0,280.5 342.5,282.0 336.2,283.8 333.8,286.2 331.2,291.2 328.0,296.2 324.5,300.0 323.0,303.8 320.5,307.5 317.5,311.2 319.0,315.5 320.0,319.5 318.0,323.8 318.8,328.8 322.0,332.5 323.0,337.0 320.0,340.5 313.8,343.8 306.2,347.5 300.0,351.2 293.8,356.2 287.5,361.2 282.5,366.2 278.8,371.2 276.2,376.2 273.8,375.0 273.0,382.5 274.5,390.0 277.5,397.5 280.0,405.0 282.0,412.5 283.0,420.0 283.8,427.5 283.0,433.8 280.0,438.8 275.0,443.0 271.2,444.5 270.0,440.0 267.5,433.8 266.2,426.2 263.8,420.0 265.0,413.8 262.5,408.8 261.2,403.8 258.8,398.8 253.8,394.5 247.5,392.5 242.5,393.8 238.8,391.2 232.5,388.8 226.2,387.5 220.0,388.0 215.0,387.5 210.0,388.8 205.0,391.2 207.5,397.5 203.8,398.8 200.0,393.8 196.2,395.0 190.0,396.2 183.8,394.5 177.5,393.8 170.0,395.0 162.5,396.2 155.0,401.2 148.8,406.2 143.8,412.5 141.2,418.8 140.0,425.0 141.2,432.5 140.0,440.0 137.5,448.8 136.2,457.5 137.5,466.2 140.0,475.0 143.8,483.8 147.5,490.0 152.5,496.2 157.5,501.2 163.8,505.0 170.0,506.2 176.2,503.8 182.5,501.2 188.8,500.0 193.8,496.2 196.2,490.0 197.5,483.8 201.2,478.8 207.5,475.0 215.0,473.8 222.5,474.5 228.2,475.8 228.5,476.8 226.8,484.8 223.5,491.2 220.5,500.8 218.0,510.5 215.5,520.0 214.0,529.5 214.5,531.5 217.5,532.2 225.0,532.0 233.0,531.2 240.0,531.0 246.0,531.5 252.5,534.5 257.0,537.5 259.5,541.5 257.8,543.0 256.2,550.0 255.0,557.5 254.5,565.0 253.8,572.5 254.5,580.0 256.2,586.2 260.0,591.2 263.8,596.2 270.0,598.8 276.2,598.8 282.5,597.0 288.8,595.0 295.0,596.2 300.0,598.8 305.0,601.2 310.0,605.0 312.5,607.5 315.0,603.8 317.5,598.8 320.0,592.5 322.5,586.2 326.2,581.2 331.2,577.5 337.5,576.2 343.8,572.5 348.8,568.8 353.8,566.2 357.5,568.8 355.0,573.8 352.5,577.5 356.2,580.0 360.0,578.0 365.0,575.0 370.0,576.2 375.0,576.2 380.0,580.0 386.2,583.8 393.8,585.5 401.2,585.0 407.5,587.5 413.8,586.2 420.0,583.8 426.2,585.0 430.0,586.2 427.5,588.8 432.5,592.5 437.5,593.8 441.2,598.8 440.0,602.5 445.0,603.8 451.2,606.2 452.5,605.0 458.8,611.2 465.0,618.8 472.5,623.8 480.0,627.5 487.5,628.8 495.0,630.0 502.5,631.2 510.0,633.8 516.2,638.8 522.5,643.8 526.2,650.0 528.8,657.5 531.2,665.0 535.0,672.5 538.8,678.8 540.0,685.0 538.8,690.0 538.8,700.0 285.0,697.5 290.0,685.0 296.2,672.5 298.8,667.5 302.5,662.5 306.2,657.5 308.8,650.0 307.5,642.5 308.8,635.0 307.5,627.5 305.0,620.0 302.5,615.0 305.0,610.0 302.5,605.0 297.5,602.5 292.5,601.2 287.5,603.8 283.8,607.5 285.0,612.5 280.0,616.2 275.0,615.0 272.5,611.2 267.5,607.5 262.5,605.0 260.0,602.5 255.0,600.0 250.0,595.0 245.0,590.0 240.0,586.2 237.5,580.0 233.8,575.0 230.0,568.8 227.5,562.5 222.5,560.0 215.0,557.5 207.5,555.0 198.8,551.2 190.0,546.2 182.5,541.2 175.0,535.0 168.8,530.0 162.5,526.2 158.8,528.8 150.0,531.2 141.2,528.8 132.5,526.2 123.8,523.8 115.0,520.0 107.5,516.2 100.0,511.2 100.0,516.2 92.5,511.2 86.2,505.0 81.2,498.8 75.0,492.5 71.2,486.2 72.5,480.0 70.0,472.5 65.0,463.8 60.0,456.2 55.0,450.0 51.2,445.0 46.2,437.5 41.2,432.5 37.5,425.0 33.0,421.2 20.0,421.2 Z"/>
<path d="M232.5,36.0 231.0,51.0 230.0,57.5 237.5,56.2 242.5,61.2 247.5,57.5 255.0,53.8 265.0,52.5 275.0,58.8 282.5,56.2 280.0,51.2 272.5,47.5 267.5,36.0 Z"/>
<path d="M301.2,37.5 301.2,44.5 307.5,50.0 317.5,51.2 325.0,48.8 335.0,50.0 342.5,51.2 347.5,56.2 355.0,60.0 360.0,63.8 366.2,66.2 373.8,67.5 380.0,68.8 390.0,71.2 400.0,73.8 405.0,75.0 390.0,65.0 380.0,57.5 385.0,56.2 395.0,61.2 405.0,67.5 412.5,71.2 416.2,67.5 413.8,61.2 416.2,57.5 412.5,52.5 408.8,48.8 405.0,45.5 405.0,37.5 Z"/>
<path d="M484.0,177.2 479.5,184.4 476.8,189.8 473.2,195.2 469.6,200.6 466.0,206.0 460.6,211.4 458.8,215.9 466.0,216.4 475.0,215.9 484.0,216.8 489.4,217.7 491.2,220.4 484.0,223.1 489.4,224.0 494.8,221.3 498.4,218.6 502.0,216.8 504.7,219.5 502.9,224.0 507.4,225.8 511.9,224.0 513.7,218.6 512.8,213.2 510.1,207.8 507.4,203.3 503.8,199.7 498.4,197.9 494.8,200.6 491.2,197.0 485.8,195.2 482.2,193.4 485.8,188.0 489.4,182.6 491.2,178.1 487.6,176.3 Z"/>
<path d="M243.5,471.5 247.0,468.0 251.0,466.5 258.0,463.0 266.0,460.0 276.0,459.0 284.0,461.0 292.0,466.0 300.0,471.0 308.0,475.0 316.0,479.0 324.0,483.0 330.0,486.0 333.2,489.0 326.0,491.0 318.0,490.5 310.0,491.7 305.0,491.0 307.0,487.0 304.0,483.0 299.0,480.0 294.0,476.0 288.0,473.0 282.0,470.0 276.0,469.0 270.0,468.0 266.0,465.0 262.0,467.0 256.0,470.0 252.0,472.0 247.0,473.0 Z"/>
<path d="M332.2,505.0 338.3,504.0 344.3,505.0 350.3,507.0 354.3,508.0 357.3,513.0 360.3,509.0 366.4,507.0 374.4,506.0 380.4,507.0 383.4,505.0 382.4,502.0 378.4,499.0 373.4,497.0 368.4,494.0 362.3,491.8 356.3,492.6 351.3,492.6 346.3,491.0 341.3,492.0 340.3,495.0 345.3,497.0 348.3,500.0 344.3,502.0 338.3,502.6 Z"/>
<path d="M895.0,117.5 898.8,112.5 905.0,110.0 903.8,113.8 900.0,117.5 896.2,121.2 Z"/>
<path d="M253.8,68.8 258.8,65.5 267.5,64.5 270.5,67.0 266.2,70.5 257.5,72.5 Z"/>
<path d="M283.8,73.8 287.5,70.0 291.2,71.2 290.0,76.2 286.2,78.0 Z"/>
<path d="M382.5,90.0 385.0,88.2 387.5,90.0 385.5,92.5 Z"/>
<path d="M268.8,162.5 273.8,161.2 278.8,163.8 275.0,165.5 Z"/>
<path d="M298.8,60.5 302.5,59.5 305.5,61.5 302.0,63.0 Z"/>
<path d="M307.5,58.0 311.2,57.0 314.0,59.0 310.5,60.0 Z"/>
<path d="M417.4,223.1 420.1,227.6 424.6,230.3 431.8,231.2 435.4,228.5 430.0,228.5 424.6,227.6 421.0,224.0 Z"/>
<path d="M415.6,194.3 421.0,197.0 428.2,200.6 435.4,202.4 439.0,200.6 433.6,197.0 426.4,194.8 419.2,193.4 Z"/>
<path d="M258.8,472.5 261.2,471.2 263.8,473.2 261.2,475.5 Z"/>
<path d="M300.0,507.0 306.0,505.8 313.0,507.0 316.6,510.0 312.0,512.0 305.0,511.0 301.0,509.0 Z"/>
<path d="M299.6,444.0 300.8,439.0 303.5,445.0 305.8,452.0 304.0,452.5 301.0,447.0 Z"/>
<path d="M392.8,506.0 404.5,505.6 405.0,510.0 393.5,510.6 Z"/>
<path d="M440.0,582.5 444.5,582.5 444.5,589.5 435.0,590.0 440.0,587.5 Z"/>
<ellipse cx="817.5" cy="408.0" rx="2.8" ry="1.8" transform="rotate(-20 817.5 408.0)"/>
<ellipse cx="825.5" cy="411.8" rx="2.0" ry="2.0" transform="rotate(0 825.5 411.8)"/>
<ellipse cx="838.2" cy="406.8" rx="1.2" ry="3.8" transform="rotate(25 838.2 406.8)"/>
<ellipse cx="842.5" cy="400.2" rx="1.0" ry="2.0" transform="rotate(40 842.5 400.2)"/>
<ellipse cx="806.2" cy="404.5" rx="1.0" ry="1.8" transform="rotate(0 806.2 404.5)"/>
<ellipse cx="812.0" cy="410.5" rx="1.0" ry="1.0" transform="rotate(0 812.0 410.5)"/>
<ellipse cx="805.0" cy="414.0" rx="1.0" ry="0.8" transform="rotate(0 805.0 414.0)"/>
<ellipse cx="814.5" cy="364.2" rx="2.2" ry="1.2" transform="rotate(15 814.5 364.2)"/>
<ellipse cx="820.0" cy="361.0" rx="0.8" ry="0.5" transform="rotate(0 820.0 361.0)"/>
<ellipse cx="745.3" cy="519.7" rx="1.6" ry="1.3" transform="rotate(0 745.3 519.7)"/>
<ellipse cx="752.8" cy="523.0" rx="1.6" ry="1.3" transform="rotate(0 752.8 523.0)"/>
<ellipse cx="764.7" cy="523.0" rx="1.6" ry="1.3" transform="rotate(0 764.7 523.0)"/>
<ellipse cx="765.7" cy="528.9" rx="1.6" ry="1.3" transform="rotate(0 765.7 528.9)"/>
<ellipse cx="759.6" cy="539.0" rx="1.6" ry="1.3" transform="rotate(0 759.6 539.0)"/>
<ellipse cx="750.0" cy="541.0" rx="1.6" ry="1.3" transform="rotate(0 750.0 541.0)"/>
<ellipse cx="747.0" cy="541.5" rx="1.6" ry="1.3" transform="rotate(0 747.0 541.5)"/>
<ellipse cx="718.8" cy="305.5" rx="1.5" ry="1.1" transform="rotate(20 718.8 305.5)"/>
<ellipse cx="722.0" cy="306.5" rx="1.2" ry="1.1" transform="rotate(20 722.0 306.5)"/>
<ellipse cx="727.8" cy="304.5" rx="2.0" ry="1.1" transform="rotate(20 727.8 304.5)"/>
<ellipse cx="733.0" cy="307.0" rx="1.3" ry="1.1" transform="rotate(20 733.0 307.0)"/>
<ellipse cx="742.6" cy="313.7" rx="2.4" ry="1.1" transform="rotate(20 742.6 313.7)"/>
<ellipse cx="746.0" cy="321.9" rx="1.2" ry="1.1" transform="rotate(20 746.0 321.9)"/>
<ellipse cx="709.0" cy="300.0" rx="1.0" ry="1.1" transform="rotate(20 709.0 300.0)"/>
<ellipse cx="439.5" cy="513.0" rx="1.2" ry="1.2" transform="rotate(0 439.5 513.0)"/>
<ellipse cx="440.5" cy="519.7" rx="1.2" ry="1.5" transform="rotate(0 440.5 519.7)"/>
<ellipse cx="441.2" cy="527.5" rx="1.5" ry="1.5" transform="rotate(0 441.2 527.5)"/>
<ellipse cx="443.5" cy="534.3" rx="2.2" ry="2.0" transform="rotate(0 443.5 534.3)"/>
<ellipse cx="444.9" cy="543.5" rx="1.3" ry="2.0" transform="rotate(0 444.9 543.5)"/>
<ellipse cx="447.3" cy="552.0" rx="1.5" ry="2.2" transform="rotate(0 447.3 552.0)"/>
<ellipse cx="449.0" cy="560.5" rx="1.2" ry="1.8" transform="rotate(0 449.0 560.5)"/>
<ellipse cx="448.3" cy="569.0" rx="1.0" ry="1.5" transform="rotate(0 448.3 569.0)"/>
<ellipse cx="447.3" cy="578.5" rx="1.0" ry="1.2" transform="rotate(0 447.3 578.5)"/>
<ellipse cx="456.5" cy="558.0" rx="1.2" ry="1.5" transform="rotate(0 456.5 558.0)"/>
<ellipse cx="416.7" cy="506.0" rx="2.0" ry="0.8" transform="rotate(0 416.7 506.0)"/>
<ellipse cx="421.0" cy="507.5" rx="1.2" ry="0.7" transform="rotate(0 421.0 507.5)"/>
<ellipse cx="307.0" cy="424.5" rx="4.0" ry="0.8" transform="rotate(-10 307.0 424.5)"/>
<ellipse cx="311.5" cy="427.0" rx="0.8" ry="3.0" transform="rotate(-20 311.5 427.0)"/>
<ellipse cx="314.5" cy="436.0" rx="0.8" ry="3.5" transform="rotate(-25 314.5 436.0)"/>
<ellipse cx="318.8" cy="442.8" rx="0.7" ry="3.0" transform="rotate(-35 318.8 442.8)"/>
<ellipse cx="323.0" cy="447.6" rx="0.7" ry="3.0" transform="rotate(-35 323.0 447.6)"/>
<ellipse cx="326.5" cy="454.0" rx="0.7" ry="3.0" transform="rotate(-30 326.5 454.0)"/>
<ellipse cx="332.0" cy="451.0" rx="2.5" ry="0.8" transform="rotate(30 332.0 451.0)"/>
<ellipse cx="335.6" cy="464.4" rx="2.5" ry="1.2" transform="rotate(0 335.6 464.4)"/>
<ellipse cx="330.0" cy="458.0" rx="1.5" ry="0.7" transform="rotate(0 330.0 458.0)"/>
<ellipse cx="341.0" cy="468.0" rx="1.5" ry="0.8" transform="rotate(0 341.0 468.0)"/>
<ellipse cx="897.5" cy="71.0" rx="2.5" ry="1.5" transform="rotate(-30 897.5 71.0)"/>
<ellipse cx="900.0" cy="75.0" rx="1.2" ry="1.5" transform="rotate(0 900.0 75.0)"/>
<ellipse cx="946.0" cy="90.0" rx="1.5" ry="3.0" transform="rotate(0 946.0 90.0)"/>
<ellipse cx="288.0" cy="125.0" rx="3.0" ry="4.0" transform="rotate(20 288.0 125.0)"/>
<ellipse cx="292.0" cy="131.0" rx="2.0" ry="3.0" transform="rotate(-20 292.0 131.0)"/></g><path fill="#d62a50" stroke="#111" stroke-width="0.6" d="M354.5,576.2 357.5,580.0 358.8,587.5 360.5,593.8 357.5,598.0 353.8,596.2 352.5,590.0 353.8,583.8 Z"/><g fill="none" stroke="#1a1a1a" stroke-width="0.8" stroke-linejoin="round"><path d="M24.6,202.4 157.6,202.4 157.6,198.7 160.5,199.5 162.2,205.4 168.9,206.9 173.9,206.2 180.6,209.4 189.0,211.9 194.0,210.4 201.6,212.4 206.6,212.6 214.2,209.4 230.1,216.3 243.9,223.3 246.5,227.8 250.2,227.3 251.9,231.7 255.7,232.7 254.4,234.2 263.7,239.2 267.0,256.1 264.3,262.0 263.7,266.0 258.6,269.5 258.6,272.4 264.5,275.1 273.7,270.0 283.8,268.0 293.0,263.8 292.6,259.5 291.3,257.5 295.5,255.8 311.5,255.8 315.7,250.1 324.0,243.6 329.1,242.2 355.9,242.2 356.8,239.7 361.4,239.7 361.8,237.9 365.1,234.2 366.4,229.2 368.5,225.3 375.0,217.7 377.7,220.5 382.8,218.8 387.0,221.6 387.0,233.2 389.9,236.2 390.1,240.9 393.7,243.6"/>
<path d="M24.6,242.2 82.9,242.2"/>
<path d="M82.9,202.4 82.9,281.9"/>
<path d="M24.6,281.9 99.7,281.9 99.7,321.6"/>
<path d="M41.0,281.9 41.0,377.9 48.1,377.9 48.1,373.4 62.1,373.4"/>
<path d="M24.6,321.6 162.0,321.6"/>
<path d="M61.3,371.2 91.2,371.2 91.4,326.6 91.7,321.6"/>
<path d="M91.7,326.6 116.9,326.6 116.9,345.8 123.6,348.4 129.5,350.4 134.5,352.4 140.4,353.4 147.1,353.6 154.6,352.4 163.2,355.0 163.6,337.5 162.0,326.6 162.0,321.6 162.1,300.7 158.8,295.8 156.3,291.8"/>
<path d="M99.7,291.8 156.3,291.8 152.1,285.8 151.7,279.9 149.6,274.9 146.7,267.0 146.7,257.0 146.7,239.2 143.3,236.2 145.7,232.8"/>
<path d="M82.9,262.0 129.5,262.0 134.5,264.0 140.4,263.5 146.7,267.0"/>
<path d="M82.9,232.8 145.7,232.8 143.7,226.3 143.7,217.3 141.2,210.4 140.4,202.4"/>
<path d="M146.7,257.0 190.5,257.0"/>
<path d="M152.4,286.0 186.2,285.8 188.8,288.0"/>
<path d="M162.0,326.6 199.5,326.6 197.6,331.5 203.3,331.5"/>
<path d="M166.9,355.8 166.9,361.3 190.9,361.3"/>
<path d="M166.9,361.3 166.9,381.2 171.0,381.2 169.7,387.1 168.5,394.1"/>
<path d="M177.3,231.7 177.7,242.2 184.0,248.1 190.3,253.6 190.5,257.0 191.5,265.0 195.4,267.0 199.1,273.9 191.9,279.9 189.0,287.8 188.2,292.3 194.5,299.2 199.5,303.7 197.8,309.7 204.5,318.6 207.9,321.6 204.9,326.6 203.3,331.5 200.3,339.5 198.2,341.4 195.7,344.4 191.9,352.4 190.9,361.3 192.8,368.3 188.2,375.2 187.3,381.2 203.0,381.2 202.0,384.6 204.1,389.3"/>
<path d="M177.3,231.7 181.5,231.2 181.5,225.7 183.1,224.8"/>
<path d="M195.4,267.0 219.2,267.0"/>
<path d="M197.4,226.8 208.3,231.2 216.7,233.2 219.2,238.7 220.9,241.2"/>
<path d="M221.5,274.3 221.5,298.3 220.9,304.7 217.9,309.7 217.1,313.6"/>
<path d="M224.2,274.3 244.4,274.9 255.7,274.6"/>
<path d="M244.2,274.9 244.2,300.7"/>
<path d="M280.3,269.3 280.3,285.4 279.2,289.8 277.5,294.8 272.0,298.8 269.5,302.2 266.2,305.7 262.8,307.5 259.5,304.4 253.6,305.2 248.6,302.2 244.2,300.7 241.0,304.7 236.4,309.0 231.8,311.2 227.6,312.2 222.6,312.7 217.1,313.6 213.8,320.6 207.9,321.6"/>
<path d="M204.9,326.6 217.1,326.6 217.1,324.8 253.8,325.6 270.5,325.7 319.3,326.1"/>
<path d="M198.2,341.4 258.6,341.4"/>
<path d="M215.8,341.4 216.7,342.4 213.6,372.2 214.2,388.6"/>
<path d="M237.7,341.4 241.2,362.6 242.7,368.3 242.3,376.2 242.7,381.2 243.9,384.1 266.2,385.4 267.4,387.5 267.8,383.7 272.5,384.1"/>
<path d="M220.9,381.2 242.7,381.2"/>
<path d="M220.9,381.2 222.6,384.6 221.7,388.1"/>
<path d="M258.6,341.4 256.5,344.4 260.3,346.6 265.8,353.9 268.3,356.8 272.0,360.8 275.4,369.3 277.3,370.9"/>
<path d="M258.6,341.4 264.5,339.5 275.9,340.0 275.9,341.1 276.8,340.5 278.1,343.2 287.3,343.4 296.8,352.8"/>
<path d="M270.5,325.7 267.8,330.0 262.8,331.5 258.6,335.0 251.9,336.5 248.4,341.4"/>
<path d="M253.8,325.6 258.6,323.1 265.3,318.6 268.1,316.2 262.8,310.0 262.8,307.5"/>
<path d="M268.1,316.2 274.6,319.1 282.1,316.6 282.9,311.7 287.6,306.2 291.3,307.2 294.3,303.7 298.5,297.8 302.8,300.4 303.7,298.6 305.6,299.7 307.7,301.7 309.5,303.7 307.7,308.2 310.2,309.7 315.7,312.7"/>
<path d="M303.7,298.6 299.7,295.0 294.7,296.3 289.0,299.7 289.0,294.6"/>
<path d="M280.3,294.6 319.9,294.6 321.5,293.5 323.0,293.8"/>
<path d="M319.9,294.6 320.8,307.1 326.1,307.2"/>
<path d="M320.8,311.4 324.5,311.4"/>
<path d="M286.6,269.3 286.6,271.9 323.6,271.9 326.1,275.9 329.1,278.4 325.5,282.1 324.9,285.8 328.7,289.8 325.7,292.8 323.0,293.8 321.9,296.8"/>
<path d="M329.1,278.4 335.8,281.9"/>
<path d="M337.9,281.9 339.3,279.9 339.1,271.4 341.1,264.5 341.2,256.1 340.0,250.1 340.4,242.2"/>
<path d="M339.1,271.5 353.4,271.7 353.4,278.4"/>
<path d="M353.4,271.8 356.9,271.8 358.4,276.9"/>
<path d="M341.1,264.6 347.9,264.7 357.6,265.0 361.6,263.3"/>
<path d="M347.9,264.7 348.4,259.0 351.3,253.1 351.3,249.1 355.5,246.1 355.9,242.2"/>
<path d="M362.5,261.2 360.4,258.0 359.9,246.1 359.4,239.2"/>
<path d="M183.1,224.8 192.4,218.3 204.1,212.4 210.0,207.9 215.8,205.9 223.4,204.4 231.8,205.4 235.1,212.4 243.5,213.4 245.2,222.3 246.9,227.3 242.7,224.8 234.3,225.8 222.6,227.3 217.5,223.3 218.4,217.8 212.5,221.3 204.1,224.3 196.6,226.3 190.7,223.8 183.1,224.8"/>
<path d="M221.7,275.4 219.2,267.0 218.4,261.5 220.0,254.1 221.7,247.1 225.9,239.2 220.9,243.6 217.5,246.6 220.9,241.2 225.9,234.7 231.8,232.7 238.5,231.7 244.8,234.2 242.7,236.2 239.3,240.2 237.7,244.1 232.6,245.1 230.1,252.1 230.5,256.1 232.2,262.0 231.8,268.0 229.3,271.9 225.9,274.9 221.7,275.4"/>
<path d="M244.8,234.2 251.1,232.2 259.5,230.7 267.8,231.2 272.0,232.2 277.9,233.2 283.8,239.2 286.3,244.1 283.8,247.1 277.1,246.1 273.7,239.7 270.4,248.1 270.4,255.1 267.8,260.0 264.5,262.0 263.7,256.1 262.4,252.1 259.5,251.6 256.1,253.1 251.9,255.6 255.3,251.1 256.9,248.1 256.9,242.2 255.3,238.7 250.2,237.2 244.8,234.2"/>
<path d="M255.7,274.9 258.6,271.9 263.7,271.9 268.7,269.0 274.6,265.5 281.3,266.0 288.8,263.5 293.9,263.3 290.5,267.0 283.8,270.5 276.2,273.4 270.4,276.9 263.7,277.9 259.5,276.9 255.7,274.9"/>
<path d="M286.3,259.0 289.7,255.6 297.2,253.1 305.6,252.1 314.0,250.1 316.5,256.5 311.5,259.0 304.8,259.5 297.2,258.5 292.2,259.5 286.3,259.0"/>
<path d="M24.6,377.9 48.1,377.9"/>
<path d="M62.1,373.4 64.9,376.7 74.9,384.6 79.1,394.6 89.2,401.0 93.4,397.6 97.6,392.3 105.1,393.4 111.0,400.0 114.4,408.0 121.1,415.9 124.4,426.8 132.0,430.3 140.8,431.3"/>
<path d="M183.3,542.7 184.0,535.0 186.8,529.4 198.0,529.4 197.3,525.2 191.0,518.2 193.8,517.5 193.1,512.6 207.8,512.3 207.8,530.8 211.3,531.5"/>
<path d="M207.8,512.3 212.0,508.4 216.9,502.8"/>
<path d="M215.5,532.9 207.8,544.8 205.7,546.9 200.1,552.5"/>
<path d="M205.7,546.9 210.6,548.3 214.8,551.8 219.0,552.5 221.1,556.0 221.8,558.1"/>
<path d="M223.9,559.5 227.4,556.0 228.8,552.5 233.0,551.1 237.2,547.6 241.4,543.4 248.4,542.0 257.5,540.6"/>
<path d="M237.2,578.4 242.8,579.8 248.4,579.1 251.2,581.9 254.7,581.2"/>
<path d="M272.5,600.0 275.0,606.2 272.5,611.2"/>
<path d="M312.5,607.5 310.0,612.5 306.2,613.8 303.8,616.2"/>
<path d="M350.0,570.0 345.0,580.0 341.2,590.0 342.5,597.5 347.5,600.0 348.8,610.0 350.0,617.5 360.0,618.8 367.5,622.5 375.0,626.2 387.5,626.2 390.0,635.0 388.8,647.0"/>
<path d="M455.0,606.2 450.0,611.2 446.2,617.5 442.5,623.8 445.0,632.5 448.8,638.8 445.0,645.0 437.5,647.5 430.0,650.0 422.5,651.2 417.5,648.8 412.5,647.5 417.5,657.5 421.2,670.0 417.5,676.2 405.0,682.5 397.5,680.0 392.5,670.0 387.5,662.5 391.2,650.0 390.0,640.0 391.2,627.5 380.0,627.5"/>
<path d="M448.8,638.8 452.5,640.0 455.0,650.0 453.8,660.0 460.0,670.0 465.0,676.2 472.5,672.5 480.0,670.0"/>
<path d="M466.2,620.0 467.5,627.5 473.8,635.0 471.2,645.0 475.0,657.5 480.0,670.0 487.5,665.0 495.0,663.8 500.0,667.5"/>
<path d="M503.2,631.2 501.2,640.0 500.0,647.5 502.5,657.5 500.0,667.5 507.5,666.2 515.0,662.5 522.5,650.0 525.0,646.2"/>
<path d="M380.0,627.5 375.0,640.0 377.5,657.5 370.0,670.0 372.5,690.0"/>
<path d="M883.0,272.5 890.0,272.0 897.5,273.8 902.5,275.0 901.2,282.5 897.5,288.8 900.0,295.0 896.2,301.2 897.5,307.5 895.0,315.0 893.8,320.0"/>
<path d="M941.2,342.5 942.5,352.5 945.0,365.0"/>
<path d="M941.2,340.0 942.5,355.0 946.2,365.0 947.0,370.0 937.5,370.5 930.0,373.8 925.0,378.8 922.5,385.0 916.2,388.8 910.0,393.8 902.5,396.2 892.5,398.0 886.2,402.5 883.0,406.2 883.0,420.0"/>
<path d="M861.2,421.2 872.5,422.5 883.0,420.0 883.0,431.2 855.0,431.2 854.5,440.0 853.8,450.0 847.5,457.5 847.0,477.5 815.0,477.0"/>
<path d="M855.0,431.2 852.5,440.0 847.5,447.5 841.2,453.8 838.8,462.5 836.2,471.2 832.5,477.0"/>
<path d="M883.0,420.0 905.0,435.0 925.0,450.0 947.5,465.0"/>
<path d="M916.2,441.2 901.2,441.2 905.0,480.0 908.8,517.0"/>
<path d="M906.3,500.0 910.7,535.3 876.9,535.3 868.1,538.2 857.8,535.3 856.3,544.1 850.4,536.7 844.6,529.4 837.2,523.5 826.9,525.0 818.1,526.4"/>
<path d="M856.3,544.1 854.9,552.9 859.3,561.7 860.7,566.1"/>
<path d="M818.1,555.8 826.9,552.9 835.8,554.3 840.2,555.8 835.8,557.3 826.9,557.3 818.1,558.2"/>
<path d="M816.7,563.2 826.9,563.2 841.6,562.3 860.7,565.2"/>
<path d="M841.6,563.2 840.2,570.5 832.8,574.9 826.9,577.0"/>
<path d="M860.7,566.1 868.1,569.0 879.8,566.1 882.8,573.4 885.7,580.8 890.1,586.7 900.4,585.2 909.2,583.7 910.7,573.4 918.0,567.6 921.0,557.3 929.8,552.9 938.6,547.0 948.9,542.6"/>
<path d="M846.0,596.9 850.4,591.1 859.3,589.6 865.1,594.0 868.1,601.4 866.6,605.8 859.3,616.0"/>
<path d="M866.6,605.8 872.5,604.3 876.9,610.2 878.4,616.0 884.2,613.1 887.2,623.4 891.6,629.3 893.0,645.4"/>
<path d="M890.1,586.7 891.6,596.9 890.1,605.8 885.7,613.1"/>
<path d="M900.4,585.2 906.3,588.1 918.0,592.5 929.8,591.1 932.7,582.3 948.9,579.3"/>
<path d="M932.7,591.1 934.2,602.8 931.2,617.5 932.7,638.1"/>
<path d="M354.5,492.6 353.5,497.0 355.0,502.0 354.3,508.0"/></g><g fill="none" stroke="#222" stroke-width="0.7" stroke-linejoin="round"></g>
</g>
<g class="lab">
<text x="186.1" y="74.2">7</text>
<text x="222.0" y="74.2">6</text>
<text x="293.8" y="74.2">7</text>
<text x="329.7" y="74.2">6</text>
<text x="365.6" y="74.2">3</text>
<text x="437.4" y="74.2">4</text>
<text x="473.3" y="74.2">7</text>
<text x="509.2" y="74.2">7</text>
<text x="616.9" y="74.2">8</text>
<text x="652.8" y="74.2">10</text>
<text x="688.7" y="74.2">10</text>
<text x="724.6" y="74.2">10</text>
<text x="760.5" y="74.2">10</text>
<text x="796.4" y="74.2">11</text>
<text x="832.3" y="74.2">11</text>
<text x="868.2" y="74.2">10</text>
<text x="904.1" y="74.2">10</text>
<text x="940.0" y="74.2">10</text>
<text x="186.1" y="110.1">7</text>
<text x="222.0" y="110.1">6</text>
<text x="257.9" y="110.1">7</text>
<text x="293.8" y="110.1">7</text>
<text x="437.4" y="110.1">4</text>
<text x="473.3" y="110.1">7</text>
<text x="509.2" y="110.1">7</text>
<text x="545.1" y="110.1">7</text>
<text x="581.0" y="110.1">9</text>
<text x="616.9" y="110.1">9</text>
<text x="652.8" y="110.1">10</text>
<text x="688.7" y="110.1">9</text>
<text x="724.6" y="110.1">11</text>
<text x="760.5" y="110.1">12</text>
<text x="796.4" y="110.1">13</text>
<text x="832.3" y="110.1">12</text>
<text x="868.2" y="110.1">13</text>
<text x="904.1" y="110.1">13</text>
<text x="940.0" y="110.1">13</text>
<text x="257.9" y="145.9">6</text>
<text x="293.8" y="145.9">8</text>
<text x="473.3" y="145.9">3</text>
<text x="509.2" y="145.9">7</text>
<text x="545.1" y="145.9">8</text>
<text x="581.0" y="145.9">10</text>
<text x="616.9" y="145.9">11</text>
<text x="652.8" y="145.9">11</text>
<text x="688.7" y="145.9">12</text>
<text x="724.6" y="145.9">13</text>
<text x="760.5" y="145.9">14</text>
<text x="796.4" y="145.9">14</text>
<text x="832.3" y="145.9">14</text>
<text x="868.2" y="145.9">14</text>
<text x="904.1" y="145.9">14</text>
<text x="293.8" y="181.8">11</text>
<text x="509.2" y="181.8">7</text>
<text x="545.1" y="181.8">11</text>
<text x="581.0" y="181.8">13</text>
<text x="616.9" y="181.8">13</text>
<text x="652.8" y="181.8">14</text>
<text x="688.7" y="181.8">14</text>
<text x="724.6" y="181.8">16</text>
<text x="760.5" y="181.8">16</text>
<text x="796.4" y="181.8">14</text>
<text x="832.3" y="181.8">14</text>
<text x="868.2" y="181.8">16</text>
<text x="904.1" y="181.8">16</text>
<text x="222.0" y="217.6">11</text>
<text x="437.4" y="217.6">11</text>
<text x="509.2" y="217.6">10</text>
<text x="545.1" y="217.6">11</text>
<text x="581.0" y="217.6">13</text>
<text x="616.9" y="217.6">20</text>
<text x="652.8" y="217.6">17</text>
<text x="688.7" y="217.6">18</text>
<text x="724.6" y="217.6">17</text>
<text x="760.5" y="217.6">17</text>
<text x="796.4" y="217.6">18</text>
<text x="832.3" y="217.6">18</text>
<text x="868.2" y="217.6">16</text>
<text x="904.1" y="217.6">17</text>
<text x="257.9" y="253.5">16</text>
<text x="401.5" y="253.5">12</text>
<text x="437.4" y="253.5">13</text>
<text x="473.3" y="253.5">15</text>
<text x="509.2" y="253.5">17</text>
<text x="545.1" y="253.5">13</text>
<text x="581.0" y="253.5">20</text>
<text x="616.9" y="253.5">20</text>
<text x="652.8" y="253.5">21</text>
<text x="688.7" y="253.5">21</text>
<text x="724.6" y="253.5">20</text>
<text x="760.5" y="253.5">20</text>
<text x="796.4" y="253.5">18</text>
<text x="832.3" y="253.5">19</text>
<text x="868.2" y="253.5">17</text>
<text x="904.1" y="253.5">20</text>
<text x="940.0" y="253.5">21</text>
<text x="365.6" y="289.3">20</text>
<text x="401.5" y="289.3">20</text>
<text x="437.4" y="289.3">23</text>
<text x="473.3" y="289.3">25</text>
<text x="509.2" y="289.3">22</text>
<text x="545.1" y="289.3">21</text>
<text x="581.0" y="289.3">23</text>
<text x="616.9" y="289.3">23</text>
<text x="652.8" y="289.3">23</text>
<text x="688.7" y="289.3">23</text>
<text x="724.6" y="289.3">22</text>
<text x="760.5" y="289.3">21</text>
<text x="796.4" y="289.3">21</text>
<text x="832.3" y="289.3">20</text>
<text x="868.2" y="289.3">18</text>
<text x="329.7" y="325.2">24</text>
<text x="365.6" y="325.2">28</text>
<text x="401.5" y="325.2">27</text>
<text x="437.4" y="325.2">27</text>
<text x="473.3" y="325.2">26</text>
<text x="509.2" y="325.2">26</text>
<text x="545.1" y="325.2">25</text>
<text x="581.0" y="325.2">26</text>
<text x="616.9" y="325.2">24</text>
<text x="652.8" y="325.2">25</text>
<text x="688.7" y="325.2">24</text>
<text x="724.6" y="325.2">23</text>
<text x="760.5" y="325.2">24</text>
<text x="796.4" y="325.2">22</text>
<text x="832.3" y="325.2">21</text>
<text x="868.2" y="325.2">21</text>
<text x="293.8" y="361.0">28</text>
<text x="329.7" y="361.0">28</text>
<text x="365.6" y="361.0">28</text>
<text x="401.5" y="361.0">28</text>
<text x="437.4" y="361.0">28</text>
<text x="473.3" y="361.0">27</text>
<text x="509.2" y="361.0">26</text>
<text x="545.1" y="361.0">26</text>
<text x="581.0" y="361.0">26</text>
<text x="616.9" y="361.0">26</text>
<text x="652.8" y="361.0">27</text>
<text x="688.7" y="361.0">26</text>
<text x="724.6" y="361.0">26</text>
<text x="760.5" y="361.0">25</text>
<text x="796.4" y="361.0">23</text>
<text x="832.3" y="361.0">22</text>
<text x="868.2" y="361.0">23</text>
<text x="222.0" y="396.9">30</text>
<text x="293.8" y="396.9">29</text>
<text x="329.7" y="396.9">28</text>
<text x="365.6" y="396.9">29</text>
<text x="401.5" y="396.9">29</text>
<text x="437.4" y="396.9">28</text>
<text x="473.3" y="396.9">28</text>
<text x="509.2" y="396.9">27</text>
<text x="545.1" y="396.9">27</text>
<text x="581.0" y="396.9">27</text>
<text x="616.9" y="396.9">27</text>
<text x="652.8" y="396.9">27</text>
<text x="688.7" y="396.9">27</text>
<text x="724.6" y="396.9">26</text>
<text x="760.5" y="396.9">25</text>
<text x="796.4" y="396.9">24</text>
<text x="832.3" y="396.9">23</text>
<text x="868.2" y="396.9">22</text>
<text x="150.2" y="432.7">30</text>
<text x="186.1" y="432.7">29</text>
<text x="222.0" y="432.7">29</text>
<text x="257.9" y="432.7">30</text>
<text x="293.8" y="432.7">29</text>
<text x="329.7" y="432.7">27</text>
<text x="365.6" y="432.7">28</text>
<text x="401.5" y="432.7">28</text>
<text x="437.4" y="432.7">28</text>
<text x="473.3" y="432.7">28</text>
<text x="509.2" y="432.7">28</text>
<text x="545.1" y="432.7">28</text>
<text x="581.0" y="432.7">28</text>
<text x="616.9" y="432.7">28</text>
<text x="652.8" y="432.7">27</text>
<text x="688.7" y="432.7">27</text>
<text x="724.6" y="432.7">26</text>
<text x="760.5" y="432.7">24</text>
<text x="796.4" y="432.7">24</text>
<text x="832.3" y="432.7">22</text>
<text x="42.5" y="468.6">30</text>
<text x="150.2" y="468.6">30</text>
<text x="186.1" y="468.6">30</text>
<text x="222.0" y="468.6">30</text>
<text x="293.8" y="468.6">29</text>
<text x="329.7" y="468.6">28</text>
<text x="365.6" y="468.6">28</text>
<text x="401.5" y="468.6">28</text>
<text x="437.4" y="468.6">28</text>
<text x="473.3" y="468.6">28</text>
<text x="509.2" y="468.6">28</text>
<text x="545.1" y="468.6">28</text>
<text x="581.0" y="468.6">28</text>
<text x="616.9" y="468.6">28</text>
<text x="652.8" y="468.6">27</text>
<text x="688.7" y="468.6">27</text>
<text x="724.6" y="468.6">26</text>
<text x="760.5" y="468.6">25</text>
<text x="796.4" y="468.6">24</text>
<text x="42.5" y="504.4">30</text>
<text x="78.4" y="504.4">30</text>
<text x="186.1" y="504.4">30</text>
<text x="222.0" y="504.4">29</text>
<text x="257.9" y="504.4">30</text>
<text x="293.8" y="504.4">30</text>
<text x="329.7" y="504.4">30</text>
<text x="401.5" y="504.4">29</text>
<text x="437.4" y="504.4">30</text>
<text x="473.3" y="504.4">29</text>
<text x="509.2" y="504.4">29</text>
<text x="545.1" y="504.4">28</text>
<text x="581.0" y="504.4">28</text>
<text x="616.9" y="504.4">28</text>
<text x="652.8" y="504.4">27</text>
<text x="688.7" y="504.4">27</text>
<text x="724.6" y="504.4">27</text>
<text x="760.5" y="504.4">25</text>
<text x="796.4" y="504.4">26</text>
<text x="42.5" y="540.3">29</text>
<text x="78.4" y="540.3">30</text>
<text x="114.3" y="540.3">30</text>
<text x="150.2" y="540.3">31</text>
<text x="257.9" y="540.3">30</text>
<text x="293.8" y="540.3">30</text>
<text x="329.7" y="540.3">29</text>
<text x="365.6" y="540.3">29</text>
<text x="401.5" y="540.3">29</text>
<text x="437.4" y="540.3">29</text>
<text x="473.3" y="540.3">29</text>
<text x="509.2" y="540.3">29</text>
<text x="545.1" y="540.3">28</text>
<text x="581.0" y="540.3">28</text>
<text x="616.9" y="540.3">28</text>
<text x="652.8" y="540.3">28</text>
<text x="688.7" y="540.3">28</text>
<text x="724.6" y="540.3">27</text>
<text x="760.5" y="540.3">27</text>
<text x="796.4" y="540.3">27</text>
<text x="42.5" y="576.2">28</text>
<text x="78.4" y="576.2">29</text>
<text x="114.3" y="576.2">30</text>
<text x="150.2" y="576.2">30</text>
<text x="186.1" y="576.2">30</text>
<text x="222.0" y="576.2">29</text>
<text x="257.9" y="576.2">29</text>
<text x="293.8" y="576.2">29</text>
<text x="329.7" y="576.2">28</text>
<text x="365.6" y="576.2">27</text>
<text x="401.5" y="576.2">29</text>
<text x="437.4" y="576.2">29</text>
<text x="473.3" y="576.2">30</text>
<text x="509.2" y="576.2">29</text>
<text x="545.1" y="576.2">29</text>
<text x="581.0" y="576.2">28</text>
<text x="616.9" y="576.2">28</text>
<text x="652.8" y="576.2">29</text>
<text x="688.7" y="576.2">28</text>
<text x="724.6" y="576.2">27</text>
<text x="760.5" y="576.2">28</text>
<text x="796.4" y="576.2">28</text>
<text x="42.5" y="612.0">28</text>
<text x="78.4" y="612.0">28</text>
<text x="114.3" y="612.0">28</text>
<text x="150.2" y="612.0">29</text>
<text x="186.1" y="612.0">28</text>
<text x="222.0" y="612.0">28</text>
<text x="257.9" y="612.0">29</text>
<text x="293.8" y="612.0">27</text>
<text x="473.3" y="612.0">28</text>
<text x="509.2" y="612.0">30</text>
<text x="545.1" y="612.0">30</text>
<text x="581.0" y="612.0">30</text>
<text x="616.9" y="612.0">29</text>
<text x="652.8" y="612.0">28</text>
<text x="688.7" y="612.0">28</text>
<text x="724.6" y="612.0">28</text>
<text x="760.5" y="612.0">28</text>
<text x="796.4" y="612.0">27</text>
<text x="832.3" y="612.0">26</text>
<text x="42.5" y="647.9">26</text>
<text x="78.4" y="647.9">26</text>
<text x="114.3" y="647.9">27</text>
<text x="150.2" y="647.9">27</text>
<text x="186.1" y="647.9">26</text>
<text x="222.0" y="647.9">27</text>
<text x="257.9" y="647.9">27</text>
<text x="293.8" y="647.9">27</text>
<text x="545.1" y="647.9">28</text>
<text x="581.0" y="647.9">29</text>
<text x="616.9" y="647.9">28</text>
<text x="652.8" y="647.9">27</text>
<text x="688.7" y="647.9">28</text>
<text x="724.6" y="647.9">28</text>
<text x="760.5" y="647.9">27</text>
<text x="796.4" y="647.9">27</text>
<text x="832.3" y="647.9">27</text>
<text x="868.2" y="647.9">26</text>
<text x="904.1" y="647.9">25</text>
<text x="940.0" y="647.9">26</text>
<text x="42.5" y="683.7">22</text>
<text x="78.4" y="683.7">21</text>
<text x="114.3" y="683.7">22</text>
<text x="150.2" y="683.7">21</text>
<text x="186.1" y="683.7">23</text>
<text x="222.0" y="683.7">24</text>
<text x="257.9" y="683.7">24</text>
<text x="545.1" y="683.7">28</text>
<text x="581.0" y="683.7">26</text>
<text x="616.9" y="683.7">27</text>
<text x="652.8" y="683.7">26</text>
<text x="688.7" y="683.7">28</text>
<text x="724.6" y="683.7">26</text>
<text x="760.5" y="683.7">26</text>
<text x="796.4" y="683.7">25</text>
<text x="832.3" y="683.7">25</text>
<text x="868.2" y="683.7">24</text>
<text x="904.1" y="683.7">25</text>
<text x="940.0" y="683.7">26</text>
</g>
</g>
<rect x="33" y="44" width="914.5" height="645" fill="none" stroke="#000" stroke-width="1"/>
<g class="cb"><rect x="948" y="672.00" width="21" height="16.50" fill="#ffffff" stroke="#222" stroke-width="0.6"/>
<rect x="948" y="655.50" width="21" height="16.50" fill="#ececf8" stroke="#222" stroke-width="0.6"/>
<rect x="948" y="639.00" width="21" height="16.50" fill="#dadaf2" stroke="#222" stroke-width="0.6"/>
<rect x="948" y="622.50" width="21" height="16.50" fill="#c6c6ec" stroke="#222" stroke-width="0.6"/>
<rect x="948" y="606.00" width="21" height="16.50" fill="#b2b0e6" stroke="#222" stroke-width="0.6"/>
<rect x="948" y="589.50" width="21" height="16.50" fill="#9e9ce0" stroke="#222" stroke-width="0.6"/>
<rect x="948" y="573.00" width="21" height="16.50" fill="#8a86d8" stroke="#222" stroke-width="0.6"/>
<rect x="948" y="556.50" width="21" height="16.50" fill="#7672d0" stroke="#222" stroke-width="0.6"/>
<rect x="948" y="540.00" width="21" height="16.50" fill="#645cc6" stroke="#222" stroke-width="0.6"/>
<rect x="948" y="523.50" width="21" height="16.50" fill="#5046b8" stroke="#222" stroke-width="0.6"/>
<rect x="948" y="507.00" width="21" height="16.50" fill="#0a3ca0" stroke="#222" stroke-width="0.6"/>
<rect x="948" y="490.50" width="21" height="16.50" fill="#0c48b0" stroke="#222" stroke-width="0.6"/>
<rect x="948" y="474.00" width="21" height="16.50" fill="#1052be" stroke="#222" stroke-width="0.6"/>
<rect x="948" y="457.50" width="21" height="16.50" fill="#1460cc" stroke="#222" stroke-width="0.6"/>
<rect x="948" y="441.00" width="21" height="16.50" fill="#1a6ee0" stroke="#222" stroke-width="0.6"/>
<rect x="948" y="424.50" width="21" height="16.50" fill="#2a82ff" stroke="#222" stroke-width="0.6"/>
<rect x="948" y="408.00" width="21" height="16.50" fill="#4aa0f5" stroke="#222" stroke-width="0.6"/>
<rect x="948" y="391.50" width="21" height="16.50" fill="#5cbcec" stroke="#222" stroke-width="0.6"/>
<rect x="948" y="375.00" width="21" height="16.50" fill="#6cd8e6" stroke="#222" stroke-width="0.6"/>
<rect x="948" y="358.50" width="21" height="16.50" fill="#80eedc" stroke="#222" stroke-width="0.6"/>
<rect x="948" y="342.00" width="21" height="16.50" fill="#96ffd2" stroke="#222" stroke-width="0.6"/>
<rect x="948" y="325.50" width="21" height="16.50" fill="#78eeaa" stroke="#222" stroke-width="0.6"/>
<rect x="948" y="309.00" width="21" height="16.50" fill="#5ad67f" stroke="#222" stroke-width="0.6"/>
<rect x="948" y="292.50" width="21" height="16.50" fill="#3cbe55" stroke="#222" stroke-width="0.6"/>
<rect x="948" y="276.00" width="21" height="16.50" fill="#1ea633" stroke="#222" stroke-width="0.6"/>
<rect x="948" y="259.50" width="21" height="16.50" fill="#008c14" stroke="#222" stroke-width="0.6"/>
<rect x="948" y="243.00" width="21" height="16.50" fill="#ffff00" stroke="#222" stroke-width="0.6"/>
<rect x="948" y="226.50" width="21" height="16.50" fill="#f5d10a" stroke="#222" stroke-width="0.6"/>
<rect x="948" y="210.00" width="21" height="16.50" fill="#efa90a" stroke="#222" stroke-width="0.6"/>
<rect x="948" y="193.50" width="21" height="16.50" fill="#e8850a" stroke="#222" stroke-width="0.6"/>
<rect x="948" y="177.00" width="21" height="16.50" fill="#e05c08" stroke="#222" stroke-width="0.6"/>
<rect x="948" y="160.50" width="21" height="16.50" fill="#d62f06" stroke="#222" stroke-width="0.6"/>
<rect x="948" y="144.00" width="21" height="16.50" fill="#c80808" stroke="#222" stroke-width="0.6"/>
<rect x="948" y="127.50" width="21" height="16.50" fill="#cc1530" stroke="#222" stroke-width="0.6"/>
<rect x="948" y="111.00" width="21" height="16.50" fill="#d62a50" stroke="#222" stroke-width="0.6"/>
<rect x="948" y="94.50" width="21" height="16.50" fill="#de4080" stroke="#222" stroke-width="0.6"/>
<rect x="948" y="78.00" width="21" height="16.50" fill="#e455a8" stroke="#222" stroke-width="0.6"/>
<rect x="948" y="61.50" width="21" height="16.50" fill="#ec6fd2" stroke="#222" stroke-width="0.6"/>
<rect x="948" y="45.00" width="21" height="16.50" fill="#f580f5" stroke="#222" stroke-width="0.6"/></g>
<g class="cbl"><text x="973.3" y="660.4">2</text>
<text x="973.3" y="627.4">4</text>
<text x="973.3" y="594.4">6</text>
<text x="973.3" y="561.4">8</text>
<text x="973.3" y="528.4">10</text>
<text x="973.3" y="495.4">12</text>
<text x="973.3" y="462.4">14</text>
<text x="973.3" y="429.4">16</text>
<text x="973.3" y="396.4">18</text>
<text x="973.3" y="363.4">20</text>
<text x="973.3" y="330.4">22</text>
<text x="973.3" y="297.4">24</text>
<text x="973.3" y="264.4">26</text>
<text x="973.3" y="231.4">27</text>
<text x="973.3" y="198.4">28</text>
<text x="973.3" y="165.4">29</text>
<text x="973.3" y="132.4">30</text>
<text x="973.3" y="99.4">31</text>
<text x="973.3" y="66.4">32</text></g>
<g class="ax"><line x1="29" x2="33" y1="93.7" y2="93.7" stroke="#333" stroke-width="0.8"/>
<text x="16.2" y="98.3" text-anchor="middle">60N</text>
<line x1="29" x2="33" y1="292.3" y2="292.3" stroke="#333" stroke-width="0.8"/>
<text x="16.2" y="296.9" text-anchor="middle">40N</text>
<line x1="29" x2="33" y1="490.9" y2="490.9" stroke="#333" stroke-width="0.8"/>
<text x="16.2" y="495.5" text-anchor="middle">20N</text>
<line x1="29" x2="33" y1="690.0" y2="690.0" stroke="#333" stroke-width="0.8"/>
<text x="16.2" y="694.6" text-anchor="middle">EQ</text>
<line x1="116.9" x2="116.9" y1="689" y2="693" stroke="#333" stroke-width="0.8"/>
<text x="116.9" y="705.3" text-anchor="middle">100W</text>
<line x1="284.6" x2="284.6" y1="689" y2="693" stroke="#333" stroke-width="0.8"/>
<text x="284.6" y="705.3" text-anchor="middle">80W</text>
<line x1="452.4" x2="452.4" y1="689" y2="693" stroke="#333" stroke-width="0.8"/>
<text x="452.4" y="705.3" text-anchor="middle">60W</text>
<line x1="620.1" x2="620.1" y1="689" y2="693" stroke="#333" stroke-width="0.8"/>
<text x="620.1" y="705.3" text-anchor="middle">40W</text>
<line x1="787.9" x2="787.9" y1="689" y2="693" stroke="#333" stroke-width="0.8"/>
<text x="787.9" y="705.3" text-anchor="middle">20W</text></g>
</svg>
</body></html>
